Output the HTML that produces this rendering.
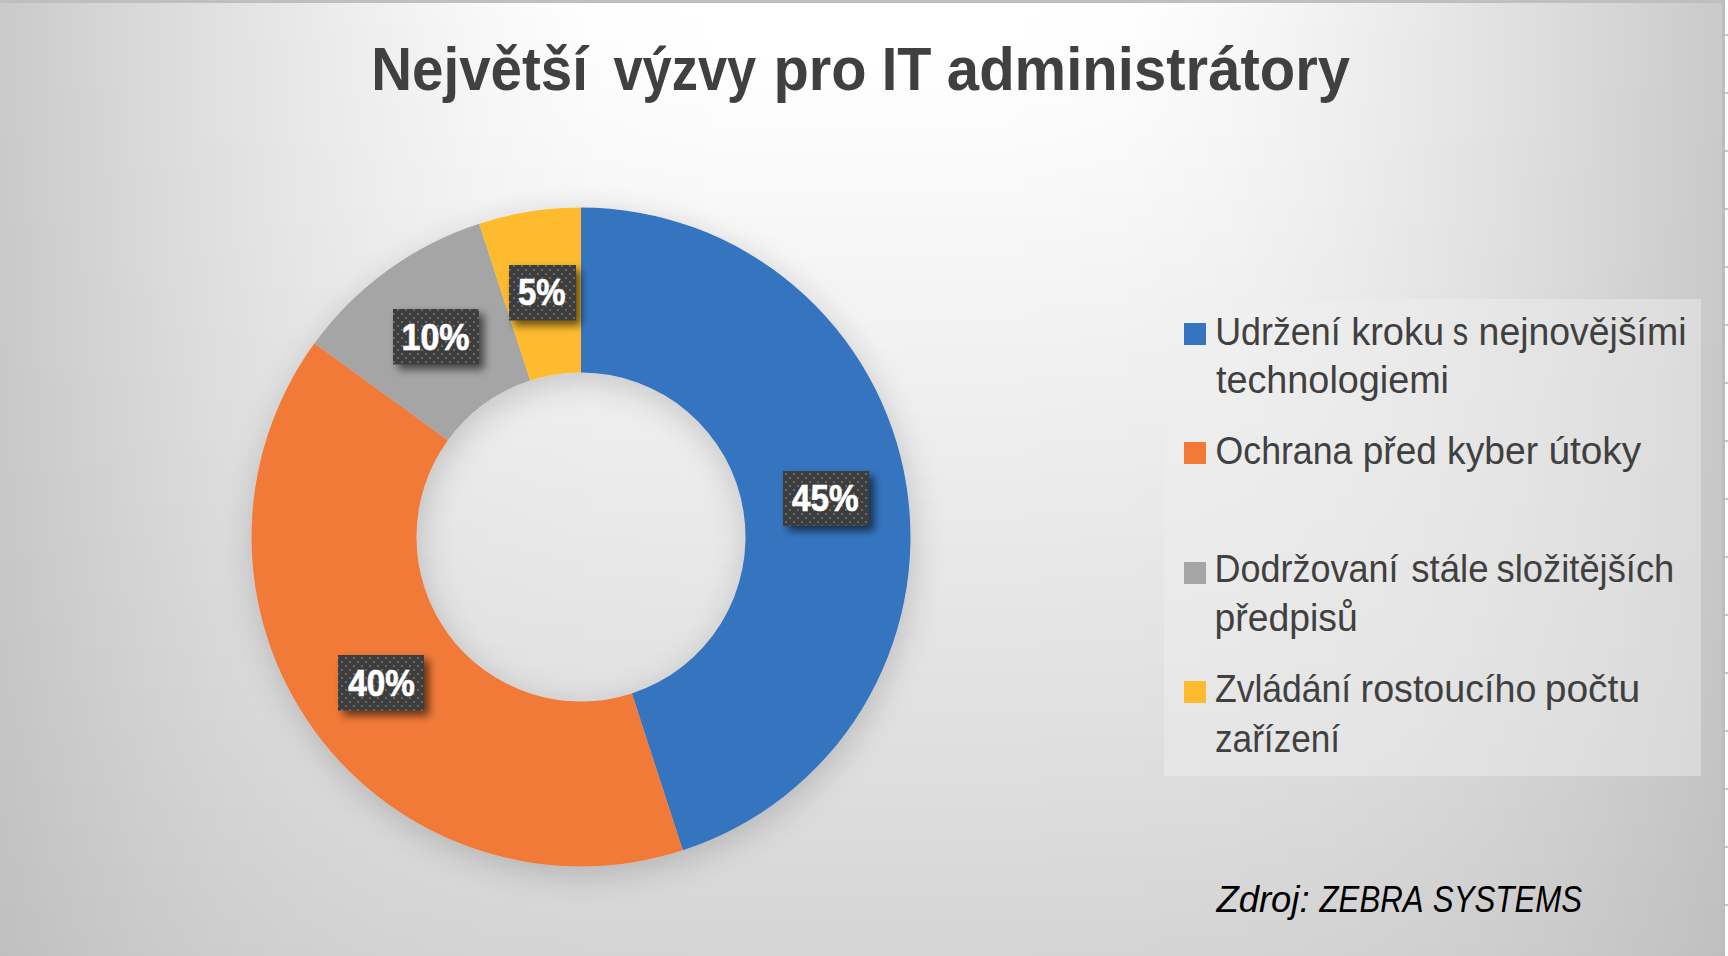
<!DOCTYPE html>
<html>
<head>
<meta charset="utf-8">
<style>
html,body{margin:0;padding:0;width:1728px;height:956px;overflow:hidden;background:#ffffff;}
#chart{position:absolute;left:0;top:0;width:1728px;height:956px;}
svg text{font-family:"Liberation Sans",sans-serif;}
</style>
</head>
<body>
<svg id="chart" width="1728" height="956" viewBox="0 0 1728 956">
<defs>
<linearGradient id="r0" gradientUnits="userSpaceOnUse" x1="0" y1="0" x2="861" y2="0" spreadMethod="reflect"><stop offset="0.0000" stop-color="#cacaca"/><stop offset="0.0465" stop-color="#cecece"/><stop offset="0.1045" stop-color="#d4d4d4"/><stop offset="0.1742" stop-color="#dadada"/><stop offset="0.2555" stop-color="#e1e1e1"/><stop offset="0.3484" stop-color="#e9e9e9"/><stop offset="0.4530" stop-color="#f1f1f1"/><stop offset="0.5691" stop-color="#f9f9f9"/><stop offset="0.6969" stop-color="#ffffff"/><stop offset="0.8362" stop-color="#ffffff"/><stop offset="1.0000" stop-color="#ffffff"/></linearGradient>
<linearGradient id="r1" gradientUnits="userSpaceOnUse" x1="0" y1="0" x2="861" y2="0" spreadMethod="reflect"><stop offset="0.0000" stop-color="#cacaca"/><stop offset="0.0465" stop-color="#cecece"/><stop offset="0.1045" stop-color="#d4d4d4"/><stop offset="0.1742" stop-color="#dadada"/><stop offset="0.2555" stop-color="#e1e1e1"/><stop offset="0.3484" stop-color="#e9e9e9"/><stop offset="0.4530" stop-color="#f1f1f1"/><stop offset="0.5691" stop-color="#f9f9f9"/><stop offset="0.6969" stop-color="#ffffff"/><stop offset="0.8362" stop-color="#ffffff"/><stop offset="1.0000" stop-color="#ffffff"/></linearGradient>
<linearGradient id="r2" gradientUnits="userSpaceOnUse" x1="0" y1="0" x2="861" y2="0" spreadMethod="reflect"><stop offset="0.0000" stop-color="#cacaca"/><stop offset="0.0465" stop-color="#cecece"/><stop offset="0.1045" stop-color="#d4d4d4"/><stop offset="0.1742" stop-color="#dadada"/><stop offset="0.2555" stop-color="#e1e1e1"/><stop offset="0.3484" stop-color="#e9e9e9"/><stop offset="0.4530" stop-color="#f1f1f1"/><stop offset="0.5691" stop-color="#f9f9f9"/><stop offset="0.6969" stop-color="#ffffff"/><stop offset="0.8362" stop-color="#ffffff"/><stop offset="1.0000" stop-color="#ffffff"/></linearGradient>
<linearGradient id="r3" gradientUnits="userSpaceOnUse" x1="0" y1="0" x2="861" y2="0" spreadMethod="reflect"><stop offset="0.0000" stop-color="#cacaca"/><stop offset="0.0465" stop-color="#cecece"/><stop offset="0.1045" stop-color="#d4d4d4"/><stop offset="0.1742" stop-color="#dadada"/><stop offset="0.2555" stop-color="#e1e1e1"/><stop offset="0.3484" stop-color="#e9e9e9"/><stop offset="0.4530" stop-color="#f1f1f1"/><stop offset="0.5691" stop-color="#f8f8f8"/><stop offset="0.6969" stop-color="#fefefe"/><stop offset="0.8362" stop-color="#ffffff"/><stop offset="1.0000" stop-color="#ffffff"/></linearGradient>
<linearGradient id="r4" gradientUnits="userSpaceOnUse" x1="0" y1="0" x2="861" y2="0" spreadMethod="reflect"><stop offset="0.0000" stop-color="#cacaca"/><stop offset="0.0465" stop-color="#cecece"/><stop offset="0.1045" stop-color="#d4d4d4"/><stop offset="0.1742" stop-color="#dadada"/><stop offset="0.2555" stop-color="#e1e1e1"/><stop offset="0.3484" stop-color="#e9e9e9"/><stop offset="0.4530" stop-color="#f1f1f1"/><stop offset="0.5691" stop-color="#f8f8f8"/><stop offset="0.6969" stop-color="#fefefe"/><stop offset="0.8362" stop-color="#ffffff"/><stop offset="1.0000" stop-color="#ffffff"/></linearGradient>
<linearGradient id="r5" gradientUnits="userSpaceOnUse" x1="0" y1="0" x2="861" y2="0" spreadMethod="reflect"><stop offset="0.0000" stop-color="#cacaca"/><stop offset="0.0465" stop-color="#cecece"/><stop offset="0.1045" stop-color="#d4d4d4"/><stop offset="0.1742" stop-color="#dadada"/><stop offset="0.2555" stop-color="#e1e1e1"/><stop offset="0.3484" stop-color="#e9e9e9"/><stop offset="0.4530" stop-color="#f1f1f1"/><stop offset="0.5691" stop-color="#f8f8f8"/><stop offset="0.6969" stop-color="#fefefe"/><stop offset="0.8362" stop-color="#ffffff"/><stop offset="1.0000" stop-color="#ffffff"/></linearGradient>
<linearGradient id="r6" gradientUnits="userSpaceOnUse" x1="0" y1="0" x2="861" y2="0" spreadMethod="reflect"><stop offset="0.0000" stop-color="#cacaca"/><stop offset="0.0465" stop-color="#cecece"/><stop offset="0.1045" stop-color="#d4d4d4"/><stop offset="0.1742" stop-color="#dadada"/><stop offset="0.2555" stop-color="#e1e1e1"/><stop offset="0.3484" stop-color="#e9e9e9"/><stop offset="0.4530" stop-color="#f0f0f0"/><stop offset="0.5691" stop-color="#f8f8f8"/><stop offset="0.6969" stop-color="#fefefe"/><stop offset="0.8362" stop-color="#ffffff"/><stop offset="1.0000" stop-color="#ffffff"/></linearGradient>
<linearGradient id="r7" gradientUnits="userSpaceOnUse" x1="0" y1="0" x2="861" y2="0" spreadMethod="reflect"><stop offset="0.0000" stop-color="#cacaca"/><stop offset="0.0465" stop-color="#cecece"/><stop offset="0.1045" stop-color="#d4d4d4"/><stop offset="0.1742" stop-color="#dadada"/><stop offset="0.2555" stop-color="#e1e1e1"/><stop offset="0.3484" stop-color="#e9e9e9"/><stop offset="0.4530" stop-color="#f0f0f0"/><stop offset="0.5691" stop-color="#f8f8f8"/><stop offset="0.6969" stop-color="#fefefe"/><stop offset="0.8362" stop-color="#ffffff"/><stop offset="1.0000" stop-color="#ffffff"/></linearGradient>
<linearGradient id="r8" gradientUnits="userSpaceOnUse" x1="0" y1="0" x2="861" y2="0" spreadMethod="reflect"><stop offset="0.0000" stop-color="#cacaca"/><stop offset="0.0465" stop-color="#cecece"/><stop offset="0.1045" stop-color="#d4d4d4"/><stop offset="0.1742" stop-color="#dadada"/><stop offset="0.2555" stop-color="#e1e1e1"/><stop offset="0.3484" stop-color="#e9e9e9"/><stop offset="0.4530" stop-color="#f0f0f0"/><stop offset="0.5691" stop-color="#f8f8f8"/><stop offset="0.6969" stop-color="#fefefe"/><stop offset="0.8362" stop-color="#ffffff"/><stop offset="1.0000" stop-color="#ffffff"/></linearGradient>
<linearGradient id="r9" gradientUnits="userSpaceOnUse" x1="0" y1="0" x2="861" y2="0" spreadMethod="reflect"><stop offset="0.0000" stop-color="#cacaca"/><stop offset="0.0465" stop-color="#cecece"/><stop offset="0.1045" stop-color="#d4d4d4"/><stop offset="0.1742" stop-color="#dadada"/><stop offset="0.2555" stop-color="#e1e1e1"/><stop offset="0.3484" stop-color="#e8e8e8"/><stop offset="0.4530" stop-color="#f0f0f0"/><stop offset="0.5691" stop-color="#f8f8f8"/><stop offset="0.6969" stop-color="#fefefe"/><stop offset="0.8362" stop-color="#ffffff"/><stop offset="1.0000" stop-color="#ffffff"/></linearGradient>
<linearGradient id="r10" gradientUnits="userSpaceOnUse" x1="0" y1="0" x2="861" y2="0" spreadMethod="reflect"><stop offset="0.0000" stop-color="#cacaca"/><stop offset="0.0465" stop-color="#cecece"/><stop offset="0.1045" stop-color="#d4d4d4"/><stop offset="0.1742" stop-color="#dadada"/><stop offset="0.2555" stop-color="#e1e1e1"/><stop offset="0.3484" stop-color="#e8e8e8"/><stop offset="0.4530" stop-color="#f0f0f0"/><stop offset="0.5691" stop-color="#f8f8f8"/><stop offset="0.6969" stop-color="#fdfdfd"/><stop offset="0.8362" stop-color="#ffffff"/><stop offset="1.0000" stop-color="#ffffff"/></linearGradient>
<linearGradient id="r11" gradientUnits="userSpaceOnUse" x1="0" y1="0" x2="861" y2="0" spreadMethod="reflect"><stop offset="0.0000" stop-color="#cacaca"/><stop offset="0.0465" stop-color="#cecece"/><stop offset="0.1045" stop-color="#d4d4d4"/><stop offset="0.1742" stop-color="#dadada"/><stop offset="0.2555" stop-color="#e1e1e1"/><stop offset="0.3484" stop-color="#e8e8e8"/><stop offset="0.4530" stop-color="#f0f0f0"/><stop offset="0.5691" stop-color="#f8f8f8"/><stop offset="0.6969" stop-color="#fdfdfd"/><stop offset="0.8362" stop-color="#ffffff"/><stop offset="1.0000" stop-color="#ffffff"/></linearGradient>
<linearGradient id="r12" gradientUnits="userSpaceOnUse" x1="0" y1="0" x2="861" y2="0" spreadMethod="reflect"><stop offset="0.0000" stop-color="#cacaca"/><stop offset="0.0465" stop-color="#cecece"/><stop offset="0.1045" stop-color="#d4d4d4"/><stop offset="0.1742" stop-color="#dadada"/><stop offset="0.2555" stop-color="#e1e1e1"/><stop offset="0.3484" stop-color="#e8e8e8"/><stop offset="0.4530" stop-color="#f0f0f0"/><stop offset="0.5691" stop-color="#f8f8f8"/><stop offset="0.6969" stop-color="#fdfdfd"/><stop offset="0.8362" stop-color="#ffffff"/><stop offset="1.0000" stop-color="#ffffff"/></linearGradient>
<linearGradient id="r13" gradientUnits="userSpaceOnUse" x1="0" y1="0" x2="861" y2="0" spreadMethod="reflect"><stop offset="0.0000" stop-color="#cacaca"/><stop offset="0.0465" stop-color="#cecece"/><stop offset="0.1045" stop-color="#d4d4d4"/><stop offset="0.1742" stop-color="#dadada"/><stop offset="0.2555" stop-color="#e1e1e1"/><stop offset="0.3484" stop-color="#e8e8e8"/><stop offset="0.4530" stop-color="#f0f0f0"/><stop offset="0.5691" stop-color="#f8f8f8"/><stop offset="0.6969" stop-color="#fdfdfd"/><stop offset="0.8362" stop-color="#ffffff"/><stop offset="1.0000" stop-color="#ffffff"/></linearGradient>
<linearGradient id="r14" gradientUnits="userSpaceOnUse" x1="0" y1="0" x2="861" y2="0" spreadMethod="reflect"><stop offset="0.0000" stop-color="#cacaca"/><stop offset="0.0465" stop-color="#cecece"/><stop offset="0.1045" stop-color="#d4d4d4"/><stop offset="0.1742" stop-color="#dadada"/><stop offset="0.2555" stop-color="#e1e1e1"/><stop offset="0.3484" stop-color="#e8e8e8"/><stop offset="0.4530" stop-color="#f0f0f0"/><stop offset="0.5691" stop-color="#f7f7f7"/><stop offset="0.6969" stop-color="#fdfdfd"/><stop offset="0.8362" stop-color="#ffffff"/><stop offset="1.0000" stop-color="#ffffff"/></linearGradient>
<linearGradient id="r15" gradientUnits="userSpaceOnUse" x1="0" y1="0" x2="861" y2="0" spreadMethod="reflect"><stop offset="0.0000" stop-color="#cacaca"/><stop offset="0.0465" stop-color="#cecece"/><stop offset="0.1045" stop-color="#d4d4d4"/><stop offset="0.1742" stop-color="#dadada"/><stop offset="0.2555" stop-color="#e1e1e1"/><stop offset="0.3484" stop-color="#e8e8e8"/><stop offset="0.4530" stop-color="#f0f0f0"/><stop offset="0.5691" stop-color="#f7f7f7"/><stop offset="0.6969" stop-color="#fdfdfd"/><stop offset="0.8362" stop-color="#fefefe"/><stop offset="1.0000" stop-color="#ffffff"/></linearGradient>
<linearGradient id="r16" gradientUnits="userSpaceOnUse" x1="0" y1="0" x2="861" y2="0" spreadMethod="reflect"><stop offset="0.0000" stop-color="#cacaca"/><stop offset="0.0465" stop-color="#cecece"/><stop offset="0.1045" stop-color="#d4d4d4"/><stop offset="0.1742" stop-color="#dadada"/><stop offset="0.2555" stop-color="#e1e1e1"/><stop offset="0.3484" stop-color="#e8e8e8"/><stop offset="0.4530" stop-color="#f0f0f0"/><stop offset="0.5691" stop-color="#f7f7f7"/><stop offset="0.6969" stop-color="#fcfcfc"/><stop offset="0.8362" stop-color="#fefefe"/><stop offset="1.0000" stop-color="#fefefe"/></linearGradient>
<linearGradient id="r17" gradientUnits="userSpaceOnUse" x1="0" y1="0" x2="861" y2="0" spreadMethod="reflect"><stop offset="0.0000" stop-color="#cacaca"/><stop offset="0.0465" stop-color="#cecece"/><stop offset="0.1045" stop-color="#d4d4d4"/><stop offset="0.1742" stop-color="#dadada"/><stop offset="0.2555" stop-color="#e1e1e1"/><stop offset="0.3484" stop-color="#e8e8e8"/><stop offset="0.4530" stop-color="#f0f0f0"/><stop offset="0.5691" stop-color="#f7f7f7"/><stop offset="0.6969" stop-color="#fcfcfc"/><stop offset="0.8362" stop-color="#fefefe"/><stop offset="1.0000" stop-color="#fefefe"/></linearGradient>
<linearGradient id="r18" gradientUnits="userSpaceOnUse" x1="0" y1="0" x2="861" y2="0" spreadMethod="reflect"><stop offset="0.0000" stop-color="#cacaca"/><stop offset="0.0465" stop-color="#cecece"/><stop offset="0.1045" stop-color="#d4d4d4"/><stop offset="0.1742" stop-color="#dadada"/><stop offset="0.2555" stop-color="#e1e1e1"/><stop offset="0.3484" stop-color="#e8e8e8"/><stop offset="0.4530" stop-color="#f0f0f0"/><stop offset="0.5691" stop-color="#f7f7f7"/><stop offset="0.6969" stop-color="#fcfcfc"/><stop offset="0.8362" stop-color="#fefefe"/><stop offset="1.0000" stop-color="#fefefe"/></linearGradient>
<linearGradient id="r19" gradientUnits="userSpaceOnUse" x1="0" y1="0" x2="861" y2="0" spreadMethod="reflect"><stop offset="0.0000" stop-color="#cacaca"/><stop offset="0.0465" stop-color="#cecece"/><stop offset="0.1045" stop-color="#d4d4d4"/><stop offset="0.1742" stop-color="#dadada"/><stop offset="0.2555" stop-color="#e1e1e1"/><stop offset="0.3484" stop-color="#e8e8e8"/><stop offset="0.4530" stop-color="#f0f0f0"/><stop offset="0.5691" stop-color="#f7f7f7"/><stop offset="0.6969" stop-color="#fcfcfc"/><stop offset="0.8362" stop-color="#fefefe"/><stop offset="1.0000" stop-color="#fefefe"/></linearGradient>
<linearGradient id="r20" gradientUnits="userSpaceOnUse" x1="0" y1="0" x2="861" y2="0" spreadMethod="reflect"><stop offset="0.0000" stop-color="#cacaca"/><stop offset="0.0465" stop-color="#cecece"/><stop offset="0.1045" stop-color="#d4d4d4"/><stop offset="0.1742" stop-color="#dadada"/><stop offset="0.2555" stop-color="#e1e1e1"/><stop offset="0.3484" stop-color="#e8e8e8"/><stop offset="0.4530" stop-color="#f0f0f0"/><stop offset="0.5691" stop-color="#f7f7f7"/><stop offset="0.6969" stop-color="#fcfcfc"/><stop offset="0.8362" stop-color="#fefefe"/><stop offset="1.0000" stop-color="#fefefe"/></linearGradient>
<linearGradient id="r21" gradientUnits="userSpaceOnUse" x1="0" y1="0" x2="861" y2="0" spreadMethod="reflect"><stop offset="0.0000" stop-color="#cacaca"/><stop offset="0.0465" stop-color="#cecece"/><stop offset="0.1045" stop-color="#d4d4d4"/><stop offset="0.1742" stop-color="#dadada"/><stop offset="0.2555" stop-color="#e1e1e1"/><stop offset="0.3484" stop-color="#e8e8e8"/><stop offset="0.4530" stop-color="#f0f0f0"/><stop offset="0.5691" stop-color="#f7f7f7"/><stop offset="0.6969" stop-color="#fcfcfc"/><stop offset="0.8362" stop-color="#fdfdfd"/><stop offset="1.0000" stop-color="#fdfdfd"/></linearGradient>
<linearGradient id="r22" gradientUnits="userSpaceOnUse" x1="0" y1="0" x2="861" y2="0" spreadMethod="reflect"><stop offset="0.0000" stop-color="#cacaca"/><stop offset="0.0465" stop-color="#cecece"/><stop offset="0.1045" stop-color="#d3d3d3"/><stop offset="0.1742" stop-color="#dadada"/><stop offset="0.2555" stop-color="#e1e1e1"/><stop offset="0.3484" stop-color="#e8e8e8"/><stop offset="0.4530" stop-color="#f0f0f0"/><stop offset="0.5691" stop-color="#f7f7f7"/><stop offset="0.6969" stop-color="#fcfcfc"/><stop offset="0.8362" stop-color="#fdfdfd"/><stop offset="1.0000" stop-color="#fdfdfd"/></linearGradient>
<linearGradient id="r23" gradientUnits="userSpaceOnUse" x1="0" y1="0" x2="861" y2="0" spreadMethod="reflect"><stop offset="0.0000" stop-color="#cacaca"/><stop offset="0.0465" stop-color="#cecece"/><stop offset="0.1045" stop-color="#d3d3d3"/><stop offset="0.1742" stop-color="#dadada"/><stop offset="0.2555" stop-color="#e1e1e1"/><stop offset="0.3484" stop-color="#e8e8e8"/><stop offset="0.4530" stop-color="#f0f0f0"/><stop offset="0.5691" stop-color="#f7f7f7"/><stop offset="0.6969" stop-color="#fbfbfb"/><stop offset="0.8362" stop-color="#fdfdfd"/><stop offset="1.0000" stop-color="#fdfdfd"/></linearGradient>
<linearGradient id="r24" gradientUnits="userSpaceOnUse" x1="0" y1="0" x2="861" y2="0" spreadMethod="reflect"><stop offset="0.0000" stop-color="#cacaca"/><stop offset="0.0465" stop-color="#cecece"/><stop offset="0.1045" stop-color="#d3d3d3"/><stop offset="0.1742" stop-color="#dadada"/><stop offset="0.2555" stop-color="#e1e1e1"/><stop offset="0.3484" stop-color="#e8e8e8"/><stop offset="0.4530" stop-color="#f0f0f0"/><stop offset="0.5691" stop-color="#f6f6f6"/><stop offset="0.6969" stop-color="#fbfbfb"/><stop offset="0.8362" stop-color="#fdfdfd"/><stop offset="1.0000" stop-color="#fdfdfd"/></linearGradient>
<linearGradient id="r25" gradientUnits="userSpaceOnUse" x1="0" y1="0" x2="861" y2="0" spreadMethod="reflect"><stop offset="0.0000" stop-color="#cacaca"/><stop offset="0.0465" stop-color="#cecece"/><stop offset="0.1045" stop-color="#d3d3d3"/><stop offset="0.1742" stop-color="#dadada"/><stop offset="0.2555" stop-color="#e1e1e1"/><stop offset="0.3484" stop-color="#e8e8e8"/><stop offset="0.4530" stop-color="#efefef"/><stop offset="0.5691" stop-color="#f6f6f6"/><stop offset="0.6969" stop-color="#fbfbfb"/><stop offset="0.8362" stop-color="#fdfdfd"/><stop offset="1.0000" stop-color="#fdfdfd"/></linearGradient>
<linearGradient id="r26" gradientUnits="userSpaceOnUse" x1="0" y1="0" x2="861" y2="0" spreadMethod="reflect"><stop offset="0.0000" stop-color="#cacaca"/><stop offset="0.0465" stop-color="#cecece"/><stop offset="0.1045" stop-color="#d3d3d3"/><stop offset="0.1742" stop-color="#dadada"/><stop offset="0.2555" stop-color="#e1e1e1"/><stop offset="0.3484" stop-color="#e8e8e8"/><stop offset="0.4530" stop-color="#efefef"/><stop offset="0.5691" stop-color="#f6f6f6"/><stop offset="0.6969" stop-color="#fbfbfb"/><stop offset="0.8362" stop-color="#fcfcfc"/><stop offset="1.0000" stop-color="#fdfdfd"/></linearGradient>
<linearGradient id="r27" gradientUnits="userSpaceOnUse" x1="0" y1="0" x2="861" y2="0" spreadMethod="reflect"><stop offset="0.0000" stop-color="#cacaca"/><stop offset="0.0465" stop-color="#cecece"/><stop offset="0.1045" stop-color="#d3d3d3"/><stop offset="0.1742" stop-color="#dadada"/><stop offset="0.2555" stop-color="#e1e1e1"/><stop offset="0.3484" stop-color="#e8e8e8"/><stop offset="0.4530" stop-color="#efefef"/><stop offset="0.5691" stop-color="#f6f6f6"/><stop offset="0.6969" stop-color="#fbfbfb"/><stop offset="0.8362" stop-color="#fcfcfc"/><stop offset="1.0000" stop-color="#fcfcfc"/></linearGradient>
<linearGradient id="r28" gradientUnits="userSpaceOnUse" x1="0" y1="0" x2="861" y2="0" spreadMethod="reflect"><stop offset="0.0000" stop-color="#cacaca"/><stop offset="0.0465" stop-color="#cecece"/><stop offset="0.1045" stop-color="#d3d3d3"/><stop offset="0.1742" stop-color="#dadada"/><stop offset="0.2555" stop-color="#e1e1e1"/><stop offset="0.3484" stop-color="#e8e8e8"/><stop offset="0.4530" stop-color="#efefef"/><stop offset="0.5691" stop-color="#f6f6f6"/><stop offset="0.6969" stop-color="#fbfbfb"/><stop offset="0.8362" stop-color="#fcfcfc"/><stop offset="1.0000" stop-color="#fcfcfc"/></linearGradient>
<linearGradient id="r29" gradientUnits="userSpaceOnUse" x1="0" y1="0" x2="861" y2="0" spreadMethod="reflect"><stop offset="0.0000" stop-color="#cacaca"/><stop offset="0.0465" stop-color="#cecece"/><stop offset="0.1045" stop-color="#d3d3d3"/><stop offset="0.1742" stop-color="#dadada"/><stop offset="0.2555" stop-color="#e1e1e1"/><stop offset="0.3484" stop-color="#e8e8e8"/><stop offset="0.4530" stop-color="#efefef"/><stop offset="0.5691" stop-color="#f6f6f6"/><stop offset="0.6969" stop-color="#fafafa"/><stop offset="0.8362" stop-color="#fcfcfc"/><stop offset="1.0000" stop-color="#fcfcfc"/></linearGradient>
<linearGradient id="r30" gradientUnits="userSpaceOnUse" x1="0" y1="0" x2="861" y2="0" spreadMethod="reflect"><stop offset="0.0000" stop-color="#cacaca"/><stop offset="0.0465" stop-color="#cecece"/><stop offset="0.1045" stop-color="#d3d3d3"/><stop offset="0.1742" stop-color="#dadada"/><stop offset="0.2555" stop-color="#e1e1e1"/><stop offset="0.3484" stop-color="#e8e8e8"/><stop offset="0.4530" stop-color="#efefef"/><stop offset="0.5691" stop-color="#f6f6f6"/><stop offset="0.6969" stop-color="#fafafa"/><stop offset="0.8362" stop-color="#fcfcfc"/><stop offset="1.0000" stop-color="#fcfcfc"/></linearGradient>
<linearGradient id="r31" gradientUnits="userSpaceOnUse" x1="0" y1="0" x2="861" y2="0" spreadMethod="reflect"><stop offset="0.0000" stop-color="#cacaca"/><stop offset="0.0465" stop-color="#cecece"/><stop offset="0.1045" stop-color="#d3d3d3"/><stop offset="0.1742" stop-color="#dadada"/><stop offset="0.2555" stop-color="#e1e1e1"/><stop offset="0.3484" stop-color="#e8e8e8"/><stop offset="0.4530" stop-color="#efefef"/><stop offset="0.5691" stop-color="#f6f6f6"/><stop offset="0.6969" stop-color="#fafafa"/><stop offset="0.8362" stop-color="#fcfcfc"/><stop offset="1.0000" stop-color="#fcfcfc"/></linearGradient>
<linearGradient id="r32" gradientUnits="userSpaceOnUse" x1="0" y1="0" x2="861" y2="0" spreadMethod="reflect"><stop offset="0.0000" stop-color="#cacaca"/><stop offset="0.0465" stop-color="#cecece"/><stop offset="0.1045" stop-color="#d3d3d3"/><stop offset="0.1742" stop-color="#dadada"/><stop offset="0.2555" stop-color="#e1e1e1"/><stop offset="0.3484" stop-color="#e8e8e8"/><stop offset="0.4530" stop-color="#efefef"/><stop offset="0.5691" stop-color="#f6f6f6"/><stop offset="0.6969" stop-color="#fafafa"/><stop offset="0.8362" stop-color="#fbfbfb"/><stop offset="1.0000" stop-color="#fbfbfb"/></linearGradient>
<linearGradient id="r33" gradientUnits="userSpaceOnUse" x1="0" y1="0" x2="861" y2="0" spreadMethod="reflect"><stop offset="0.0000" stop-color="#cacaca"/><stop offset="0.0465" stop-color="#cecece"/><stop offset="0.1045" stop-color="#d3d3d3"/><stop offset="0.1742" stop-color="#dadada"/><stop offset="0.2555" stop-color="#e1e1e1"/><stop offset="0.3484" stop-color="#e8e8e8"/><stop offset="0.4530" stop-color="#efefef"/><stop offset="0.5691" stop-color="#f6f6f6"/><stop offset="0.6969" stop-color="#fafafa"/><stop offset="0.8362" stop-color="#fbfbfb"/><stop offset="1.0000" stop-color="#fbfbfb"/></linearGradient>
<linearGradient id="r34" gradientUnits="userSpaceOnUse" x1="0" y1="0" x2="861" y2="0" spreadMethod="reflect"><stop offset="0.0000" stop-color="#cacaca"/><stop offset="0.0465" stop-color="#cecece"/><stop offset="0.1045" stop-color="#d3d3d3"/><stop offset="0.1742" stop-color="#dadada"/><stop offset="0.2555" stop-color="#e1e1e1"/><stop offset="0.3484" stop-color="#e8e8e8"/><stop offset="0.4530" stop-color="#efefef"/><stop offset="0.5691" stop-color="#f5f5f5"/><stop offset="0.6969" stop-color="#fafafa"/><stop offset="0.8362" stop-color="#fbfbfb"/><stop offset="1.0000" stop-color="#fbfbfb"/></linearGradient>
<linearGradient id="r35" gradientUnits="userSpaceOnUse" x1="0" y1="0" x2="861" y2="0" spreadMethod="reflect"><stop offset="0.0000" stop-color="#c9c9c9"/><stop offset="0.0465" stop-color="#cecece"/><stop offset="0.1045" stop-color="#d3d3d3"/><stop offset="0.1742" stop-color="#dadada"/><stop offset="0.2555" stop-color="#e0e0e0"/><stop offset="0.3484" stop-color="#e8e8e8"/><stop offset="0.4530" stop-color="#efefef"/><stop offset="0.5691" stop-color="#f5f5f5"/><stop offset="0.6969" stop-color="#f9f9f9"/><stop offset="0.8362" stop-color="#fbfbfb"/><stop offset="1.0000" stop-color="#fbfbfb"/></linearGradient>
<linearGradient id="r36" gradientUnits="userSpaceOnUse" x1="0" y1="0" x2="861" y2="0" spreadMethod="reflect"><stop offset="0.0000" stop-color="#c9c9c9"/><stop offset="0.0465" stop-color="#cecece"/><stop offset="0.1045" stop-color="#d3d3d3"/><stop offset="0.1742" stop-color="#dadada"/><stop offset="0.2555" stop-color="#e0e0e0"/><stop offset="0.3484" stop-color="#e7e7e7"/><stop offset="0.4530" stop-color="#efefef"/><stop offset="0.5691" stop-color="#f5f5f5"/><stop offset="0.6969" stop-color="#f9f9f9"/><stop offset="0.8362" stop-color="#fbfbfb"/><stop offset="1.0000" stop-color="#fbfbfb"/></linearGradient>
<linearGradient id="r37" gradientUnits="userSpaceOnUse" x1="0" y1="0" x2="861" y2="0" spreadMethod="reflect"><stop offset="0.0000" stop-color="#c9c9c9"/><stop offset="0.0465" stop-color="#cecece"/><stop offset="0.1045" stop-color="#d3d3d3"/><stop offset="0.1742" stop-color="#dadada"/><stop offset="0.2555" stop-color="#e0e0e0"/><stop offset="0.3484" stop-color="#e7e7e7"/><stop offset="0.4530" stop-color="#efefef"/><stop offset="0.5691" stop-color="#f5f5f5"/><stop offset="0.6969" stop-color="#f9f9f9"/><stop offset="0.8362" stop-color="#fafafa"/><stop offset="1.0000" stop-color="#fbfbfb"/></linearGradient>
<linearGradient id="r38" gradientUnits="userSpaceOnUse" x1="0" y1="0" x2="861" y2="0" spreadMethod="reflect"><stop offset="0.0000" stop-color="#c9c9c9"/><stop offset="0.0465" stop-color="#cecece"/><stop offset="0.1045" stop-color="#d3d3d3"/><stop offset="0.1742" stop-color="#dadada"/><stop offset="0.2555" stop-color="#e0e0e0"/><stop offset="0.3484" stop-color="#e7e7e7"/><stop offset="0.4530" stop-color="#efefef"/><stop offset="0.5691" stop-color="#f5f5f5"/><stop offset="0.6969" stop-color="#f9f9f9"/><stop offset="0.8362" stop-color="#fafafa"/><stop offset="1.0000" stop-color="#fafafa"/></linearGradient>
<linearGradient id="r39" gradientUnits="userSpaceOnUse" x1="0" y1="0" x2="861" y2="0" spreadMethod="reflect"><stop offset="0.0000" stop-color="#c9c9c9"/><stop offset="0.0465" stop-color="#cecece"/><stop offset="0.1045" stop-color="#d3d3d3"/><stop offset="0.1742" stop-color="#dadada"/><stop offset="0.2555" stop-color="#e0e0e0"/><stop offset="0.3484" stop-color="#e7e7e7"/><stop offset="0.4530" stop-color="#efefef"/><stop offset="0.5691" stop-color="#f5f5f5"/><stop offset="0.6969" stop-color="#f9f9f9"/><stop offset="0.8362" stop-color="#fafafa"/><stop offset="1.0000" stop-color="#fafafa"/></linearGradient>
<linearGradient id="r40" gradientUnits="userSpaceOnUse" x1="0" y1="0" x2="861" y2="0" spreadMethod="reflect"><stop offset="0.0000" stop-color="#c9c9c9"/><stop offset="0.0465" stop-color="#cecece"/><stop offset="0.1045" stop-color="#d3d3d3"/><stop offset="0.1742" stop-color="#dadada"/><stop offset="0.2555" stop-color="#e0e0e0"/><stop offset="0.3484" stop-color="#e7e7e7"/><stop offset="0.4530" stop-color="#eeeeee"/><stop offset="0.5691" stop-color="#f5f5f5"/><stop offset="0.6969" stop-color="#f9f9f9"/><stop offset="0.8362" stop-color="#fafafa"/><stop offset="1.0000" stop-color="#fafafa"/></linearGradient>
<linearGradient id="r41" gradientUnits="userSpaceOnUse" x1="0" y1="0" x2="861" y2="0" spreadMethod="reflect"><stop offset="0.0000" stop-color="#c9c9c9"/><stop offset="0.0465" stop-color="#cecece"/><stop offset="0.1045" stop-color="#d3d3d3"/><stop offset="0.1742" stop-color="#dadada"/><stop offset="0.2555" stop-color="#e0e0e0"/><stop offset="0.3484" stop-color="#e7e7e7"/><stop offset="0.4530" stop-color="#eeeeee"/><stop offset="0.5691" stop-color="#f5f5f5"/><stop offset="0.6969" stop-color="#f8f8f8"/><stop offset="0.8362" stop-color="#fafafa"/><stop offset="1.0000" stop-color="#fafafa"/></linearGradient>
<linearGradient id="r42" gradientUnits="userSpaceOnUse" x1="0" y1="0" x2="861" y2="0" spreadMethod="reflect"><stop offset="0.0000" stop-color="#c9c9c9"/><stop offset="0.0465" stop-color="#cecece"/><stop offset="0.1045" stop-color="#d3d3d3"/><stop offset="0.1742" stop-color="#dadada"/><stop offset="0.2555" stop-color="#e0e0e0"/><stop offset="0.3484" stop-color="#e7e7e7"/><stop offset="0.4530" stop-color="#eeeeee"/><stop offset="0.5691" stop-color="#f4f4f4"/><stop offset="0.6969" stop-color="#f8f8f8"/><stop offset="0.8362" stop-color="#fafafa"/><stop offset="1.0000" stop-color="#fafafa"/></linearGradient>
<linearGradient id="r43" gradientUnits="userSpaceOnUse" x1="0" y1="0" x2="861" y2="0" spreadMethod="reflect"><stop offset="0.0000" stop-color="#c9c9c9"/><stop offset="0.0465" stop-color="#cecece"/><stop offset="0.1045" stop-color="#d3d3d3"/><stop offset="0.1742" stop-color="#d9d9d9"/><stop offset="0.2555" stop-color="#e0e0e0"/><stop offset="0.3484" stop-color="#e7e7e7"/><stop offset="0.4530" stop-color="#eeeeee"/><stop offset="0.5691" stop-color="#f4f4f4"/><stop offset="0.6969" stop-color="#f8f8f8"/><stop offset="0.8362" stop-color="#f9f9f9"/><stop offset="1.0000" stop-color="#f9f9f9"/></linearGradient>
<linearGradient id="r44" gradientUnits="userSpaceOnUse" x1="0" y1="0" x2="861" y2="0" spreadMethod="reflect"><stop offset="0.0000" stop-color="#c9c9c9"/><stop offset="0.0465" stop-color="#cecece"/><stop offset="0.1045" stop-color="#d3d3d3"/><stop offset="0.1742" stop-color="#d9d9d9"/><stop offset="0.2555" stop-color="#e0e0e0"/><stop offset="0.3484" stop-color="#e7e7e7"/><stop offset="0.4530" stop-color="#eeeeee"/><stop offset="0.5691" stop-color="#f4f4f4"/><stop offset="0.6969" stop-color="#f8f8f8"/><stop offset="0.8362" stop-color="#f9f9f9"/><stop offset="1.0000" stop-color="#f9f9f9"/></linearGradient>
<linearGradient id="r45" gradientUnits="userSpaceOnUse" x1="0" y1="0" x2="861" y2="0" spreadMethod="reflect"><stop offset="0.0000" stop-color="#c9c9c9"/><stop offset="0.0465" stop-color="#cecece"/><stop offset="0.1045" stop-color="#d3d3d3"/><stop offset="0.1742" stop-color="#d9d9d9"/><stop offset="0.2555" stop-color="#e0e0e0"/><stop offset="0.3484" stop-color="#e7e7e7"/><stop offset="0.4530" stop-color="#eeeeee"/><stop offset="0.5691" stop-color="#f4f4f4"/><stop offset="0.6969" stop-color="#f8f8f8"/><stop offset="0.8362" stop-color="#f9f9f9"/><stop offset="1.0000" stop-color="#f9f9f9"/></linearGradient>
<linearGradient id="r46" gradientUnits="userSpaceOnUse" x1="0" y1="0" x2="861" y2="0" spreadMethod="reflect"><stop offset="0.0000" stop-color="#c9c9c9"/><stop offset="0.0465" stop-color="#cecece"/><stop offset="0.1045" stop-color="#d3d3d3"/><stop offset="0.1742" stop-color="#d9d9d9"/><stop offset="0.2555" stop-color="#e0e0e0"/><stop offset="0.3484" stop-color="#e7e7e7"/><stop offset="0.4530" stop-color="#eeeeee"/><stop offset="0.5691" stop-color="#f4f4f4"/><stop offset="0.6969" stop-color="#f8f8f8"/><stop offset="0.8362" stop-color="#f9f9f9"/><stop offset="1.0000" stop-color="#f9f9f9"/></linearGradient>
<linearGradient id="r47" gradientUnits="userSpaceOnUse" x1="0" y1="0" x2="861" y2="0" spreadMethod="reflect"><stop offset="0.0000" stop-color="#c9c9c9"/><stop offset="0.0465" stop-color="#cecece"/><stop offset="0.1045" stop-color="#d3d3d3"/><stop offset="0.1742" stop-color="#d9d9d9"/><stop offset="0.2555" stop-color="#e0e0e0"/><stop offset="0.3484" stop-color="#e7e7e7"/><stop offset="0.4530" stop-color="#eeeeee"/><stop offset="0.5691" stop-color="#f4f4f4"/><stop offset="0.6969" stop-color="#f8f8f8"/><stop offset="0.8362" stop-color="#f9f9f9"/><stop offset="1.0000" stop-color="#f9f9f9"/></linearGradient>
<linearGradient id="r48" gradientUnits="userSpaceOnUse" x1="0" y1="0" x2="861" y2="0" spreadMethod="reflect"><stop offset="0.0000" stop-color="#c9c9c9"/><stop offset="0.0465" stop-color="#cecece"/><stop offset="0.1045" stop-color="#d3d3d3"/><stop offset="0.1742" stop-color="#d9d9d9"/><stop offset="0.2555" stop-color="#e0e0e0"/><stop offset="0.3484" stop-color="#e7e7e7"/><stop offset="0.4530" stop-color="#eeeeee"/><stop offset="0.5691" stop-color="#f4f4f4"/><stop offset="0.6969" stop-color="#f7f7f7"/><stop offset="0.8362" stop-color="#f8f8f8"/><stop offset="1.0000" stop-color="#f9f9f9"/></linearGradient>
<linearGradient id="r49" gradientUnits="userSpaceOnUse" x1="0" y1="0" x2="861" y2="0" spreadMethod="reflect"><stop offset="0.0000" stop-color="#c9c9c9"/><stop offset="0.0465" stop-color="#cecece"/><stop offset="0.1045" stop-color="#d3d3d3"/><stop offset="0.1742" stop-color="#d9d9d9"/><stop offset="0.2555" stop-color="#e0e0e0"/><stop offset="0.3484" stop-color="#e7e7e7"/><stop offset="0.4530" stop-color="#eeeeee"/><stop offset="0.5691" stop-color="#f4f4f4"/><stop offset="0.6969" stop-color="#f7f7f7"/><stop offset="0.8362" stop-color="#f8f8f8"/><stop offset="1.0000" stop-color="#f8f8f8"/></linearGradient>
<linearGradient id="r50" gradientUnits="userSpaceOnUse" x1="0" y1="0" x2="861" y2="0" spreadMethod="reflect"><stop offset="0.0000" stop-color="#c9c9c9"/><stop offset="0.0465" stop-color="#cecece"/><stop offset="0.1045" stop-color="#d3d3d3"/><stop offset="0.1742" stop-color="#d9d9d9"/><stop offset="0.2555" stop-color="#e0e0e0"/><stop offset="0.3484" stop-color="#e7e7e7"/><stop offset="0.4530" stop-color="#eeeeee"/><stop offset="0.5691" stop-color="#f3f3f3"/><stop offset="0.6969" stop-color="#f7f7f7"/><stop offset="0.8362" stop-color="#f8f8f8"/><stop offset="1.0000" stop-color="#f8f8f8"/></linearGradient>
<linearGradient id="r51" gradientUnits="userSpaceOnUse" x1="0" y1="0" x2="861" y2="0" spreadMethod="reflect"><stop offset="0.0000" stop-color="#c9c9c9"/><stop offset="0.0465" stop-color="#cecece"/><stop offset="0.1045" stop-color="#d3d3d3"/><stop offset="0.1742" stop-color="#d9d9d9"/><stop offset="0.2555" stop-color="#e0e0e0"/><stop offset="0.3484" stop-color="#e7e7e7"/><stop offset="0.4530" stop-color="#eeeeee"/><stop offset="0.5691" stop-color="#f3f3f3"/><stop offset="0.6969" stop-color="#f7f7f7"/><stop offset="0.8362" stop-color="#f8f8f8"/><stop offset="1.0000" stop-color="#f8f8f8"/></linearGradient>
<linearGradient id="r52" gradientUnits="userSpaceOnUse" x1="0" y1="0" x2="861" y2="0" spreadMethod="reflect"><stop offset="0.0000" stop-color="#c9c9c9"/><stop offset="0.0465" stop-color="#cecece"/><stop offset="0.1045" stop-color="#d3d3d3"/><stop offset="0.1742" stop-color="#d9d9d9"/><stop offset="0.2555" stop-color="#e0e0e0"/><stop offset="0.3484" stop-color="#e7e7e7"/><stop offset="0.4530" stop-color="#ededed"/><stop offset="0.5691" stop-color="#f3f3f3"/><stop offset="0.6969" stop-color="#f7f7f7"/><stop offset="0.8362" stop-color="#f8f8f8"/><stop offset="1.0000" stop-color="#f8f8f8"/></linearGradient>
<linearGradient id="r53" gradientUnits="userSpaceOnUse" x1="0" y1="0" x2="861" y2="0" spreadMethod="reflect"><stop offset="0.0000" stop-color="#c9c9c9"/><stop offset="0.0465" stop-color="#cecece"/><stop offset="0.1045" stop-color="#d3d3d3"/><stop offset="0.1742" stop-color="#d9d9d9"/><stop offset="0.2555" stop-color="#e0e0e0"/><stop offset="0.3484" stop-color="#e7e7e7"/><stop offset="0.4530" stop-color="#ededed"/><stop offset="0.5691" stop-color="#f3f3f3"/><stop offset="0.6969" stop-color="#f7f7f7"/><stop offset="0.8362" stop-color="#f8f8f8"/><stop offset="1.0000" stop-color="#f8f8f8"/></linearGradient>
<linearGradient id="r54" gradientUnits="userSpaceOnUse" x1="0" y1="0" x2="861" y2="0" spreadMethod="reflect"><stop offset="0.0000" stop-color="#c9c9c9"/><stop offset="0.0465" stop-color="#cecece"/><stop offset="0.1045" stop-color="#d3d3d3"/><stop offset="0.1742" stop-color="#d9d9d9"/><stop offset="0.2555" stop-color="#e0e0e0"/><stop offset="0.3484" stop-color="#e7e7e7"/><stop offset="0.4530" stop-color="#ededed"/><stop offset="0.5691" stop-color="#f3f3f3"/><stop offset="0.6969" stop-color="#f6f6f6"/><stop offset="0.8362" stop-color="#f7f7f7"/><stop offset="1.0000" stop-color="#f7f7f7"/></linearGradient>
<linearGradient id="r55" gradientUnits="userSpaceOnUse" x1="0" y1="0" x2="861" y2="0" spreadMethod="reflect"><stop offset="0.0000" stop-color="#c9c9c9"/><stop offset="0.0465" stop-color="#cdcdcd"/><stop offset="0.1045" stop-color="#d3d3d3"/><stop offset="0.1742" stop-color="#d9d9d9"/><stop offset="0.2555" stop-color="#e0e0e0"/><stop offset="0.3484" stop-color="#e7e7e7"/><stop offset="0.4530" stop-color="#ededed"/><stop offset="0.5691" stop-color="#f3f3f3"/><stop offset="0.6969" stop-color="#f6f6f6"/><stop offset="0.8362" stop-color="#f7f7f7"/><stop offset="1.0000" stop-color="#f7f7f7"/></linearGradient>
<linearGradient id="r56" gradientUnits="userSpaceOnUse" x1="0" y1="0" x2="861" y2="0" spreadMethod="reflect"><stop offset="0.0000" stop-color="#c9c9c9"/><stop offset="0.0465" stop-color="#cdcdcd"/><stop offset="0.1045" stop-color="#d3d3d3"/><stop offset="0.1742" stop-color="#d9d9d9"/><stop offset="0.2555" stop-color="#e0e0e0"/><stop offset="0.3484" stop-color="#e6e6e6"/><stop offset="0.4530" stop-color="#ededed"/><stop offset="0.5691" stop-color="#f3f3f3"/><stop offset="0.6969" stop-color="#f6f6f6"/><stop offset="0.8362" stop-color="#f7f7f7"/><stop offset="1.0000" stop-color="#f7f7f7"/></linearGradient>
<linearGradient id="r57" gradientUnits="userSpaceOnUse" x1="0" y1="0" x2="861" y2="0" spreadMethod="reflect"><stop offset="0.0000" stop-color="#c9c9c9"/><stop offset="0.0465" stop-color="#cdcdcd"/><stop offset="0.1045" stop-color="#d3d3d3"/><stop offset="0.1742" stop-color="#d9d9d9"/><stop offset="0.2555" stop-color="#e0e0e0"/><stop offset="0.3484" stop-color="#e6e6e6"/><stop offset="0.4530" stop-color="#ededed"/><stop offset="0.5691" stop-color="#f3f3f3"/><stop offset="0.6969" stop-color="#f6f6f6"/><stop offset="0.8362" stop-color="#f7f7f7"/><stop offset="1.0000" stop-color="#f7f7f7"/></linearGradient>
<linearGradient id="r58" gradientUnits="userSpaceOnUse" x1="0" y1="0" x2="861" y2="0" spreadMethod="reflect"><stop offset="0.0000" stop-color="#c9c9c9"/><stop offset="0.0465" stop-color="#cdcdcd"/><stop offset="0.1045" stop-color="#d3d3d3"/><stop offset="0.1742" stop-color="#d9d9d9"/><stop offset="0.2555" stop-color="#e0e0e0"/><stop offset="0.3484" stop-color="#e6e6e6"/><stop offset="0.4530" stop-color="#ededed"/><stop offset="0.5691" stop-color="#f2f2f2"/><stop offset="0.6969" stop-color="#f6f6f6"/><stop offset="0.8362" stop-color="#f7f7f7"/><stop offset="1.0000" stop-color="#f7f7f7"/></linearGradient>
<linearGradient id="r59" gradientUnits="userSpaceOnUse" x1="0" y1="0" x2="861" y2="0" spreadMethod="reflect"><stop offset="0.0000" stop-color="#c9c9c9"/><stop offset="0.0465" stop-color="#cdcdcd"/><stop offset="0.1045" stop-color="#d3d3d3"/><stop offset="0.1742" stop-color="#d9d9d9"/><stop offset="0.2555" stop-color="#e0e0e0"/><stop offset="0.3484" stop-color="#e6e6e6"/><stop offset="0.4530" stop-color="#ededed"/><stop offset="0.5691" stop-color="#f2f2f2"/><stop offset="0.6969" stop-color="#f5f5f5"/><stop offset="0.8362" stop-color="#f6f6f6"/><stop offset="1.0000" stop-color="#f7f7f7"/></linearGradient>
<linearGradient id="r60" gradientUnits="userSpaceOnUse" x1="0" y1="0" x2="861" y2="0" spreadMethod="reflect"><stop offset="0.0000" stop-color="#c9c9c9"/><stop offset="0.0465" stop-color="#cdcdcd"/><stop offset="0.1045" stop-color="#d3d3d3"/><stop offset="0.1742" stop-color="#d9d9d9"/><stop offset="0.2555" stop-color="#e0e0e0"/><stop offset="0.3484" stop-color="#e6e6e6"/><stop offset="0.4530" stop-color="#ededed"/><stop offset="0.5691" stop-color="#f2f2f2"/><stop offset="0.6969" stop-color="#f5f5f5"/><stop offset="0.8362" stop-color="#f6f6f6"/><stop offset="1.0000" stop-color="#f6f6f6"/></linearGradient>
<linearGradient id="r61" gradientUnits="userSpaceOnUse" x1="0" y1="0" x2="861" y2="0" spreadMethod="reflect"><stop offset="0.0000" stop-color="#c9c9c9"/><stop offset="0.0465" stop-color="#cdcdcd"/><stop offset="0.1045" stop-color="#d3d3d3"/><stop offset="0.1742" stop-color="#d9d9d9"/><stop offset="0.2555" stop-color="#e0e0e0"/><stop offset="0.3484" stop-color="#e6e6e6"/><stop offset="0.4530" stop-color="#ededed"/><stop offset="0.5691" stop-color="#f2f2f2"/><stop offset="0.6969" stop-color="#f5f5f5"/><stop offset="0.8362" stop-color="#f6f6f6"/><stop offset="1.0000" stop-color="#f6f6f6"/></linearGradient>
<linearGradient id="r62" gradientUnits="userSpaceOnUse" x1="0" y1="0" x2="861" y2="0" spreadMethod="reflect"><stop offset="0.0000" stop-color="#c9c9c9"/><stop offset="0.0465" stop-color="#cdcdcd"/><stop offset="0.1045" stop-color="#d3d3d3"/><stop offset="0.1742" stop-color="#d9d9d9"/><stop offset="0.2555" stop-color="#e0e0e0"/><stop offset="0.3484" stop-color="#e6e6e6"/><stop offset="0.4530" stop-color="#ededed"/><stop offset="0.5691" stop-color="#f2f2f2"/><stop offset="0.6969" stop-color="#f5f5f5"/><stop offset="0.8362" stop-color="#f6f6f6"/><stop offset="1.0000" stop-color="#f6f6f6"/></linearGradient>
<linearGradient id="r63" gradientUnits="userSpaceOnUse" x1="0" y1="0" x2="861" y2="0" spreadMethod="reflect"><stop offset="0.0000" stop-color="#c9c9c9"/><stop offset="0.0465" stop-color="#cdcdcd"/><stop offset="0.1045" stop-color="#d3d3d3"/><stop offset="0.1742" stop-color="#d9d9d9"/><stop offset="0.2555" stop-color="#dfdfdf"/><stop offset="0.3484" stop-color="#e6e6e6"/><stop offset="0.4530" stop-color="#ececec"/><stop offset="0.5691" stop-color="#f2f2f2"/><stop offset="0.6969" stop-color="#f5f5f5"/><stop offset="0.8362" stop-color="#f6f6f6"/><stop offset="1.0000" stop-color="#f6f6f6"/></linearGradient>
<linearGradient id="r64" gradientUnits="userSpaceOnUse" x1="0" y1="0" x2="861" y2="0" spreadMethod="reflect"><stop offset="0.0000" stop-color="#c9c9c9"/><stop offset="0.0465" stop-color="#cdcdcd"/><stop offset="0.1045" stop-color="#d3d3d3"/><stop offset="0.1742" stop-color="#d9d9d9"/><stop offset="0.2555" stop-color="#dfdfdf"/><stop offset="0.3484" stop-color="#e6e6e6"/><stop offset="0.4530" stop-color="#ececec"/><stop offset="0.5691" stop-color="#f2f2f2"/><stop offset="0.6969" stop-color="#f5f5f5"/><stop offset="0.8362" stop-color="#f6f6f6"/><stop offset="1.0000" stop-color="#f6f6f6"/></linearGradient>
<linearGradient id="r65" gradientUnits="userSpaceOnUse" x1="0" y1="0" x2="861" y2="0" spreadMethod="reflect"><stop offset="0.0000" stop-color="#c9c9c9"/><stop offset="0.0465" stop-color="#cdcdcd"/><stop offset="0.1045" stop-color="#d3d3d3"/><stop offset="0.1742" stop-color="#d9d9d9"/><stop offset="0.2555" stop-color="#dfdfdf"/><stop offset="0.3484" stop-color="#e6e6e6"/><stop offset="0.4530" stop-color="#ececec"/><stop offset="0.5691" stop-color="#f2f2f2"/><stop offset="0.6969" stop-color="#f4f4f4"/><stop offset="0.8362" stop-color="#f5f5f5"/><stop offset="1.0000" stop-color="#f5f5f5"/></linearGradient>
<linearGradient id="r66" gradientUnits="userSpaceOnUse" x1="0" y1="0" x2="861" y2="0" spreadMethod="reflect"><stop offset="0.0000" stop-color="#c9c9c9"/><stop offset="0.0465" stop-color="#cdcdcd"/><stop offset="0.1045" stop-color="#d3d3d3"/><stop offset="0.1742" stop-color="#d9d9d9"/><stop offset="0.2555" stop-color="#dfdfdf"/><stop offset="0.3484" stop-color="#e6e6e6"/><stop offset="0.4530" stop-color="#ececec"/><stop offset="0.5691" stop-color="#f1f1f1"/><stop offset="0.6969" stop-color="#f4f4f4"/><stop offset="0.8362" stop-color="#f5f5f5"/><stop offset="1.0000" stop-color="#f5f5f5"/></linearGradient>
<linearGradient id="r67" gradientUnits="userSpaceOnUse" x1="0" y1="0" x2="861" y2="0" spreadMethod="reflect"><stop offset="0.0000" stop-color="#c9c9c9"/><stop offset="0.0465" stop-color="#cdcdcd"/><stop offset="0.1045" stop-color="#d2d2d2"/><stop offset="0.1742" stop-color="#d9d9d9"/><stop offset="0.2555" stop-color="#dfdfdf"/><stop offset="0.3484" stop-color="#e6e6e6"/><stop offset="0.4530" stop-color="#ececec"/><stop offset="0.5691" stop-color="#f1f1f1"/><stop offset="0.6969" stop-color="#f4f4f4"/><stop offset="0.8362" stop-color="#f5f5f5"/><stop offset="1.0000" stop-color="#f5f5f5"/></linearGradient>
<linearGradient id="r68" gradientUnits="userSpaceOnUse" x1="0" y1="0" x2="861" y2="0" spreadMethod="reflect"><stop offset="0.0000" stop-color="#c9c9c9"/><stop offset="0.0465" stop-color="#cdcdcd"/><stop offset="0.1045" stop-color="#d2d2d2"/><stop offset="0.1742" stop-color="#d9d9d9"/><stop offset="0.2555" stop-color="#dfdfdf"/><stop offset="0.3484" stop-color="#e6e6e6"/><stop offset="0.4530" stop-color="#ececec"/><stop offset="0.5691" stop-color="#f1f1f1"/><stop offset="0.6969" stop-color="#f4f4f4"/><stop offset="0.8362" stop-color="#f5f5f5"/><stop offset="1.0000" stop-color="#f5f5f5"/></linearGradient>
<linearGradient id="r69" gradientUnits="userSpaceOnUse" x1="0" y1="0" x2="861" y2="0" spreadMethod="reflect"><stop offset="0.0000" stop-color="#c9c9c9"/><stop offset="0.0465" stop-color="#cdcdcd"/><stop offset="0.1045" stop-color="#d2d2d2"/><stop offset="0.1742" stop-color="#d9d9d9"/><stop offset="0.2555" stop-color="#dfdfdf"/><stop offset="0.3484" stop-color="#e6e6e6"/><stop offset="0.4530" stop-color="#ececec"/><stop offset="0.5691" stop-color="#f1f1f1"/><stop offset="0.6969" stop-color="#f4f4f4"/><stop offset="0.8362" stop-color="#f5f5f5"/><stop offset="1.0000" stop-color="#f5f5f5"/></linearGradient>
<linearGradient id="r70" gradientUnits="userSpaceOnUse" x1="0" y1="0" x2="861" y2="0" spreadMethod="reflect"><stop offset="0.0000" stop-color="#c9c9c9"/><stop offset="0.0465" stop-color="#cdcdcd"/><stop offset="0.1045" stop-color="#d2d2d2"/><stop offset="0.1742" stop-color="#d9d9d9"/><stop offset="0.2555" stop-color="#dfdfdf"/><stop offset="0.3484" stop-color="#e6e6e6"/><stop offset="0.4530" stop-color="#ececec"/><stop offset="0.5691" stop-color="#f1f1f1"/><stop offset="0.6969" stop-color="#f4f4f4"/><stop offset="0.8362" stop-color="#f4f4f4"/><stop offset="1.0000" stop-color="#f4f4f4"/></linearGradient>
<linearGradient id="r71" gradientUnits="userSpaceOnUse" x1="0" y1="0" x2="861" y2="0" spreadMethod="reflect"><stop offset="0.0000" stop-color="#c9c9c9"/><stop offset="0.0465" stop-color="#cdcdcd"/><stop offset="0.1045" stop-color="#d2d2d2"/><stop offset="0.1742" stop-color="#d9d9d9"/><stop offset="0.2555" stop-color="#dfdfdf"/><stop offset="0.3484" stop-color="#e6e6e6"/><stop offset="0.4530" stop-color="#ececec"/><stop offset="0.5691" stop-color="#f1f1f1"/><stop offset="0.6969" stop-color="#f3f3f3"/><stop offset="0.8362" stop-color="#f4f4f4"/><stop offset="1.0000" stop-color="#f4f4f4"/></linearGradient>
<linearGradient id="r72" gradientUnits="userSpaceOnUse" x1="0" y1="0" x2="861" y2="0" spreadMethod="reflect"><stop offset="0.0000" stop-color="#c9c9c9"/><stop offset="0.0465" stop-color="#cdcdcd"/><stop offset="0.1045" stop-color="#d2d2d2"/><stop offset="0.1742" stop-color="#d9d9d9"/><stop offset="0.2555" stop-color="#dfdfdf"/><stop offset="0.3484" stop-color="#e5e5e5"/><stop offset="0.4530" stop-color="#ececec"/><stop offset="0.5691" stop-color="#f1f1f1"/><stop offset="0.6969" stop-color="#f3f3f3"/><stop offset="0.8362" stop-color="#f4f4f4"/><stop offset="1.0000" stop-color="#f4f4f4"/></linearGradient>
<linearGradient id="r73" gradientUnits="userSpaceOnUse" x1="0" y1="0" x2="861" y2="0" spreadMethod="reflect"><stop offset="0.0000" stop-color="#c9c9c9"/><stop offset="0.0465" stop-color="#cdcdcd"/><stop offset="0.1045" stop-color="#d2d2d2"/><stop offset="0.1742" stop-color="#d8d8d8"/><stop offset="0.2555" stop-color="#dfdfdf"/><stop offset="0.3484" stop-color="#e5e5e5"/><stop offset="0.4530" stop-color="#ececec"/><stop offset="0.5691" stop-color="#f0f0f0"/><stop offset="0.6969" stop-color="#f3f3f3"/><stop offset="0.8362" stop-color="#f4f4f4"/><stop offset="1.0000" stop-color="#f4f4f4"/></linearGradient>
<linearGradient id="r74" gradientUnits="userSpaceOnUse" x1="0" y1="0" x2="861" y2="0" spreadMethod="reflect"><stop offset="0.0000" stop-color="#c9c9c9"/><stop offset="0.0465" stop-color="#cdcdcd"/><stop offset="0.1045" stop-color="#d2d2d2"/><stop offset="0.1742" stop-color="#d8d8d8"/><stop offset="0.2555" stop-color="#dfdfdf"/><stop offset="0.3484" stop-color="#e5e5e5"/><stop offset="0.4530" stop-color="#ebebeb"/><stop offset="0.5691" stop-color="#f0f0f0"/><stop offset="0.6969" stop-color="#f3f3f3"/><stop offset="0.8362" stop-color="#f4f4f4"/><stop offset="1.0000" stop-color="#f4f4f4"/></linearGradient>
<linearGradient id="r75" gradientUnits="userSpaceOnUse" x1="0" y1="0" x2="861" y2="0" spreadMethod="reflect"><stop offset="0.0000" stop-color="#c9c9c9"/><stop offset="0.0465" stop-color="#cdcdcd"/><stop offset="0.1045" stop-color="#d2d2d2"/><stop offset="0.1742" stop-color="#d8d8d8"/><stop offset="0.2555" stop-color="#dfdfdf"/><stop offset="0.3484" stop-color="#e5e5e5"/><stop offset="0.4530" stop-color="#ebebeb"/><stop offset="0.5691" stop-color="#f0f0f0"/><stop offset="0.6969" stop-color="#f3f3f3"/><stop offset="0.8362" stop-color="#f4f4f4"/><stop offset="1.0000" stop-color="#f4f4f4"/></linearGradient>
<linearGradient id="r76" gradientUnits="userSpaceOnUse" x1="0" y1="0" x2="861" y2="0" spreadMethod="reflect"><stop offset="0.0000" stop-color="#c9c9c9"/><stop offset="0.0465" stop-color="#cdcdcd"/><stop offset="0.1045" stop-color="#d2d2d2"/><stop offset="0.1742" stop-color="#d8d8d8"/><stop offset="0.2555" stop-color="#dfdfdf"/><stop offset="0.3484" stop-color="#e5e5e5"/><stop offset="0.4530" stop-color="#ebebeb"/><stop offset="0.5691" stop-color="#f0f0f0"/><stop offset="0.6969" stop-color="#f3f3f3"/><stop offset="0.8362" stop-color="#f3f3f3"/><stop offset="1.0000" stop-color="#f3f3f3"/></linearGradient>
<linearGradient id="r77" gradientUnits="userSpaceOnUse" x1="0" y1="0" x2="861" y2="0" spreadMethod="reflect"><stop offset="0.0000" stop-color="#c9c9c9"/><stop offset="0.0465" stop-color="#cdcdcd"/><stop offset="0.1045" stop-color="#d2d2d2"/><stop offset="0.1742" stop-color="#d8d8d8"/><stop offset="0.2555" stop-color="#dfdfdf"/><stop offset="0.3484" stop-color="#e5e5e5"/><stop offset="0.4530" stop-color="#ebebeb"/><stop offset="0.5691" stop-color="#f0f0f0"/><stop offset="0.6969" stop-color="#f2f2f2"/><stop offset="0.8362" stop-color="#f3f3f3"/><stop offset="1.0000" stop-color="#f3f3f3"/></linearGradient>
<linearGradient id="r78" gradientUnits="userSpaceOnUse" x1="0" y1="0" x2="861" y2="0" spreadMethod="reflect"><stop offset="0.0000" stop-color="#c9c9c9"/><stop offset="0.0465" stop-color="#cdcdcd"/><stop offset="0.1045" stop-color="#d2d2d2"/><stop offset="0.1742" stop-color="#d8d8d8"/><stop offset="0.2555" stop-color="#dfdfdf"/><stop offset="0.3484" stop-color="#e5e5e5"/><stop offset="0.4530" stop-color="#ebebeb"/><stop offset="0.5691" stop-color="#f0f0f0"/><stop offset="0.6969" stop-color="#f2f2f2"/><stop offset="0.8362" stop-color="#f3f3f3"/><stop offset="1.0000" stop-color="#f3f3f3"/></linearGradient>
<linearGradient id="r79" gradientUnits="userSpaceOnUse" x1="0" y1="0" x2="861" y2="0" spreadMethod="reflect"><stop offset="0.0000" stop-color="#c9c9c9"/><stop offset="0.0465" stop-color="#cdcdcd"/><stop offset="0.1045" stop-color="#d2d2d2"/><stop offset="0.1742" stop-color="#d8d8d8"/><stop offset="0.2555" stop-color="#dfdfdf"/><stop offset="0.3484" stop-color="#e5e5e5"/><stop offset="0.4530" stop-color="#ebebeb"/><stop offset="0.5691" stop-color="#f0f0f0"/><stop offset="0.6969" stop-color="#f2f2f2"/><stop offset="0.8362" stop-color="#f3f3f3"/><stop offset="1.0000" stop-color="#f3f3f3"/></linearGradient>
<linearGradient id="r80" gradientUnits="userSpaceOnUse" x1="0" y1="0" x2="861" y2="0" spreadMethod="reflect"><stop offset="0.0000" stop-color="#c9c9c9"/><stop offset="0.0465" stop-color="#cdcdcd"/><stop offset="0.1045" stop-color="#d2d2d2"/><stop offset="0.1742" stop-color="#d8d8d8"/><stop offset="0.2555" stop-color="#dfdfdf"/><stop offset="0.3484" stop-color="#e5e5e5"/><stop offset="0.4530" stop-color="#ebebeb"/><stop offset="0.5691" stop-color="#efefef"/><stop offset="0.6969" stop-color="#f2f2f2"/><stop offset="0.8362" stop-color="#f3f3f3"/><stop offset="1.0000" stop-color="#f3f3f3"/></linearGradient>
<linearGradient id="r81" gradientUnits="userSpaceOnUse" x1="0" y1="0" x2="861" y2="0" spreadMethod="reflect"><stop offset="0.0000" stop-color="#c9c9c9"/><stop offset="0.0465" stop-color="#cdcdcd"/><stop offset="0.1045" stop-color="#d2d2d2"/><stop offset="0.1742" stop-color="#d8d8d8"/><stop offset="0.2555" stop-color="#dfdfdf"/><stop offset="0.3484" stop-color="#e5e5e5"/><stop offset="0.4530" stop-color="#ebebeb"/><stop offset="0.5691" stop-color="#efefef"/><stop offset="0.6969" stop-color="#f2f2f2"/><stop offset="0.8362" stop-color="#f2f2f2"/><stop offset="1.0000" stop-color="#f2f2f2"/></linearGradient>
<linearGradient id="r82" gradientUnits="userSpaceOnUse" x1="0" y1="0" x2="861" y2="0" spreadMethod="reflect"><stop offset="0.0000" stop-color="#c9c9c9"/><stop offset="0.0465" stop-color="#cdcdcd"/><stop offset="0.1045" stop-color="#d2d2d2"/><stop offset="0.1742" stop-color="#d8d8d8"/><stop offset="0.2555" stop-color="#dfdfdf"/><stop offset="0.3484" stop-color="#e5e5e5"/><stop offset="0.4530" stop-color="#ebebeb"/><stop offset="0.5691" stop-color="#efefef"/><stop offset="0.6969" stop-color="#f2f2f2"/><stop offset="0.8362" stop-color="#f2f2f2"/><stop offset="1.0000" stop-color="#f2f2f2"/></linearGradient>
<linearGradient id="r83" gradientUnits="userSpaceOnUse" x1="0" y1="0" x2="861" y2="0" spreadMethod="reflect"><stop offset="0.0000" stop-color="#c9c9c9"/><stop offset="0.0465" stop-color="#cdcdcd"/><stop offset="0.1045" stop-color="#d2d2d2"/><stop offset="0.1742" stop-color="#d8d8d8"/><stop offset="0.2555" stop-color="#dedede"/><stop offset="0.3484" stop-color="#e5e5e5"/><stop offset="0.4530" stop-color="#eaeaea"/><stop offset="0.5691" stop-color="#efefef"/><stop offset="0.6969" stop-color="#f1f1f1"/><stop offset="0.8362" stop-color="#f2f2f2"/><stop offset="1.0000" stop-color="#f2f2f2"/></linearGradient>
<linearGradient id="r84" gradientUnits="userSpaceOnUse" x1="0" y1="0" x2="861" y2="0" spreadMethod="reflect"><stop offset="0.0000" stop-color="#c9c9c9"/><stop offset="0.0465" stop-color="#cdcdcd"/><stop offset="0.1045" stop-color="#d2d2d2"/><stop offset="0.1742" stop-color="#d8d8d8"/><stop offset="0.2555" stop-color="#dedede"/><stop offset="0.3484" stop-color="#e5e5e5"/><stop offset="0.4530" stop-color="#eaeaea"/><stop offset="0.5691" stop-color="#efefef"/><stop offset="0.6969" stop-color="#f1f1f1"/><stop offset="0.8362" stop-color="#f2f2f2"/><stop offset="1.0000" stop-color="#f2f2f2"/></linearGradient>
<linearGradient id="r85" gradientUnits="userSpaceOnUse" x1="0" y1="0" x2="861" y2="0" spreadMethod="reflect"><stop offset="0.0000" stop-color="#c9c9c9"/><stop offset="0.0465" stop-color="#cdcdcd"/><stop offset="0.1045" stop-color="#d2d2d2"/><stop offset="0.1742" stop-color="#d8d8d8"/><stop offset="0.2555" stop-color="#dedede"/><stop offset="0.3484" stop-color="#e4e4e4"/><stop offset="0.4530" stop-color="#eaeaea"/><stop offset="0.5691" stop-color="#efefef"/><stop offset="0.6969" stop-color="#f1f1f1"/><stop offset="0.8362" stop-color="#f2f2f2"/><stop offset="1.0000" stop-color="#f2f2f2"/></linearGradient>
<linearGradient id="r86" gradientUnits="userSpaceOnUse" x1="0" y1="0" x2="861" y2="0" spreadMethod="reflect"><stop offset="0.0000" stop-color="#c8c8c8"/><stop offset="0.0465" stop-color="#cdcdcd"/><stop offset="0.1045" stop-color="#d2d2d2"/><stop offset="0.1742" stop-color="#d8d8d8"/><stop offset="0.2555" stop-color="#dedede"/><stop offset="0.3484" stop-color="#e4e4e4"/><stop offset="0.4530" stop-color="#eaeaea"/><stop offset="0.5691" stop-color="#efefef"/><stop offset="0.6969" stop-color="#f1f1f1"/><stop offset="0.8362" stop-color="#f1f1f1"/><stop offset="1.0000" stop-color="#f2f2f2"/></linearGradient>
<linearGradient id="r87" gradientUnits="userSpaceOnUse" x1="0" y1="0" x2="861" y2="0" spreadMethod="reflect"><stop offset="0.0000" stop-color="#c8c8c8"/><stop offset="0.0465" stop-color="#cdcdcd"/><stop offset="0.1045" stop-color="#d2d2d2"/><stop offset="0.1742" stop-color="#d8d8d8"/><stop offset="0.2555" stop-color="#dedede"/><stop offset="0.3484" stop-color="#e4e4e4"/><stop offset="0.4530" stop-color="#eaeaea"/><stop offset="0.5691" stop-color="#eeeeee"/><stop offset="0.6969" stop-color="#f1f1f1"/><stop offset="0.8362" stop-color="#f1f1f1"/><stop offset="1.0000" stop-color="#f1f1f1"/></linearGradient>
<linearGradient id="r88" gradientUnits="userSpaceOnUse" x1="0" y1="0" x2="861" y2="0" spreadMethod="reflect"><stop offset="0.0000" stop-color="#c8c8c8"/><stop offset="0.0465" stop-color="#cdcdcd"/><stop offset="0.1045" stop-color="#d2d2d2"/><stop offset="0.1742" stop-color="#d8d8d8"/><stop offset="0.2555" stop-color="#dedede"/><stop offset="0.3484" stop-color="#e4e4e4"/><stop offset="0.4530" stop-color="#eaeaea"/><stop offset="0.5691" stop-color="#eeeeee"/><stop offset="0.6969" stop-color="#f0f0f0"/><stop offset="0.8362" stop-color="#f1f1f1"/><stop offset="1.0000" stop-color="#f1f1f1"/></linearGradient>
<linearGradient id="r89" gradientUnits="userSpaceOnUse" x1="0" y1="0" x2="861" y2="0" spreadMethod="reflect"><stop offset="0.0000" stop-color="#c8c8c8"/><stop offset="0.0465" stop-color="#cdcdcd"/><stop offset="0.1045" stop-color="#d2d2d2"/><stop offset="0.1742" stop-color="#d8d8d8"/><stop offset="0.2555" stop-color="#dedede"/><stop offset="0.3484" stop-color="#e4e4e4"/><stop offset="0.4530" stop-color="#eaeaea"/><stop offset="0.5691" stop-color="#eeeeee"/><stop offset="0.6969" stop-color="#f0f0f0"/><stop offset="0.8362" stop-color="#f1f1f1"/><stop offset="1.0000" stop-color="#f1f1f1"/></linearGradient>
<linearGradient id="r90" gradientUnits="userSpaceOnUse" x1="0" y1="0" x2="861" y2="0" spreadMethod="reflect"><stop offset="0.0000" stop-color="#c8c8c8"/><stop offset="0.0465" stop-color="#cdcdcd"/><stop offset="0.1045" stop-color="#d2d2d2"/><stop offset="0.1742" stop-color="#d8d8d8"/><stop offset="0.2555" stop-color="#dedede"/><stop offset="0.3484" stop-color="#e4e4e4"/><stop offset="0.4530" stop-color="#eaeaea"/><stop offset="0.5691" stop-color="#eeeeee"/><stop offset="0.6969" stop-color="#f0f0f0"/><stop offset="0.8362" stop-color="#f1f1f1"/><stop offset="1.0000" stop-color="#f1f1f1"/></linearGradient>
<linearGradient id="r91" gradientUnits="userSpaceOnUse" x1="0" y1="0" x2="861" y2="0" spreadMethod="reflect"><stop offset="0.0000" stop-color="#c8c8c8"/><stop offset="0.0465" stop-color="#cdcdcd"/><stop offset="0.1045" stop-color="#d2d2d2"/><stop offset="0.1742" stop-color="#d8d8d8"/><stop offset="0.2555" stop-color="#dedede"/><stop offset="0.3484" stop-color="#e4e4e4"/><stop offset="0.4530" stop-color="#eaeaea"/><stop offset="0.5691" stop-color="#eeeeee"/><stop offset="0.6969" stop-color="#f0f0f0"/><stop offset="0.8362" stop-color="#f1f1f1"/><stop offset="1.0000" stop-color="#f1f1f1"/></linearGradient>
<linearGradient id="r92" gradientUnits="userSpaceOnUse" x1="0" y1="0" x2="861" y2="0" spreadMethod="reflect"><stop offset="0.0000" stop-color="#c8c8c8"/><stop offset="0.0465" stop-color="#cccccc"/><stop offset="0.1045" stop-color="#d2d2d2"/><stop offset="0.1742" stop-color="#d8d8d8"/><stop offset="0.2555" stop-color="#dedede"/><stop offset="0.3484" stop-color="#e4e4e4"/><stop offset="0.4530" stop-color="#e9e9e9"/><stop offset="0.5691" stop-color="#eeeeee"/><stop offset="0.6969" stop-color="#f0f0f0"/><stop offset="0.8362" stop-color="#f0f0f0"/><stop offset="1.0000" stop-color="#f0f0f0"/></linearGradient>
<linearGradient id="r93" gradientUnits="userSpaceOnUse" x1="0" y1="0" x2="861" y2="0" spreadMethod="reflect"><stop offset="0.0000" stop-color="#c8c8c8"/><stop offset="0.0465" stop-color="#cccccc"/><stop offset="0.1045" stop-color="#d2d2d2"/><stop offset="0.1742" stop-color="#d8d8d8"/><stop offset="0.2555" stop-color="#dedede"/><stop offset="0.3484" stop-color="#e4e4e4"/><stop offset="0.4530" stop-color="#e9e9e9"/><stop offset="0.5691" stop-color="#ededed"/><stop offset="0.6969" stop-color="#f0f0f0"/><stop offset="0.8362" stop-color="#f0f0f0"/><stop offset="1.0000" stop-color="#f0f0f0"/></linearGradient>
<linearGradient id="r94" gradientUnits="userSpaceOnUse" x1="0" y1="0" x2="861" y2="0" spreadMethod="reflect"><stop offset="0.0000" stop-color="#c8c8c8"/><stop offset="0.0465" stop-color="#cccccc"/><stop offset="0.1045" stop-color="#d2d2d2"/><stop offset="0.1742" stop-color="#d7d7d7"/><stop offset="0.2555" stop-color="#dedede"/><stop offset="0.3484" stop-color="#e4e4e4"/><stop offset="0.4530" stop-color="#e9e9e9"/><stop offset="0.5691" stop-color="#ededed"/><stop offset="0.6969" stop-color="#efefef"/><stop offset="0.8362" stop-color="#f0f0f0"/><stop offset="1.0000" stop-color="#f0f0f0"/></linearGradient>
<linearGradient id="r95" gradientUnits="userSpaceOnUse" x1="0" y1="0" x2="861" y2="0" spreadMethod="reflect"><stop offset="0.0000" stop-color="#c8c8c8"/><stop offset="0.0465" stop-color="#cccccc"/><stop offset="0.1045" stop-color="#d1d1d1"/><stop offset="0.1742" stop-color="#d7d7d7"/><stop offset="0.2555" stop-color="#dedede"/><stop offset="0.3484" stop-color="#e4e4e4"/><stop offset="0.4530" stop-color="#e9e9e9"/><stop offset="0.5691" stop-color="#ededed"/><stop offset="0.6969" stop-color="#efefef"/><stop offset="0.8362" stop-color="#f0f0f0"/><stop offset="1.0000" stop-color="#f0f0f0"/></linearGradient>
<linearGradient id="r96" gradientUnits="userSpaceOnUse" x1="0" y1="0" x2="861" y2="0" spreadMethod="reflect"><stop offset="0.0000" stop-color="#c8c8c8"/><stop offset="0.0465" stop-color="#cccccc"/><stop offset="0.1045" stop-color="#d1d1d1"/><stop offset="0.1742" stop-color="#d7d7d7"/><stop offset="0.2555" stop-color="#dedede"/><stop offset="0.3484" stop-color="#e4e4e4"/><stop offset="0.4530" stop-color="#e9e9e9"/><stop offset="0.5691" stop-color="#ededed"/><stop offset="0.6969" stop-color="#efefef"/><stop offset="0.8362" stop-color="#f0f0f0"/><stop offset="1.0000" stop-color="#f0f0f0"/></linearGradient>
<linearGradient id="r97" gradientUnits="userSpaceOnUse" x1="0" y1="0" x2="861" y2="0" spreadMethod="reflect"><stop offset="0.0000" stop-color="#c8c8c8"/><stop offset="0.0465" stop-color="#cccccc"/><stop offset="0.1045" stop-color="#d1d1d1"/><stop offset="0.1742" stop-color="#d7d7d7"/><stop offset="0.2555" stop-color="#dedede"/><stop offset="0.3484" stop-color="#e4e4e4"/><stop offset="0.4530" stop-color="#e9e9e9"/><stop offset="0.5691" stop-color="#ededed"/><stop offset="0.6969" stop-color="#efefef"/><stop offset="0.8362" stop-color="#efefef"/><stop offset="1.0000" stop-color="#f0f0f0"/></linearGradient>
<linearGradient id="r98" gradientUnits="userSpaceOnUse" x1="0" y1="0" x2="861" y2="0" spreadMethod="reflect"><stop offset="0.0000" stop-color="#c8c8c8"/><stop offset="0.0465" stop-color="#cccccc"/><stop offset="0.1045" stop-color="#d1d1d1"/><stop offset="0.1742" stop-color="#d7d7d7"/><stop offset="0.2555" stop-color="#dedede"/><stop offset="0.3484" stop-color="#e3e3e3"/><stop offset="0.4530" stop-color="#e9e9e9"/><stop offset="0.5691" stop-color="#ededed"/><stop offset="0.6969" stop-color="#efefef"/><stop offset="0.8362" stop-color="#efefef"/><stop offset="1.0000" stop-color="#efefef"/></linearGradient>
<linearGradient id="r99" gradientUnits="userSpaceOnUse" x1="0" y1="0" x2="861" y2="0" spreadMethod="reflect"><stop offset="0.0000" stop-color="#c8c8c8"/><stop offset="0.0465" stop-color="#cccccc"/><stop offset="0.1045" stop-color="#d1d1d1"/><stop offset="0.1742" stop-color="#d7d7d7"/><stop offset="0.2555" stop-color="#dedede"/><stop offset="0.3484" stop-color="#e3e3e3"/><stop offset="0.4530" stop-color="#e9e9e9"/><stop offset="0.5691" stop-color="#ededed"/><stop offset="0.6969" stop-color="#efefef"/><stop offset="0.8362" stop-color="#efefef"/><stop offset="1.0000" stop-color="#efefef"/></linearGradient>
<linearGradient id="r100" gradientUnits="userSpaceOnUse" x1="0" y1="0" x2="861" y2="0" spreadMethod="reflect"><stop offset="0.0000" stop-color="#c8c8c8"/><stop offset="0.0465" stop-color="#cccccc"/><stop offset="0.1045" stop-color="#d1d1d1"/><stop offset="0.1742" stop-color="#d7d7d7"/><stop offset="0.2555" stop-color="#dddddd"/><stop offset="0.3484" stop-color="#e3e3e3"/><stop offset="0.4530" stop-color="#e9e9e9"/><stop offset="0.5691" stop-color="#ececec"/><stop offset="0.6969" stop-color="#eeeeee"/><stop offset="0.8362" stop-color="#efefef"/><stop offset="1.0000" stop-color="#efefef"/></linearGradient>
<linearGradient id="r101" gradientUnits="userSpaceOnUse" x1="0" y1="0" x2="861" y2="0" spreadMethod="reflect"><stop offset="0.0000" stop-color="#c8c8c8"/><stop offset="0.0465" stop-color="#cccccc"/><stop offset="0.1045" stop-color="#d1d1d1"/><stop offset="0.1742" stop-color="#d7d7d7"/><stop offset="0.2555" stop-color="#dddddd"/><stop offset="0.3484" stop-color="#e3e3e3"/><stop offset="0.4530" stop-color="#e8e8e8"/><stop offset="0.5691" stop-color="#ececec"/><stop offset="0.6969" stop-color="#eeeeee"/><stop offset="0.8362" stop-color="#efefef"/><stop offset="1.0000" stop-color="#efefef"/></linearGradient>
<linearGradient id="r102" gradientUnits="userSpaceOnUse" x1="0" y1="0" x2="861" y2="0" spreadMethod="reflect"><stop offset="0.0000" stop-color="#c8c8c8"/><stop offset="0.0465" stop-color="#cccccc"/><stop offset="0.1045" stop-color="#d1d1d1"/><stop offset="0.1742" stop-color="#d7d7d7"/><stop offset="0.2555" stop-color="#dddddd"/><stop offset="0.3484" stop-color="#e3e3e3"/><stop offset="0.4530" stop-color="#e8e8e8"/><stop offset="0.5691" stop-color="#ececec"/><stop offset="0.6969" stop-color="#eeeeee"/><stop offset="0.8362" stop-color="#efefef"/><stop offset="1.0000" stop-color="#efefef"/></linearGradient>
<linearGradient id="r103" gradientUnits="userSpaceOnUse" x1="0" y1="0" x2="861" y2="0" spreadMethod="reflect"><stop offset="0.0000" stop-color="#c8c8c8"/><stop offset="0.0465" stop-color="#cccccc"/><stop offset="0.1045" stop-color="#d1d1d1"/><stop offset="0.1742" stop-color="#d7d7d7"/><stop offset="0.2555" stop-color="#dddddd"/><stop offset="0.3484" stop-color="#e3e3e3"/><stop offset="0.4530" stop-color="#e8e8e8"/><stop offset="0.5691" stop-color="#ececec"/><stop offset="0.6969" stop-color="#eeeeee"/><stop offset="0.8362" stop-color="#eeeeee"/><stop offset="1.0000" stop-color="#eeeeee"/></linearGradient>
<linearGradient id="r104" gradientUnits="userSpaceOnUse" x1="0" y1="0" x2="861" y2="0" spreadMethod="reflect"><stop offset="0.0000" stop-color="#c8c8c8"/><stop offset="0.0465" stop-color="#cccccc"/><stop offset="0.1045" stop-color="#d1d1d1"/><stop offset="0.1742" stop-color="#d7d7d7"/><stop offset="0.2555" stop-color="#dddddd"/><stop offset="0.3484" stop-color="#e3e3e3"/><stop offset="0.4530" stop-color="#e8e8e8"/><stop offset="0.5691" stop-color="#ececec"/><stop offset="0.6969" stop-color="#eeeeee"/><stop offset="0.8362" stop-color="#eeeeee"/><stop offset="1.0000" stop-color="#eeeeee"/></linearGradient>
<linearGradient id="r105" gradientUnits="userSpaceOnUse" x1="0" y1="0" x2="861" y2="0" spreadMethod="reflect"><stop offset="0.0000" stop-color="#c8c8c8"/><stop offset="0.0465" stop-color="#cccccc"/><stop offset="0.1045" stop-color="#d1d1d1"/><stop offset="0.1742" stop-color="#d7d7d7"/><stop offset="0.2555" stop-color="#dddddd"/><stop offset="0.3484" stop-color="#e3e3e3"/><stop offset="0.4530" stop-color="#e8e8e8"/><stop offset="0.5691" stop-color="#ececec"/><stop offset="0.6969" stop-color="#eeeeee"/><stop offset="0.8362" stop-color="#eeeeee"/><stop offset="1.0000" stop-color="#eeeeee"/></linearGradient>
<linearGradient id="r106" gradientUnits="userSpaceOnUse" x1="0" y1="0" x2="861" y2="0" spreadMethod="reflect"><stop offset="0.0000" stop-color="#c8c8c8"/><stop offset="0.0465" stop-color="#cccccc"/><stop offset="0.1045" stop-color="#d1d1d1"/><stop offset="0.1742" stop-color="#d7d7d7"/><stop offset="0.2555" stop-color="#dddddd"/><stop offset="0.3484" stop-color="#e3e3e3"/><stop offset="0.4530" stop-color="#e8e8e8"/><stop offset="0.5691" stop-color="#ebebeb"/><stop offset="0.6969" stop-color="#ededed"/><stop offset="0.8362" stop-color="#eeeeee"/><stop offset="1.0000" stop-color="#eeeeee"/></linearGradient>
<linearGradient id="r107" gradientUnits="userSpaceOnUse" x1="0" y1="0" x2="861" y2="0" spreadMethod="reflect"><stop offset="0.0000" stop-color="#c8c8c8"/><stop offset="0.0465" stop-color="#cccccc"/><stop offset="0.1045" stop-color="#d1d1d1"/><stop offset="0.1742" stop-color="#d7d7d7"/><stop offset="0.2555" stop-color="#dddddd"/><stop offset="0.3484" stop-color="#e3e3e3"/><stop offset="0.4530" stop-color="#e8e8e8"/><stop offset="0.5691" stop-color="#ebebeb"/><stop offset="0.6969" stop-color="#ededed"/><stop offset="0.8362" stop-color="#eeeeee"/><stop offset="1.0000" stop-color="#eeeeee"/></linearGradient>
<linearGradient id="r108" gradientUnits="userSpaceOnUse" x1="0" y1="0" x2="861" y2="0" spreadMethod="reflect"><stop offset="0.0000" stop-color="#c8c8c8"/><stop offset="0.0465" stop-color="#cccccc"/><stop offset="0.1045" stop-color="#d1d1d1"/><stop offset="0.1742" stop-color="#d7d7d7"/><stop offset="0.2555" stop-color="#dddddd"/><stop offset="0.3484" stop-color="#e3e3e3"/><stop offset="0.4530" stop-color="#e8e8e8"/><stop offset="0.5691" stop-color="#ebebeb"/><stop offset="0.6969" stop-color="#ededed"/><stop offset="0.8362" stop-color="#ededed"/><stop offset="1.0000" stop-color="#eeeeee"/></linearGradient>
<linearGradient id="r109" gradientUnits="userSpaceOnUse" x1="0" y1="0" x2="861" y2="0" spreadMethod="reflect"><stop offset="0.0000" stop-color="#c8c8c8"/><stop offset="0.0465" stop-color="#cccccc"/><stop offset="0.1045" stop-color="#d1d1d1"/><stop offset="0.1742" stop-color="#d7d7d7"/><stop offset="0.2555" stop-color="#dddddd"/><stop offset="0.3484" stop-color="#e2e2e2"/><stop offset="0.4530" stop-color="#e7e7e7"/><stop offset="0.5691" stop-color="#ebebeb"/><stop offset="0.6969" stop-color="#ededed"/><stop offset="0.8362" stop-color="#ededed"/><stop offset="1.0000" stop-color="#ededed"/></linearGradient>
<linearGradient id="r110" gradientUnits="userSpaceOnUse" x1="0" y1="0" x2="861" y2="0" spreadMethod="reflect"><stop offset="0.0000" stop-color="#c8c8c8"/><stop offset="0.0465" stop-color="#cccccc"/><stop offset="0.1045" stop-color="#d1d1d1"/><stop offset="0.1742" stop-color="#d7d7d7"/><stop offset="0.2555" stop-color="#dddddd"/><stop offset="0.3484" stop-color="#e2e2e2"/><stop offset="0.4530" stop-color="#e7e7e7"/><stop offset="0.5691" stop-color="#ebebeb"/><stop offset="0.6969" stop-color="#ededed"/><stop offset="0.8362" stop-color="#ededed"/><stop offset="1.0000" stop-color="#ededed"/></linearGradient>
<linearGradient id="r111" gradientUnits="userSpaceOnUse" x1="0" y1="0" x2="861" y2="0" spreadMethod="reflect"><stop offset="0.0000" stop-color="#c8c8c8"/><stop offset="0.0465" stop-color="#cccccc"/><stop offset="0.1045" stop-color="#d1d1d1"/><stop offset="0.1742" stop-color="#d6d6d6"/><stop offset="0.2555" stop-color="#dddddd"/><stop offset="0.3484" stop-color="#e2e2e2"/><stop offset="0.4530" stop-color="#e7e7e7"/><stop offset="0.5691" stop-color="#ebebeb"/><stop offset="0.6969" stop-color="#ececec"/><stop offset="0.8362" stop-color="#ededed"/><stop offset="1.0000" stop-color="#ededed"/></linearGradient>
<linearGradient id="r112" gradientUnits="userSpaceOnUse" x1="0" y1="0" x2="861" y2="0" spreadMethod="reflect"><stop offset="0.0000" stop-color="#c8c8c8"/><stop offset="0.0465" stop-color="#cccccc"/><stop offset="0.1045" stop-color="#d1d1d1"/><stop offset="0.1742" stop-color="#d6d6d6"/><stop offset="0.2555" stop-color="#dddddd"/><stop offset="0.3484" stop-color="#e2e2e2"/><stop offset="0.4530" stop-color="#e7e7e7"/><stop offset="0.5691" stop-color="#ebebeb"/><stop offset="0.6969" stop-color="#ececec"/><stop offset="0.8362" stop-color="#ededed"/><stop offset="1.0000" stop-color="#ededed"/></linearGradient>
<linearGradient id="r113" gradientUnits="userSpaceOnUse" x1="0" y1="0" x2="861" y2="0" spreadMethod="reflect"><stop offset="0.0000" stop-color="#c8c8c8"/><stop offset="0.0465" stop-color="#cccccc"/><stop offset="0.1045" stop-color="#d1d1d1"/><stop offset="0.1742" stop-color="#d6d6d6"/><stop offset="0.2555" stop-color="#dddddd"/><stop offset="0.3484" stop-color="#e2e2e2"/><stop offset="0.4530" stop-color="#e7e7e7"/><stop offset="0.5691" stop-color="#eaeaea"/><stop offset="0.6969" stop-color="#ececec"/><stop offset="0.8362" stop-color="#ededed"/><stop offset="1.0000" stop-color="#ededed"/></linearGradient>
<linearGradient id="r114" gradientUnits="userSpaceOnUse" x1="0" y1="0" x2="861" y2="0" spreadMethod="reflect"><stop offset="0.0000" stop-color="#c8c8c8"/><stop offset="0.0465" stop-color="#cccccc"/><stop offset="0.1045" stop-color="#d1d1d1"/><stop offset="0.1742" stop-color="#d6d6d6"/><stop offset="0.2555" stop-color="#dcdcdc"/><stop offset="0.3484" stop-color="#e2e2e2"/><stop offset="0.4530" stop-color="#e7e7e7"/><stop offset="0.5691" stop-color="#eaeaea"/><stop offset="0.6969" stop-color="#ececec"/><stop offset="0.8362" stop-color="#ececec"/><stop offset="1.0000" stop-color="#ececec"/></linearGradient>
<linearGradient id="r115" gradientUnits="userSpaceOnUse" x1="0" y1="0" x2="861" y2="0" spreadMethod="reflect"><stop offset="0.0000" stop-color="#c8c8c8"/><stop offset="0.0465" stop-color="#cccccc"/><stop offset="0.1045" stop-color="#d1d1d1"/><stop offset="0.1742" stop-color="#d6d6d6"/><stop offset="0.2555" stop-color="#dcdcdc"/><stop offset="0.3484" stop-color="#e2e2e2"/><stop offset="0.4530" stop-color="#e7e7e7"/><stop offset="0.5691" stop-color="#eaeaea"/><stop offset="0.6969" stop-color="#ececec"/><stop offset="0.8362" stop-color="#ececec"/><stop offset="1.0000" stop-color="#ececec"/></linearGradient>
<linearGradient id="r116" gradientUnits="userSpaceOnUse" x1="0" y1="0" x2="861" y2="0" spreadMethod="reflect"><stop offset="0.0000" stop-color="#c8c8c8"/><stop offset="0.0465" stop-color="#cccccc"/><stop offset="0.1045" stop-color="#d0d0d0"/><stop offset="0.1742" stop-color="#d6d6d6"/><stop offset="0.2555" stop-color="#dcdcdc"/><stop offset="0.3484" stop-color="#e2e2e2"/><stop offset="0.4530" stop-color="#e7e7e7"/><stop offset="0.5691" stop-color="#eaeaea"/><stop offset="0.6969" stop-color="#ececec"/><stop offset="0.8362" stop-color="#ececec"/><stop offset="1.0000" stop-color="#ececec"/></linearGradient>
<linearGradient id="r117" gradientUnits="userSpaceOnUse" x1="0" y1="0" x2="861" y2="0" spreadMethod="reflect"><stop offset="0.0000" stop-color="#c7c7c7"/><stop offset="0.0465" stop-color="#cccccc"/><stop offset="0.1045" stop-color="#d0d0d0"/><stop offset="0.1742" stop-color="#d6d6d6"/><stop offset="0.2555" stop-color="#dcdcdc"/><stop offset="0.3484" stop-color="#e2e2e2"/><stop offset="0.4530" stop-color="#e6e6e6"/><stop offset="0.5691" stop-color="#eaeaea"/><stop offset="0.6969" stop-color="#ebebeb"/><stop offset="0.8362" stop-color="#ececec"/><stop offset="1.0000" stop-color="#ececec"/></linearGradient>
<linearGradient id="r118" gradientUnits="userSpaceOnUse" x1="0" y1="0" x2="861" y2="0" spreadMethod="reflect"><stop offset="0.0000" stop-color="#c7c7c7"/><stop offset="0.0465" stop-color="#cbcbcb"/><stop offset="0.1045" stop-color="#d0d0d0"/><stop offset="0.1742" stop-color="#d6d6d6"/><stop offset="0.2555" stop-color="#dcdcdc"/><stop offset="0.3484" stop-color="#e2e2e2"/><stop offset="0.4530" stop-color="#e6e6e6"/><stop offset="0.5691" stop-color="#eaeaea"/><stop offset="0.6969" stop-color="#ebebeb"/><stop offset="0.8362" stop-color="#ececec"/><stop offset="1.0000" stop-color="#ececec"/></linearGradient>
<linearGradient id="r119" gradientUnits="userSpaceOnUse" x1="0" y1="0" x2="861" y2="0" spreadMethod="reflect"><stop offset="0.0000" stop-color="#c7c7c7"/><stop offset="0.0465" stop-color="#cbcbcb"/><stop offset="0.1045" stop-color="#d0d0d0"/><stop offset="0.1742" stop-color="#d6d6d6"/><stop offset="0.2555" stop-color="#dcdcdc"/><stop offset="0.3484" stop-color="#e1e1e1"/><stop offset="0.4530" stop-color="#e6e6e6"/><stop offset="0.5691" stop-color="#e9e9e9"/><stop offset="0.6969" stop-color="#ebebeb"/><stop offset="0.8362" stop-color="#ebebeb"/><stop offset="1.0000" stop-color="#ebebeb"/></linearGradient>
<linearGradient id="r120" gradientUnits="userSpaceOnUse" x1="0" y1="0" x2="861" y2="0" spreadMethod="reflect"><stop offset="0.0000" stop-color="#c7c7c7"/><stop offset="0.0465" stop-color="#cbcbcb"/><stop offset="0.1045" stop-color="#d0d0d0"/><stop offset="0.1742" stop-color="#d6d6d6"/><stop offset="0.2555" stop-color="#dcdcdc"/><stop offset="0.3484" stop-color="#e1e1e1"/><stop offset="0.4530" stop-color="#e6e6e6"/><stop offset="0.5691" stop-color="#e9e9e9"/><stop offset="0.6969" stop-color="#ebebeb"/><stop offset="0.8362" stop-color="#ebebeb"/><stop offset="1.0000" stop-color="#ebebeb"/></linearGradient>
<linearGradient id="r121" gradientUnits="userSpaceOnUse" x1="0" y1="0" x2="861" y2="0" spreadMethod="reflect"><stop offset="0.0000" stop-color="#c7c7c7"/><stop offset="0.0465" stop-color="#cbcbcb"/><stop offset="0.1045" stop-color="#d0d0d0"/><stop offset="0.1742" stop-color="#d6d6d6"/><stop offset="0.2555" stop-color="#dcdcdc"/><stop offset="0.3484" stop-color="#e1e1e1"/><stop offset="0.4530" stop-color="#e6e6e6"/><stop offset="0.5691" stop-color="#e9e9e9"/><stop offset="0.6969" stop-color="#ebebeb"/><stop offset="0.8362" stop-color="#ebebeb"/><stop offset="1.0000" stop-color="#ebebeb"/></linearGradient>
<linearGradient id="r122" gradientUnits="userSpaceOnUse" x1="0" y1="0" x2="861" y2="0" spreadMethod="reflect"><stop offset="0.0000" stop-color="#c7c7c7"/><stop offset="0.0465" stop-color="#cbcbcb"/><stop offset="0.1045" stop-color="#d0d0d0"/><stop offset="0.1742" stop-color="#d6d6d6"/><stop offset="0.2555" stop-color="#dcdcdc"/><stop offset="0.3484" stop-color="#e1e1e1"/><stop offset="0.4530" stop-color="#e6e6e6"/><stop offset="0.5691" stop-color="#e9e9e9"/><stop offset="0.6969" stop-color="#eaeaea"/><stop offset="0.8362" stop-color="#ebebeb"/><stop offset="1.0000" stop-color="#ebebeb"/></linearGradient>
<linearGradient id="r123" gradientUnits="userSpaceOnUse" x1="0" y1="0" x2="861" y2="0" spreadMethod="reflect"><stop offset="0.0000" stop-color="#c7c7c7"/><stop offset="0.0465" stop-color="#cbcbcb"/><stop offset="0.1045" stop-color="#d0d0d0"/><stop offset="0.1742" stop-color="#d6d6d6"/><stop offset="0.2555" stop-color="#dcdcdc"/><stop offset="0.3484" stop-color="#e1e1e1"/><stop offset="0.4530" stop-color="#e6e6e6"/><stop offset="0.5691" stop-color="#e9e9e9"/><stop offset="0.6969" stop-color="#eaeaea"/><stop offset="0.8362" stop-color="#ebebeb"/><stop offset="1.0000" stop-color="#ebebeb"/></linearGradient>
<linearGradient id="r124" gradientUnits="userSpaceOnUse" x1="0" y1="0" x2="861" y2="0" spreadMethod="reflect"><stop offset="0.0000" stop-color="#c7c7c7"/><stop offset="0.0465" stop-color="#cbcbcb"/><stop offset="0.1045" stop-color="#d0d0d0"/><stop offset="0.1742" stop-color="#d6d6d6"/><stop offset="0.2555" stop-color="#dcdcdc"/><stop offset="0.3484" stop-color="#e1e1e1"/><stop offset="0.4530" stop-color="#e5e5e5"/><stop offset="0.5691" stop-color="#e9e9e9"/><stop offset="0.6969" stop-color="#eaeaea"/><stop offset="0.8362" stop-color="#ebebeb"/><stop offset="1.0000" stop-color="#ebebeb"/></linearGradient>
<linearGradient id="r125" gradientUnits="userSpaceOnUse" x1="0" y1="0" x2="861" y2="0" spreadMethod="reflect"><stop offset="0.0000" stop-color="#c7c7c7"/><stop offset="0.0465" stop-color="#cbcbcb"/><stop offset="0.1045" stop-color="#d0d0d0"/><stop offset="0.1742" stop-color="#d6d6d6"/><stop offset="0.2555" stop-color="#dcdcdc"/><stop offset="0.3484" stop-color="#e1e1e1"/><stop offset="0.4530" stop-color="#e5e5e5"/><stop offset="0.5691" stop-color="#e8e8e8"/><stop offset="0.6969" stop-color="#eaeaea"/><stop offset="0.8362" stop-color="#eaeaea"/><stop offset="1.0000" stop-color="#eaeaea"/></linearGradient>
<linearGradient id="r126" gradientUnits="userSpaceOnUse" x1="0" y1="0" x2="861" y2="0" spreadMethod="reflect"><stop offset="0.0000" stop-color="#c7c7c7"/><stop offset="0.0465" stop-color="#cbcbcb"/><stop offset="0.1045" stop-color="#d0d0d0"/><stop offset="0.1742" stop-color="#d5d5d5"/><stop offset="0.2555" stop-color="#dbdbdb"/><stop offset="0.3484" stop-color="#e1e1e1"/><stop offset="0.4530" stop-color="#e5e5e5"/><stop offset="0.5691" stop-color="#e8e8e8"/><stop offset="0.6969" stop-color="#eaeaea"/><stop offset="0.8362" stop-color="#eaeaea"/><stop offset="1.0000" stop-color="#eaeaea"/></linearGradient>
<linearGradient id="r127" gradientUnits="userSpaceOnUse" x1="0" y1="0" x2="861" y2="0" spreadMethod="reflect"><stop offset="0.0000" stop-color="#c7c7c7"/><stop offset="0.0465" stop-color="#cbcbcb"/><stop offset="0.1045" stop-color="#d0d0d0"/><stop offset="0.1742" stop-color="#d5d5d5"/><stop offset="0.2555" stop-color="#dbdbdb"/><stop offset="0.3484" stop-color="#e1e1e1"/><stop offset="0.4530" stop-color="#e5e5e5"/><stop offset="0.5691" stop-color="#e8e8e8"/><stop offset="0.6969" stop-color="#eaeaea"/><stop offset="0.8362" stop-color="#eaeaea"/><stop offset="1.0000" stop-color="#eaeaea"/></linearGradient>
<linearGradient id="r128" gradientUnits="userSpaceOnUse" x1="0" y1="0" x2="861" y2="0" spreadMethod="reflect"><stop offset="0.0000" stop-color="#c7c7c7"/><stop offset="0.0465" stop-color="#cbcbcb"/><stop offset="0.1045" stop-color="#d0d0d0"/><stop offset="0.1742" stop-color="#d5d5d5"/><stop offset="0.2555" stop-color="#dbdbdb"/><stop offset="0.3484" stop-color="#e1e1e1"/><stop offset="0.4530" stop-color="#e5e5e5"/><stop offset="0.5691" stop-color="#e8e8e8"/><stop offset="0.6969" stop-color="#e9e9e9"/><stop offset="0.8362" stop-color="#eaeaea"/><stop offset="1.0000" stop-color="#eaeaea"/></linearGradient>
<linearGradient id="r129" gradientUnits="userSpaceOnUse" x1="0" y1="0" x2="861" y2="0" spreadMethod="reflect"><stop offset="0.0000" stop-color="#c7c7c7"/><stop offset="0.0465" stop-color="#cbcbcb"/><stop offset="0.1045" stop-color="#d0d0d0"/><stop offset="0.1742" stop-color="#d5d5d5"/><stop offset="0.2555" stop-color="#dbdbdb"/><stop offset="0.3484" stop-color="#e0e0e0"/><stop offset="0.4530" stop-color="#e5e5e5"/><stop offset="0.5691" stop-color="#e8e8e8"/><stop offset="0.6969" stop-color="#e9e9e9"/><stop offset="0.8362" stop-color="#eaeaea"/><stop offset="1.0000" stop-color="#eaeaea"/></linearGradient>
<linearGradient id="r130" gradientUnits="userSpaceOnUse" x1="0" y1="0" x2="861" y2="0" spreadMethod="reflect"><stop offset="0.0000" stop-color="#c7c7c7"/><stop offset="0.0465" stop-color="#cbcbcb"/><stop offset="0.1045" stop-color="#d0d0d0"/><stop offset="0.1742" stop-color="#d5d5d5"/><stop offset="0.2555" stop-color="#dbdbdb"/><stop offset="0.3484" stop-color="#e0e0e0"/><stop offset="0.4530" stop-color="#e5e5e5"/><stop offset="0.5691" stop-color="#e8e8e8"/><stop offset="0.6969" stop-color="#e9e9e9"/><stop offset="0.8362" stop-color="#e9e9e9"/><stop offset="1.0000" stop-color="#e9e9e9"/></linearGradient>
<linearGradient id="r131" gradientUnits="userSpaceOnUse" x1="0" y1="0" x2="861" y2="0" spreadMethod="reflect"><stop offset="0.0000" stop-color="#c7c7c7"/><stop offset="0.0465" stop-color="#cbcbcb"/><stop offset="0.1045" stop-color="#d0d0d0"/><stop offset="0.1742" stop-color="#d5d5d5"/><stop offset="0.2555" stop-color="#dbdbdb"/><stop offset="0.3484" stop-color="#e0e0e0"/><stop offset="0.4530" stop-color="#e4e4e4"/><stop offset="0.5691" stop-color="#e7e7e7"/><stop offset="0.6969" stop-color="#e9e9e9"/><stop offset="0.8362" stop-color="#e9e9e9"/><stop offset="1.0000" stop-color="#e9e9e9"/></linearGradient>
<linearGradient id="r132" gradientUnits="userSpaceOnUse" x1="0" y1="0" x2="861" y2="0" spreadMethod="reflect"><stop offset="0.0000" stop-color="#c7c7c7"/><stop offset="0.0465" stop-color="#cbcbcb"/><stop offset="0.1045" stop-color="#d0d0d0"/><stop offset="0.1742" stop-color="#d5d5d5"/><stop offset="0.2555" stop-color="#dbdbdb"/><stop offset="0.3484" stop-color="#e0e0e0"/><stop offset="0.4530" stop-color="#e4e4e4"/><stop offset="0.5691" stop-color="#e7e7e7"/><stop offset="0.6969" stop-color="#e9e9e9"/><stop offset="0.8362" stop-color="#e9e9e9"/><stop offset="1.0000" stop-color="#e9e9e9"/></linearGradient>
<linearGradient id="r133" gradientUnits="userSpaceOnUse" x1="0" y1="0" x2="861" y2="0" spreadMethod="reflect"><stop offset="0.0000" stop-color="#c7c7c7"/><stop offset="0.0465" stop-color="#cbcbcb"/><stop offset="0.1045" stop-color="#d0d0d0"/><stop offset="0.1742" stop-color="#d5d5d5"/><stop offset="0.2555" stop-color="#dbdbdb"/><stop offset="0.3484" stop-color="#e0e0e0"/><stop offset="0.4530" stop-color="#e4e4e4"/><stop offset="0.5691" stop-color="#e7e7e7"/><stop offset="0.6969" stop-color="#e9e9e9"/><stop offset="0.8362" stop-color="#e9e9e9"/><stop offset="1.0000" stop-color="#e9e9e9"/></linearGradient>
<linearGradient id="r134" gradientUnits="userSpaceOnUse" x1="0" y1="0" x2="861" y2="0" spreadMethod="reflect"><stop offset="0.0000" stop-color="#c7c7c7"/><stop offset="0.0465" stop-color="#cbcbcb"/><stop offset="0.1045" stop-color="#cfcfcf"/><stop offset="0.1742" stop-color="#d5d5d5"/><stop offset="0.2555" stop-color="#dbdbdb"/><stop offset="0.3484" stop-color="#e0e0e0"/><stop offset="0.4530" stop-color="#e4e4e4"/><stop offset="0.5691" stop-color="#e7e7e7"/><stop offset="0.6969" stop-color="#e8e8e8"/><stop offset="0.8362" stop-color="#e9e9e9"/><stop offset="1.0000" stop-color="#e9e9e9"/></linearGradient>
<linearGradient id="r135" gradientUnits="userSpaceOnUse" x1="0" y1="0" x2="861" y2="0" spreadMethod="reflect"><stop offset="0.0000" stop-color="#c7c7c7"/><stop offset="0.0465" stop-color="#cbcbcb"/><stop offset="0.1045" stop-color="#cfcfcf"/><stop offset="0.1742" stop-color="#d5d5d5"/><stop offset="0.2555" stop-color="#dbdbdb"/><stop offset="0.3484" stop-color="#e0e0e0"/><stop offset="0.4530" stop-color="#e4e4e4"/><stop offset="0.5691" stop-color="#e7e7e7"/><stop offset="0.6969" stop-color="#e8e8e8"/><stop offset="0.8362" stop-color="#e9e9e9"/><stop offset="1.0000" stop-color="#e9e9e9"/></linearGradient>
<linearGradient id="r136" gradientUnits="userSpaceOnUse" x1="0" y1="0" x2="861" y2="0" spreadMethod="reflect"><stop offset="0.0000" stop-color="#c7c7c7"/><stop offset="0.0465" stop-color="#cbcbcb"/><stop offset="0.1045" stop-color="#cfcfcf"/><stop offset="0.1742" stop-color="#d5d5d5"/><stop offset="0.2555" stop-color="#dadada"/><stop offset="0.3484" stop-color="#e0e0e0"/><stop offset="0.4530" stop-color="#e4e4e4"/><stop offset="0.5691" stop-color="#e7e7e7"/><stop offset="0.6969" stop-color="#e8e8e8"/><stop offset="0.8362" stop-color="#e8e8e8"/><stop offset="1.0000" stop-color="#e8e8e8"/></linearGradient>
<linearGradient id="r137" gradientUnits="userSpaceOnUse" x1="0" y1="0" x2="861" y2="0" spreadMethod="reflect"><stop offset="0.0000" stop-color="#c7c7c7"/><stop offset="0.0465" stop-color="#cbcbcb"/><stop offset="0.1045" stop-color="#cfcfcf"/><stop offset="0.1742" stop-color="#d5d5d5"/><stop offset="0.2555" stop-color="#dadada"/><stop offset="0.3484" stop-color="#e0e0e0"/><stop offset="0.4530" stop-color="#e4e4e4"/><stop offset="0.5691" stop-color="#e6e6e6"/><stop offset="0.6969" stop-color="#e8e8e8"/><stop offset="0.8362" stop-color="#e8e8e8"/><stop offset="1.0000" stop-color="#e8e8e8"/></linearGradient>
<linearGradient id="r138" gradientUnits="userSpaceOnUse" x1="0" y1="0" x2="861" y2="0" spreadMethod="reflect"><stop offset="0.0000" stop-color="#c7c7c7"/><stop offset="0.0465" stop-color="#cacaca"/><stop offset="0.1045" stop-color="#cfcfcf"/><stop offset="0.1742" stop-color="#d5d5d5"/><stop offset="0.2555" stop-color="#dadada"/><stop offset="0.3484" stop-color="#dfdfdf"/><stop offset="0.4530" stop-color="#e4e4e4"/><stop offset="0.5691" stop-color="#e6e6e6"/><stop offset="0.6969" stop-color="#e8e8e8"/><stop offset="0.8362" stop-color="#e8e8e8"/><stop offset="1.0000" stop-color="#e8e8e8"/></linearGradient>
<linearGradient id="r139" gradientUnits="userSpaceOnUse" x1="0" y1="0" x2="861" y2="0" spreadMethod="reflect"><stop offset="0.0000" stop-color="#c7c7c7"/><stop offset="0.0465" stop-color="#cacaca"/><stop offset="0.1045" stop-color="#cfcfcf"/><stop offset="0.1742" stop-color="#d4d4d4"/><stop offset="0.2555" stop-color="#dadada"/><stop offset="0.3484" stop-color="#dfdfdf"/><stop offset="0.4530" stop-color="#e3e3e3"/><stop offset="0.5691" stop-color="#e6e6e6"/><stop offset="0.6969" stop-color="#e7e7e7"/><stop offset="0.8362" stop-color="#e8e8e8"/><stop offset="1.0000" stop-color="#e8e8e8"/></linearGradient>
<linearGradient id="r140" gradientUnits="userSpaceOnUse" x1="0" y1="0" x2="861" y2="0" spreadMethod="reflect"><stop offset="0.0000" stop-color="#c6c6c6"/><stop offset="0.0465" stop-color="#cacaca"/><stop offset="0.1045" stop-color="#cfcfcf"/><stop offset="0.1742" stop-color="#d4d4d4"/><stop offset="0.2555" stop-color="#dadada"/><stop offset="0.3484" stop-color="#dfdfdf"/><stop offset="0.4530" stop-color="#e3e3e3"/><stop offset="0.5691" stop-color="#e6e6e6"/><stop offset="0.6969" stop-color="#e7e7e7"/><stop offset="0.8362" stop-color="#e8e8e8"/><stop offset="1.0000" stop-color="#e8e8e8"/></linearGradient>
<linearGradient id="r141" gradientUnits="userSpaceOnUse" x1="0" y1="0" x2="861" y2="0" spreadMethod="reflect"><stop offset="0.0000" stop-color="#c6c6c6"/><stop offset="0.0465" stop-color="#cacaca"/><stop offset="0.1045" stop-color="#cfcfcf"/><stop offset="0.1742" stop-color="#d4d4d4"/><stop offset="0.2555" stop-color="#dadada"/><stop offset="0.3484" stop-color="#dfdfdf"/><stop offset="0.4530" stop-color="#e3e3e3"/><stop offset="0.5691" stop-color="#e6e6e6"/><stop offset="0.6969" stop-color="#e7e7e7"/><stop offset="0.8362" stop-color="#e7e7e7"/><stop offset="1.0000" stop-color="#e7e7e7"/></linearGradient>
<linearGradient id="r142" gradientUnits="userSpaceOnUse" x1="0" y1="0" x2="861" y2="0" spreadMethod="reflect"><stop offset="0.0000" stop-color="#c6c6c6"/><stop offset="0.0465" stop-color="#cacaca"/><stop offset="0.1045" stop-color="#cfcfcf"/><stop offset="0.1742" stop-color="#d4d4d4"/><stop offset="0.2555" stop-color="#dadada"/><stop offset="0.3484" stop-color="#dfdfdf"/><stop offset="0.4530" stop-color="#e3e3e3"/><stop offset="0.5691" stop-color="#e6e6e6"/><stop offset="0.6969" stop-color="#e7e7e7"/><stop offset="0.8362" stop-color="#e7e7e7"/><stop offset="1.0000" stop-color="#e7e7e7"/></linearGradient>
<linearGradient id="r143" gradientUnits="userSpaceOnUse" x1="0" y1="0" x2="861" y2="0" spreadMethod="reflect"><stop offset="0.0000" stop-color="#c6c6c6"/><stop offset="0.0465" stop-color="#cacaca"/><stop offset="0.1045" stop-color="#cfcfcf"/><stop offset="0.1742" stop-color="#d4d4d4"/><stop offset="0.2555" stop-color="#dadada"/><stop offset="0.3484" stop-color="#dfdfdf"/><stop offset="0.4530" stop-color="#e3e3e3"/><stop offset="0.5691" stop-color="#e5e5e5"/><stop offset="0.6969" stop-color="#e7e7e7"/><stop offset="0.8362" stop-color="#e7e7e7"/><stop offset="1.0000" stop-color="#e7e7e7"/></linearGradient>
<linearGradient id="r144" gradientUnits="userSpaceOnUse" x1="0" y1="0" x2="861" y2="0" spreadMethod="reflect"><stop offset="0.0000" stop-color="#c6c6c6"/><stop offset="0.0465" stop-color="#cacaca"/><stop offset="0.1045" stop-color="#cfcfcf"/><stop offset="0.1742" stop-color="#d4d4d4"/><stop offset="0.2555" stop-color="#dadada"/><stop offset="0.3484" stop-color="#dfdfdf"/><stop offset="0.4530" stop-color="#e3e3e3"/><stop offset="0.5691" stop-color="#e5e5e5"/><stop offset="0.6969" stop-color="#e7e7e7"/><stop offset="0.8362" stop-color="#e7e7e7"/><stop offset="1.0000" stop-color="#e7e7e7"/></linearGradient>
<linearGradient id="r145" gradientUnits="userSpaceOnUse" x1="0" y1="0" x2="861" y2="0" spreadMethod="reflect"><stop offset="0.0000" stop-color="#c6c6c6"/><stop offset="0.0465" stop-color="#cacaca"/><stop offset="0.1045" stop-color="#cfcfcf"/><stop offset="0.1742" stop-color="#d4d4d4"/><stop offset="0.2555" stop-color="#dadada"/><stop offset="0.3484" stop-color="#dfdfdf"/><stop offset="0.4530" stop-color="#e3e3e3"/><stop offset="0.5691" stop-color="#e5e5e5"/><stop offset="0.6969" stop-color="#e6e6e6"/><stop offset="0.8362" stop-color="#e7e7e7"/><stop offset="1.0000" stop-color="#e7e7e7"/></linearGradient>
<linearGradient id="r146" gradientUnits="userSpaceOnUse" x1="0" y1="0" x2="861" y2="0" spreadMethod="reflect"><stop offset="0.0000" stop-color="#c6c6c6"/><stop offset="0.0465" stop-color="#cacaca"/><stop offset="0.1045" stop-color="#cfcfcf"/><stop offset="0.1742" stop-color="#d4d4d4"/><stop offset="0.2555" stop-color="#d9d9d9"/><stop offset="0.3484" stop-color="#dedede"/><stop offset="0.4530" stop-color="#e2e2e2"/><stop offset="0.5691" stop-color="#e5e5e5"/><stop offset="0.6969" stop-color="#e6e6e6"/><stop offset="0.8362" stop-color="#e7e7e7"/><stop offset="1.0000" stop-color="#e7e7e7"/></linearGradient>
<linearGradient id="r147" gradientUnits="userSpaceOnUse" x1="0" y1="0" x2="861" y2="0" spreadMethod="reflect"><stop offset="0.0000" stop-color="#c6c6c6"/><stop offset="0.0465" stop-color="#cacaca"/><stop offset="0.1045" stop-color="#cfcfcf"/><stop offset="0.1742" stop-color="#d4d4d4"/><stop offset="0.2555" stop-color="#d9d9d9"/><stop offset="0.3484" stop-color="#dedede"/><stop offset="0.4530" stop-color="#e2e2e2"/><stop offset="0.5691" stop-color="#e5e5e5"/><stop offset="0.6969" stop-color="#e6e6e6"/><stop offset="0.8362" stop-color="#e6e6e6"/><stop offset="1.0000" stop-color="#e6e6e6"/></linearGradient>
<linearGradient id="r148" gradientUnits="userSpaceOnUse" x1="0" y1="0" x2="861" y2="0" spreadMethod="reflect"><stop offset="0.0000" stop-color="#c6c6c6"/><stop offset="0.0465" stop-color="#cacaca"/><stop offset="0.1045" stop-color="#cfcfcf"/><stop offset="0.1742" stop-color="#d4d4d4"/><stop offset="0.2555" stop-color="#d9d9d9"/><stop offset="0.3484" stop-color="#dedede"/><stop offset="0.4530" stop-color="#e2e2e2"/><stop offset="0.5691" stop-color="#e5e5e5"/><stop offset="0.6969" stop-color="#e6e6e6"/><stop offset="0.8362" stop-color="#e6e6e6"/><stop offset="1.0000" stop-color="#e6e6e6"/></linearGradient>
<linearGradient id="r149" gradientUnits="userSpaceOnUse" x1="0" y1="0" x2="861" y2="0" spreadMethod="reflect"><stop offset="0.0000" stop-color="#c6c6c6"/><stop offset="0.0465" stop-color="#cacaca"/><stop offset="0.1045" stop-color="#cecece"/><stop offset="0.1742" stop-color="#d4d4d4"/><stop offset="0.2555" stop-color="#d9d9d9"/><stop offset="0.3484" stop-color="#dedede"/><stop offset="0.4530" stop-color="#e2e2e2"/><stop offset="0.5691" stop-color="#e4e4e4"/><stop offset="0.6969" stop-color="#e6e6e6"/><stop offset="0.8362" stop-color="#e6e6e6"/><stop offset="1.0000" stop-color="#e6e6e6"/></linearGradient>
<linearGradient id="r150" gradientUnits="userSpaceOnUse" x1="0" y1="0" x2="861" y2="0" spreadMethod="reflect"><stop offset="0.0000" stop-color="#c6c6c6"/><stop offset="0.0465" stop-color="#cacaca"/><stop offset="0.1045" stop-color="#cecece"/><stop offset="0.1742" stop-color="#d4d4d4"/><stop offset="0.2555" stop-color="#d9d9d9"/><stop offset="0.3484" stop-color="#dedede"/><stop offset="0.4530" stop-color="#e2e2e2"/><stop offset="0.5691" stop-color="#e4e4e4"/><stop offset="0.6969" stop-color="#e5e5e5"/><stop offset="0.8362" stop-color="#e6e6e6"/><stop offset="1.0000" stop-color="#e6e6e6"/></linearGradient>
<linearGradient id="r151" gradientUnits="userSpaceOnUse" x1="0" y1="0" x2="861" y2="0" spreadMethod="reflect"><stop offset="0.0000" stop-color="#c6c6c6"/><stop offset="0.0465" stop-color="#cacaca"/><stop offset="0.1045" stop-color="#cecece"/><stop offset="0.1742" stop-color="#d3d3d3"/><stop offset="0.2555" stop-color="#d9d9d9"/><stop offset="0.3484" stop-color="#dedede"/><stop offset="0.4530" stop-color="#e2e2e2"/><stop offset="0.5691" stop-color="#e4e4e4"/><stop offset="0.6969" stop-color="#e5e5e5"/><stop offset="0.8362" stop-color="#e6e6e6"/><stop offset="1.0000" stop-color="#e6e6e6"/></linearGradient>
<linearGradient id="r152" gradientUnits="userSpaceOnUse" x1="0" y1="0" x2="861" y2="0" spreadMethod="reflect"><stop offset="0.0000" stop-color="#c6c6c6"/><stop offset="0.0465" stop-color="#cacaca"/><stop offset="0.1045" stop-color="#cecece"/><stop offset="0.1742" stop-color="#d3d3d3"/><stop offset="0.2555" stop-color="#d9d9d9"/><stop offset="0.3484" stop-color="#dedede"/><stop offset="0.4530" stop-color="#e1e1e1"/><stop offset="0.5691" stop-color="#e4e4e4"/><stop offset="0.6969" stop-color="#e5e5e5"/><stop offset="0.8362" stop-color="#e5e5e5"/><stop offset="1.0000" stop-color="#e5e5e5"/></linearGradient>
<linearGradient id="r153" gradientUnits="userSpaceOnUse" x1="0" y1="0" x2="861" y2="0" spreadMethod="reflect"><stop offset="0.0000" stop-color="#c6c6c6"/><stop offset="0.0465" stop-color="#cacaca"/><stop offset="0.1045" stop-color="#cecece"/><stop offset="0.1742" stop-color="#d3d3d3"/><stop offset="0.2555" stop-color="#d9d9d9"/><stop offset="0.3484" stop-color="#dedede"/><stop offset="0.4530" stop-color="#e1e1e1"/><stop offset="0.5691" stop-color="#e4e4e4"/><stop offset="0.6969" stop-color="#e5e5e5"/><stop offset="0.8362" stop-color="#e5e5e5"/><stop offset="1.0000" stop-color="#e5e5e5"/></linearGradient>
<linearGradient id="r154" gradientUnits="userSpaceOnUse" x1="0" y1="0" x2="861" y2="0" spreadMethod="reflect"><stop offset="0.0000" stop-color="#c6c6c6"/><stop offset="0.0465" stop-color="#cacaca"/><stop offset="0.1045" stop-color="#cecece"/><stop offset="0.1742" stop-color="#d3d3d3"/><stop offset="0.2555" stop-color="#d9d9d9"/><stop offset="0.3484" stop-color="#dedede"/><stop offset="0.4530" stop-color="#e1e1e1"/><stop offset="0.5691" stop-color="#e4e4e4"/><stop offset="0.6969" stop-color="#e5e5e5"/><stop offset="0.8362" stop-color="#e5e5e5"/><stop offset="1.0000" stop-color="#e5e5e5"/></linearGradient>
<linearGradient id="r155" gradientUnits="userSpaceOnUse" x1="0" y1="0" x2="861" y2="0" spreadMethod="reflect"><stop offset="0.0000" stop-color="#c6c6c6"/><stop offset="0.0465" stop-color="#c9c9c9"/><stop offset="0.1045" stop-color="#cecece"/><stop offset="0.1742" stop-color="#d3d3d3"/><stop offset="0.2555" stop-color="#d8d8d8"/><stop offset="0.3484" stop-color="#dddddd"/><stop offset="0.4530" stop-color="#e1e1e1"/><stop offset="0.5691" stop-color="#e3e3e3"/><stop offset="0.6969" stop-color="#e5e5e5"/><stop offset="0.8362" stop-color="#e5e5e5"/><stop offset="1.0000" stop-color="#e5e5e5"/></linearGradient>
<linearGradient id="r156" gradientUnits="userSpaceOnUse" x1="0" y1="0" x2="861" y2="0" spreadMethod="reflect"><stop offset="0.0000" stop-color="#c6c6c6"/><stop offset="0.0465" stop-color="#c9c9c9"/><stop offset="0.1045" stop-color="#cecece"/><stop offset="0.1742" stop-color="#d3d3d3"/><stop offset="0.2555" stop-color="#d8d8d8"/><stop offset="0.3484" stop-color="#dddddd"/><stop offset="0.4530" stop-color="#e1e1e1"/><stop offset="0.5691" stop-color="#e3e3e3"/><stop offset="0.6969" stop-color="#e4e4e4"/><stop offset="0.8362" stop-color="#e5e5e5"/><stop offset="1.0000" stop-color="#e5e5e5"/></linearGradient>
<linearGradient id="r157" gradientUnits="userSpaceOnUse" x1="0" y1="0" x2="861" y2="0" spreadMethod="reflect"><stop offset="0.0000" stop-color="#c6c6c6"/><stop offset="0.0465" stop-color="#c9c9c9"/><stop offset="0.1045" stop-color="#cecece"/><stop offset="0.1742" stop-color="#d3d3d3"/><stop offset="0.2555" stop-color="#d8d8d8"/><stop offset="0.3484" stop-color="#dddddd"/><stop offset="0.4530" stop-color="#e1e1e1"/><stop offset="0.5691" stop-color="#e3e3e3"/><stop offset="0.6969" stop-color="#e4e4e4"/><stop offset="0.8362" stop-color="#e4e4e4"/><stop offset="1.0000" stop-color="#e5e5e5"/></linearGradient>
<linearGradient id="r158" gradientUnits="userSpaceOnUse" x1="0" y1="0" x2="861" y2="0" spreadMethod="reflect"><stop offset="0.0000" stop-color="#c6c6c6"/><stop offset="0.0465" stop-color="#c9c9c9"/><stop offset="0.1045" stop-color="#cecece"/><stop offset="0.1742" stop-color="#d3d3d3"/><stop offset="0.2555" stop-color="#d8d8d8"/><stop offset="0.3484" stop-color="#dddddd"/><stop offset="0.4530" stop-color="#e1e1e1"/><stop offset="0.5691" stop-color="#e3e3e3"/><stop offset="0.6969" stop-color="#e4e4e4"/><stop offset="0.8362" stop-color="#e4e4e4"/><stop offset="1.0000" stop-color="#e4e4e4"/></linearGradient>
<linearGradient id="r159" gradientUnits="userSpaceOnUse" x1="0" y1="0" x2="861" y2="0" spreadMethod="reflect"><stop offset="0.0000" stop-color="#c5c5c5"/><stop offset="0.0465" stop-color="#c9c9c9"/><stop offset="0.1045" stop-color="#cecece"/><stop offset="0.1742" stop-color="#d3d3d3"/><stop offset="0.2555" stop-color="#d8d8d8"/><stop offset="0.3484" stop-color="#dddddd"/><stop offset="0.4530" stop-color="#e0e0e0"/><stop offset="0.5691" stop-color="#e3e3e3"/><stop offset="0.6969" stop-color="#e4e4e4"/><stop offset="0.8362" stop-color="#e4e4e4"/><stop offset="1.0000" stop-color="#e4e4e4"/></linearGradient>
<linearGradient id="r160" gradientUnits="userSpaceOnUse" x1="0" y1="0" x2="861" y2="0" spreadMethod="reflect"><stop offset="0.0000" stop-color="#c5c5c5"/><stop offset="0.0465" stop-color="#c9c9c9"/><stop offset="0.1045" stop-color="#cecece"/><stop offset="0.1742" stop-color="#d3d3d3"/><stop offset="0.2555" stop-color="#d8d8d8"/><stop offset="0.3484" stop-color="#dddddd"/><stop offset="0.4530" stop-color="#e0e0e0"/><stop offset="0.5691" stop-color="#e3e3e3"/><stop offset="0.6969" stop-color="#e4e4e4"/><stop offset="0.8362" stop-color="#e4e4e4"/><stop offset="1.0000" stop-color="#e4e4e4"/></linearGradient>
<linearGradient id="r161" gradientUnits="userSpaceOnUse" x1="0" y1="0" x2="861" y2="0" spreadMethod="reflect"><stop offset="0.0000" stop-color="#c5c5c5"/><stop offset="0.0465" stop-color="#c9c9c9"/><stop offset="0.1045" stop-color="#cecece"/><stop offset="0.1742" stop-color="#d3d3d3"/><stop offset="0.2555" stop-color="#d8d8d8"/><stop offset="0.3484" stop-color="#dddddd"/><stop offset="0.4530" stop-color="#e0e0e0"/><stop offset="0.5691" stop-color="#e2e2e2"/><stop offset="0.6969" stop-color="#e3e3e3"/><stop offset="0.8362" stop-color="#e4e4e4"/><stop offset="1.0000" stop-color="#e4e4e4"/></linearGradient>
<linearGradient id="r162" gradientUnits="userSpaceOnUse" x1="0" y1="0" x2="861" y2="0" spreadMethod="reflect"><stop offset="0.0000" stop-color="#c5c5c5"/><stop offset="0.0465" stop-color="#c9c9c9"/><stop offset="0.1045" stop-color="#cdcdcd"/><stop offset="0.1742" stop-color="#d2d2d2"/><stop offset="0.2555" stop-color="#d8d8d8"/><stop offset="0.3484" stop-color="#dddddd"/><stop offset="0.4530" stop-color="#e0e0e0"/><stop offset="0.5691" stop-color="#e2e2e2"/><stop offset="0.6969" stop-color="#e3e3e3"/><stop offset="0.8362" stop-color="#e4e4e4"/><stop offset="1.0000" stop-color="#e4e4e4"/></linearGradient>
<linearGradient id="r163" gradientUnits="userSpaceOnUse" x1="0" y1="0" x2="861" y2="0" spreadMethod="reflect"><stop offset="0.0000" stop-color="#c5c5c5"/><stop offset="0.0465" stop-color="#c9c9c9"/><stop offset="0.1045" stop-color="#cdcdcd"/><stop offset="0.1742" stop-color="#d2d2d2"/><stop offset="0.2555" stop-color="#d8d8d8"/><stop offset="0.3484" stop-color="#dcdcdc"/><stop offset="0.4530" stop-color="#e0e0e0"/><stop offset="0.5691" stop-color="#e2e2e2"/><stop offset="0.6969" stop-color="#e3e3e3"/><stop offset="0.8362" stop-color="#e3e3e3"/><stop offset="1.0000" stop-color="#e3e3e3"/></linearGradient>
<linearGradient id="r164" gradientUnits="userSpaceOnUse" x1="0" y1="0" x2="861" y2="0" spreadMethod="reflect"><stop offset="0.0000" stop-color="#c5c5c5"/><stop offset="0.0465" stop-color="#c9c9c9"/><stop offset="0.1045" stop-color="#cdcdcd"/><stop offset="0.1742" stop-color="#d2d2d2"/><stop offset="0.2555" stop-color="#d7d7d7"/><stop offset="0.3484" stop-color="#dcdcdc"/><stop offset="0.4530" stop-color="#e0e0e0"/><stop offset="0.5691" stop-color="#e2e2e2"/><stop offset="0.6969" stop-color="#e3e3e3"/><stop offset="0.8362" stop-color="#e3e3e3"/><stop offset="1.0000" stop-color="#e3e3e3"/></linearGradient>
<linearGradient id="r165" gradientUnits="userSpaceOnUse" x1="0" y1="0" x2="861" y2="0" spreadMethod="reflect"><stop offset="0.0000" stop-color="#c5c5c5"/><stop offset="0.0465" stop-color="#c9c9c9"/><stop offset="0.1045" stop-color="#cdcdcd"/><stop offset="0.1742" stop-color="#d2d2d2"/><stop offset="0.2555" stop-color="#d7d7d7"/><stop offset="0.3484" stop-color="#dcdcdc"/><stop offset="0.4530" stop-color="#e0e0e0"/><stop offset="0.5691" stop-color="#e2e2e2"/><stop offset="0.6969" stop-color="#e3e3e3"/><stop offset="0.8362" stop-color="#e3e3e3"/><stop offset="1.0000" stop-color="#e3e3e3"/></linearGradient>
<linearGradient id="r166" gradientUnits="userSpaceOnUse" x1="0" y1="0" x2="861" y2="0" spreadMethod="reflect"><stop offset="0.0000" stop-color="#c5c5c5"/><stop offset="0.0465" stop-color="#c9c9c9"/><stop offset="0.1045" stop-color="#cdcdcd"/><stop offset="0.1742" stop-color="#d2d2d2"/><stop offset="0.2555" stop-color="#d7d7d7"/><stop offset="0.3484" stop-color="#dcdcdc"/><stop offset="0.4530" stop-color="#dfdfdf"/><stop offset="0.5691" stop-color="#e2e2e2"/><stop offset="0.6969" stop-color="#e3e3e3"/><stop offset="0.8362" stop-color="#e3e3e3"/><stop offset="1.0000" stop-color="#e3e3e3"/></linearGradient>
<linearGradient id="r167" gradientUnits="userSpaceOnUse" x1="0" y1="0" x2="861" y2="0" spreadMethod="reflect"><stop offset="0.0000" stop-color="#c5c5c5"/><stop offset="0.0465" stop-color="#c9c9c9"/><stop offset="0.1045" stop-color="#cdcdcd"/><stop offset="0.1742" stop-color="#d2d2d2"/><stop offset="0.2555" stop-color="#d7d7d7"/><stop offset="0.3484" stop-color="#dcdcdc"/><stop offset="0.4530" stop-color="#dfdfdf"/><stop offset="0.5691" stop-color="#e1e1e1"/><stop offset="0.6969" stop-color="#e2e2e2"/><stop offset="0.8362" stop-color="#e3e3e3"/><stop offset="1.0000" stop-color="#e3e3e3"/></linearGradient>
<linearGradient id="r168" gradientUnits="userSpaceOnUse" x1="0" y1="0" x2="861" y2="0" spreadMethod="reflect"><stop offset="0.0000" stop-color="#c5c5c5"/><stop offset="0.0465" stop-color="#c9c9c9"/><stop offset="0.1045" stop-color="#cdcdcd"/><stop offset="0.1742" stop-color="#d2d2d2"/><stop offset="0.2555" stop-color="#d7d7d7"/><stop offset="0.3484" stop-color="#dcdcdc"/><stop offset="0.4530" stop-color="#dfdfdf"/><stop offset="0.5691" stop-color="#e1e1e1"/><stop offset="0.6969" stop-color="#e2e2e2"/><stop offset="0.8362" stop-color="#e2e2e2"/><stop offset="1.0000" stop-color="#e2e2e2"/></linearGradient>
<linearGradient id="r169" gradientUnits="userSpaceOnUse" x1="0" y1="0" x2="861" y2="0" spreadMethod="reflect"><stop offset="0.0000" stop-color="#c5c5c5"/><stop offset="0.0465" stop-color="#c9c9c9"/><stop offset="0.1045" stop-color="#cdcdcd"/><stop offset="0.1742" stop-color="#d2d2d2"/><stop offset="0.2555" stop-color="#d7d7d7"/><stop offset="0.3484" stop-color="#dbdbdb"/><stop offset="0.4530" stop-color="#dfdfdf"/><stop offset="0.5691" stop-color="#e1e1e1"/><stop offset="0.6969" stop-color="#e2e2e2"/><stop offset="0.8362" stop-color="#e2e2e2"/><stop offset="1.0000" stop-color="#e2e2e2"/></linearGradient>
<linearGradient id="r170" gradientUnits="userSpaceOnUse" x1="0" y1="0" x2="861" y2="0" spreadMethod="reflect"><stop offset="0.0000" stop-color="#c5c5c5"/><stop offset="0.0465" stop-color="#c8c8c8"/><stop offset="0.1045" stop-color="#cdcdcd"/><stop offset="0.1742" stop-color="#d2d2d2"/><stop offset="0.2555" stop-color="#d7d7d7"/><stop offset="0.3484" stop-color="#dbdbdb"/><stop offset="0.4530" stop-color="#dfdfdf"/><stop offset="0.5691" stop-color="#e1e1e1"/><stop offset="0.6969" stop-color="#e2e2e2"/><stop offset="0.8362" stop-color="#e2e2e2"/><stop offset="1.0000" stop-color="#e2e2e2"/></linearGradient>
<linearGradient id="r171" gradientUnits="userSpaceOnUse" x1="0" y1="0" x2="861" y2="0" spreadMethod="reflect"><stop offset="0.0000" stop-color="#c5c5c5"/><stop offset="0.0465" stop-color="#c8c8c8"/><stop offset="0.1045" stop-color="#cdcdcd"/><stop offset="0.1742" stop-color="#d2d2d2"/><stop offset="0.2555" stop-color="#d7d7d7"/><stop offset="0.3484" stop-color="#dbdbdb"/><stop offset="0.4530" stop-color="#dfdfdf"/><stop offset="0.5691" stop-color="#e1e1e1"/><stop offset="0.6969" stop-color="#e2e2e2"/><stop offset="0.8362" stop-color="#e2e2e2"/><stop offset="1.0000" stop-color="#e2e2e2"/></linearGradient>
<linearGradient id="r172" gradientUnits="userSpaceOnUse" x1="0" y1="0" x2="861" y2="0" spreadMethod="reflect"><stop offset="0.0000" stop-color="#c5c5c5"/><stop offset="0.0465" stop-color="#c8c8c8"/><stop offset="0.1045" stop-color="#cdcdcd"/><stop offset="0.1742" stop-color="#d1d1d1"/><stop offset="0.2555" stop-color="#d6d6d6"/><stop offset="0.3484" stop-color="#dbdbdb"/><stop offset="0.4530" stop-color="#dedede"/><stop offset="0.5691" stop-color="#e1e1e1"/><stop offset="0.6969" stop-color="#e1e1e1"/><stop offset="0.8362" stop-color="#e2e2e2"/><stop offset="1.0000" stop-color="#e2e2e2"/></linearGradient>
<linearGradient id="r173" gradientUnits="userSpaceOnUse" x1="0" y1="0" x2="861" y2="0" spreadMethod="reflect"><stop offset="0.0000" stop-color="#c5c5c5"/><stop offset="0.0465" stop-color="#c8c8c8"/><stop offset="0.1045" stop-color="#cdcdcd"/><stop offset="0.1742" stop-color="#d1d1d1"/><stop offset="0.2555" stop-color="#d6d6d6"/><stop offset="0.3484" stop-color="#dbdbdb"/><stop offset="0.4530" stop-color="#dedede"/><stop offset="0.5691" stop-color="#e0e0e0"/><stop offset="0.6969" stop-color="#e1e1e1"/><stop offset="0.8362" stop-color="#e2e2e2"/><stop offset="1.0000" stop-color="#e2e2e2"/></linearGradient>
<linearGradient id="r174" gradientUnits="userSpaceOnUse" x1="0" y1="0" x2="861" y2="0" spreadMethod="reflect"><stop offset="0.0000" stop-color="#c5c5c5"/><stop offset="0.0465" stop-color="#c8c8c8"/><stop offset="0.1045" stop-color="#cccccc"/><stop offset="0.1742" stop-color="#d1d1d1"/><stop offset="0.2555" stop-color="#d6d6d6"/><stop offset="0.3484" stop-color="#dbdbdb"/><stop offset="0.4530" stop-color="#dedede"/><stop offset="0.5691" stop-color="#e0e0e0"/><stop offset="0.6969" stop-color="#e1e1e1"/><stop offset="0.8362" stop-color="#e1e1e1"/><stop offset="1.0000" stop-color="#e1e1e1"/></linearGradient>
<linearGradient id="r175" gradientUnits="userSpaceOnUse" x1="0" y1="0" x2="861" y2="0" spreadMethod="reflect"><stop offset="0.0000" stop-color="#c4c4c4"/><stop offset="0.0465" stop-color="#c8c8c8"/><stop offset="0.1045" stop-color="#cccccc"/><stop offset="0.1742" stop-color="#d1d1d1"/><stop offset="0.2555" stop-color="#d6d6d6"/><stop offset="0.3484" stop-color="#dbdbdb"/><stop offset="0.4530" stop-color="#dedede"/><stop offset="0.5691" stop-color="#e0e0e0"/><stop offset="0.6969" stop-color="#e1e1e1"/><stop offset="0.8362" stop-color="#e1e1e1"/><stop offset="1.0000" stop-color="#e1e1e1"/></linearGradient>
<linearGradient id="r176" gradientUnits="userSpaceOnUse" x1="0" y1="0" x2="861" y2="0" spreadMethod="reflect"><stop offset="0.0000" stop-color="#c4c4c4"/><stop offset="0.0465" stop-color="#c8c8c8"/><stop offset="0.1045" stop-color="#cccccc"/><stop offset="0.1742" stop-color="#d1d1d1"/><stop offset="0.2555" stop-color="#d6d6d6"/><stop offset="0.3484" stop-color="#dadada"/><stop offset="0.4530" stop-color="#dedede"/><stop offset="0.5691" stop-color="#e0e0e0"/><stop offset="0.6969" stop-color="#e1e1e1"/><stop offset="0.8362" stop-color="#e1e1e1"/><stop offset="1.0000" stop-color="#e1e1e1"/></linearGradient>
<linearGradient id="r177" gradientUnits="userSpaceOnUse" x1="0" y1="0" x2="861" y2="0" spreadMethod="reflect"><stop offset="0.0000" stop-color="#c4c4c4"/><stop offset="0.0465" stop-color="#c8c8c8"/><stop offset="0.1045" stop-color="#cccccc"/><stop offset="0.1742" stop-color="#d1d1d1"/><stop offset="0.2555" stop-color="#d6d6d6"/><stop offset="0.3484" stop-color="#dadada"/><stop offset="0.4530" stop-color="#dedede"/><stop offset="0.5691" stop-color="#e0e0e0"/><stop offset="0.6969" stop-color="#e1e1e1"/><stop offset="0.8362" stop-color="#e1e1e1"/><stop offset="1.0000" stop-color="#e1e1e1"/></linearGradient>
<linearGradient id="r178" gradientUnits="userSpaceOnUse" x1="0" y1="0" x2="861" y2="0" spreadMethod="reflect"><stop offset="0.0000" stop-color="#c4c4c4"/><stop offset="0.0465" stop-color="#c8c8c8"/><stop offset="0.1045" stop-color="#cccccc"/><stop offset="0.1742" stop-color="#d1d1d1"/><stop offset="0.2555" stop-color="#d6d6d6"/><stop offset="0.3484" stop-color="#dadada"/><stop offset="0.4530" stop-color="#dedede"/><stop offset="0.5691" stop-color="#e0e0e0"/><stop offset="0.6969" stop-color="#e0e0e0"/><stop offset="0.8362" stop-color="#e1e1e1"/><stop offset="1.0000" stop-color="#e1e1e1"/></linearGradient>
<linearGradient id="r179" gradientUnits="userSpaceOnUse" x1="0" y1="0" x2="861" y2="0" spreadMethod="reflect"><stop offset="0.0000" stop-color="#c4c4c4"/><stop offset="0.0465" stop-color="#c8c8c8"/><stop offset="0.1045" stop-color="#cccccc"/><stop offset="0.1742" stop-color="#d1d1d1"/><stop offset="0.2555" stop-color="#d6d6d6"/><stop offset="0.3484" stop-color="#dadada"/><stop offset="0.4530" stop-color="#dddddd"/><stop offset="0.5691" stop-color="#dfdfdf"/><stop offset="0.6969" stop-color="#e0e0e0"/><stop offset="0.8362" stop-color="#e0e0e0"/><stop offset="1.0000" stop-color="#e0e0e0"/></linearGradient>
<linearGradient id="r180" gradientUnits="userSpaceOnUse" x1="0" y1="0" x2="861" y2="0" spreadMethod="reflect"><stop offset="0.0000" stop-color="#c4c4c4"/><stop offset="0.0465" stop-color="#c8c8c8"/><stop offset="0.1045" stop-color="#cccccc"/><stop offset="0.1742" stop-color="#d1d1d1"/><stop offset="0.2555" stop-color="#d5d5d5"/><stop offset="0.3484" stop-color="#dadada"/><stop offset="0.4530" stop-color="#dddddd"/><stop offset="0.5691" stop-color="#dfdfdf"/><stop offset="0.6969" stop-color="#e0e0e0"/><stop offset="0.8362" stop-color="#e0e0e0"/><stop offset="1.0000" stop-color="#e0e0e0"/></linearGradient>
<linearGradient id="r181" gradientUnits="userSpaceOnUse" x1="0" y1="0" x2="861" y2="0" spreadMethod="reflect"><stop offset="0.0000" stop-color="#c4c4c4"/><stop offset="0.0465" stop-color="#c8c8c8"/><stop offset="0.1045" stop-color="#cccccc"/><stop offset="0.1742" stop-color="#d1d1d1"/><stop offset="0.2555" stop-color="#d5d5d5"/><stop offset="0.3484" stop-color="#dadada"/><stop offset="0.4530" stop-color="#dddddd"/><stop offset="0.5691" stop-color="#dfdfdf"/><stop offset="0.6969" stop-color="#e0e0e0"/><stop offset="0.8362" stop-color="#e0e0e0"/><stop offset="1.0000" stop-color="#e0e0e0"/></linearGradient>
<linearGradient id="r182" gradientUnits="userSpaceOnUse" x1="0" y1="0" x2="861" y2="0" spreadMethod="reflect"><stop offset="0.0000" stop-color="#c4c4c4"/><stop offset="0.0465" stop-color="#c8c8c8"/><stop offset="0.1045" stop-color="#cccccc"/><stop offset="0.1742" stop-color="#d0d0d0"/><stop offset="0.2555" stop-color="#d5d5d5"/><stop offset="0.3484" stop-color="#dadada"/><stop offset="0.4530" stop-color="#dddddd"/><stop offset="0.5691" stop-color="#dfdfdf"/><stop offset="0.6969" stop-color="#e0e0e0"/><stop offset="0.8362" stop-color="#e0e0e0"/><stop offset="1.0000" stop-color="#e0e0e0"/></linearGradient>
<linearGradient id="r183" gradientUnits="userSpaceOnUse" x1="0" y1="0" x2="861" y2="0" spreadMethod="reflect"><stop offset="0.0000" stop-color="#c4c4c4"/><stop offset="0.0465" stop-color="#c7c7c7"/><stop offset="0.1045" stop-color="#cccccc"/><stop offset="0.1742" stop-color="#d0d0d0"/><stop offset="0.2555" stop-color="#d5d5d5"/><stop offset="0.3484" stop-color="#d9d9d9"/><stop offset="0.4530" stop-color="#dddddd"/><stop offset="0.5691" stop-color="#dfdfdf"/><stop offset="0.6969" stop-color="#dfdfdf"/><stop offset="0.8362" stop-color="#e0e0e0"/><stop offset="1.0000" stop-color="#e0e0e0"/></linearGradient>
<linearGradient id="r184" gradientUnits="userSpaceOnUse" x1="0" y1="0" x2="861" y2="0" spreadMethod="reflect"><stop offset="0.0000" stop-color="#c4c4c4"/><stop offset="0.0465" stop-color="#c7c7c7"/><stop offset="0.1045" stop-color="#cccccc"/><stop offset="0.1742" stop-color="#d0d0d0"/><stop offset="0.2555" stop-color="#d5d5d5"/><stop offset="0.3484" stop-color="#d9d9d9"/><stop offset="0.4530" stop-color="#dddddd"/><stop offset="0.5691" stop-color="#dedede"/><stop offset="0.6969" stop-color="#dfdfdf"/><stop offset="0.8362" stop-color="#e0e0e0"/><stop offset="1.0000" stop-color="#e0e0e0"/></linearGradient>
<linearGradient id="r185" gradientUnits="userSpaceOnUse" x1="0" y1="0" x2="861" y2="0" spreadMethod="reflect"><stop offset="0.0000" stop-color="#c4c4c4"/><stop offset="0.0465" stop-color="#c7c7c7"/><stop offset="0.1045" stop-color="#cbcbcb"/><stop offset="0.1742" stop-color="#d0d0d0"/><stop offset="0.2555" stop-color="#d5d5d5"/><stop offset="0.3484" stop-color="#d9d9d9"/><stop offset="0.4530" stop-color="#dcdcdc"/><stop offset="0.5691" stop-color="#dedede"/><stop offset="0.6969" stop-color="#dfdfdf"/><stop offset="0.8362" stop-color="#dfdfdf"/><stop offset="1.0000" stop-color="#dfdfdf"/></linearGradient>
<linearGradient id="r186" gradientUnits="userSpaceOnUse" x1="0" y1="0" x2="861" y2="0" spreadMethod="reflect"><stop offset="0.0000" stop-color="#c4c4c4"/><stop offset="0.0465" stop-color="#c7c7c7"/><stop offset="0.1045" stop-color="#cbcbcb"/><stop offset="0.1742" stop-color="#d0d0d0"/><stop offset="0.2555" stop-color="#d5d5d5"/><stop offset="0.3484" stop-color="#d9d9d9"/><stop offset="0.4530" stop-color="#dcdcdc"/><stop offset="0.5691" stop-color="#dedede"/><stop offset="0.6969" stop-color="#dfdfdf"/><stop offset="0.8362" stop-color="#dfdfdf"/><stop offset="1.0000" stop-color="#dfdfdf"/></linearGradient>
<linearGradient id="r187" gradientUnits="userSpaceOnUse" x1="0" y1="0" x2="861" y2="0" spreadMethod="reflect"><stop offset="0.0000" stop-color="#c4c4c4"/><stop offset="0.0465" stop-color="#c7c7c7"/><stop offset="0.1045" stop-color="#cbcbcb"/><stop offset="0.1742" stop-color="#d0d0d0"/><stop offset="0.2555" stop-color="#d4d4d4"/><stop offset="0.3484" stop-color="#d9d9d9"/><stop offset="0.4530" stop-color="#dcdcdc"/><stop offset="0.5691" stop-color="#dedede"/><stop offset="0.6969" stop-color="#dfdfdf"/><stop offset="0.8362" stop-color="#dfdfdf"/><stop offset="1.0000" stop-color="#dfdfdf"/></linearGradient>
<linearGradient id="r188" gradientUnits="userSpaceOnUse" x1="0" y1="0" x2="861" y2="0" spreadMethod="reflect"><stop offset="0.0000" stop-color="#c4c4c4"/><stop offset="0.0465" stop-color="#c7c7c7"/><stop offset="0.1045" stop-color="#cbcbcb"/><stop offset="0.1742" stop-color="#d0d0d0"/><stop offset="0.2555" stop-color="#d4d4d4"/><stop offset="0.3484" stop-color="#d9d9d9"/><stop offset="0.4530" stop-color="#dcdcdc"/><stop offset="0.5691" stop-color="#dedede"/><stop offset="0.6969" stop-color="#dfdfdf"/><stop offset="0.8362" stop-color="#dfdfdf"/><stop offset="1.0000" stop-color="#dfdfdf"/></linearGradient>
<linearGradient id="r189" gradientUnits="userSpaceOnUse" x1="0" y1="0" x2="861" y2="0" spreadMethod="reflect"><stop offset="0.0000" stop-color="#c4c4c4"/><stop offset="0.0465" stop-color="#c7c7c7"/><stop offset="0.1045" stop-color="#cbcbcb"/><stop offset="0.1742" stop-color="#d0d0d0"/><stop offset="0.2555" stop-color="#d4d4d4"/><stop offset="0.3484" stop-color="#d8d8d8"/><stop offset="0.4530" stop-color="#dcdcdc"/><stop offset="0.5691" stop-color="#dedede"/><stop offset="0.6969" stop-color="#dedede"/><stop offset="0.8362" stop-color="#dfdfdf"/><stop offset="1.0000" stop-color="#dfdfdf"/></linearGradient>
<linearGradient id="r190" gradientUnits="userSpaceOnUse" x1="0" y1="0" x2="861" y2="0" spreadMethod="reflect"><stop offset="0.0000" stop-color="#c3c3c3"/><stop offset="0.0465" stop-color="#c7c7c7"/><stop offset="0.1045" stop-color="#cbcbcb"/><stop offset="0.1742" stop-color="#d0d0d0"/><stop offset="0.2555" stop-color="#d4d4d4"/><stop offset="0.3484" stop-color="#d8d8d8"/><stop offset="0.4530" stop-color="#dbdbdb"/><stop offset="0.5691" stop-color="#dddddd"/><stop offset="0.6969" stop-color="#dedede"/><stop offset="0.8362" stop-color="#dedede"/><stop offset="1.0000" stop-color="#dedede"/></linearGradient>
<linearGradient id="r191" gradientUnits="userSpaceOnUse" x1="0" y1="0" x2="861" y2="0" spreadMethod="reflect"><stop offset="0.0000" stop-color="#c3c3c3"/><stop offset="0.0465" stop-color="#c7c7c7"/><stop offset="0.1045" stop-color="#cbcbcb"/><stop offset="0.1742" stop-color="#cfcfcf"/><stop offset="0.2555" stop-color="#d4d4d4"/><stop offset="0.3484" stop-color="#d8d8d8"/><stop offset="0.4530" stop-color="#dbdbdb"/><stop offset="0.5691" stop-color="#dddddd"/><stop offset="0.6969" stop-color="#dedede"/><stop offset="0.8362" stop-color="#dedede"/><stop offset="1.0000" stop-color="#dedede"/></linearGradient>
<linearGradient id="r192" gradientUnits="userSpaceOnUse" x1="0" y1="0" x2="861" y2="0" spreadMethod="reflect"><stop offset="0.0000" stop-color="#c3c3c3"/><stop offset="0.0465" stop-color="#c7c7c7"/><stop offset="0.1045" stop-color="#cbcbcb"/><stop offset="0.1742" stop-color="#cfcfcf"/><stop offset="0.2555" stop-color="#d4d4d4"/><stop offset="0.3484" stop-color="#d8d8d8"/><stop offset="0.4530" stop-color="#dbdbdb"/><stop offset="0.5691" stop-color="#dddddd"/><stop offset="0.6969" stop-color="#dedede"/><stop offset="0.8362" stop-color="#dedede"/><stop offset="1.0000" stop-color="#dedede"/></linearGradient>
<linearGradient id="r193" gradientUnits="userSpaceOnUse" x1="0" y1="0" x2="861" y2="0" spreadMethod="reflect"><stop offset="0.0000" stop-color="#c3c3c3"/><stop offset="0.0465" stop-color="#c7c7c7"/><stop offset="0.1045" stop-color="#cbcbcb"/><stop offset="0.1742" stop-color="#cfcfcf"/><stop offset="0.2555" stop-color="#d4d4d4"/><stop offset="0.3484" stop-color="#d8d8d8"/><stop offset="0.4530" stop-color="#dbdbdb"/><stop offset="0.5691" stop-color="#dddddd"/><stop offset="0.6969" stop-color="#dedede"/><stop offset="0.8362" stop-color="#dedede"/><stop offset="1.0000" stop-color="#dedede"/></linearGradient>
<linearGradient id="r194" gradientUnits="userSpaceOnUse" x1="0" y1="0" x2="861" y2="0" spreadMethod="reflect"><stop offset="0.0000" stop-color="#c3c3c3"/><stop offset="0.0465" stop-color="#c7c7c7"/><stop offset="0.1045" stop-color="#cbcbcb"/><stop offset="0.1742" stop-color="#cfcfcf"/><stop offset="0.2555" stop-color="#d4d4d4"/><stop offset="0.3484" stop-color="#d8d8d8"/><stop offset="0.4530" stop-color="#dbdbdb"/><stop offset="0.5691" stop-color="#dddddd"/><stop offset="0.6969" stop-color="#dedede"/><stop offset="0.8362" stop-color="#dedede"/><stop offset="1.0000" stop-color="#dedede"/></linearGradient>
<linearGradient id="r195" gradientUnits="userSpaceOnUse" x1="0" y1="0" x2="861" y2="0" spreadMethod="reflect"><stop offset="0.0000" stop-color="#c3c3c3"/><stop offset="0.0465" stop-color="#c6c6c6"/><stop offset="0.1045" stop-color="#cbcbcb"/><stop offset="0.1742" stop-color="#cfcfcf"/><stop offset="0.2555" stop-color="#d3d3d3"/><stop offset="0.3484" stop-color="#d7d7d7"/><stop offset="0.4530" stop-color="#dbdbdb"/><stop offset="0.5691" stop-color="#dddddd"/><stop offset="0.6969" stop-color="#dddddd"/><stop offset="0.8362" stop-color="#dedede"/><stop offset="1.0000" stop-color="#dedede"/></linearGradient>
<linearGradient id="r196" gradientUnits="userSpaceOnUse" x1="0" y1="0" x2="861" y2="0" spreadMethod="reflect"><stop offset="0.0000" stop-color="#c3c3c3"/><stop offset="0.0465" stop-color="#c6c6c6"/><stop offset="0.1045" stop-color="#cacaca"/><stop offset="0.1742" stop-color="#cfcfcf"/><stop offset="0.2555" stop-color="#d3d3d3"/><stop offset="0.3484" stop-color="#d7d7d7"/><stop offset="0.4530" stop-color="#dadada"/><stop offset="0.5691" stop-color="#dcdcdc"/><stop offset="0.6969" stop-color="#dddddd"/><stop offset="0.8362" stop-color="#dddddd"/><stop offset="1.0000" stop-color="#dddddd"/></linearGradient>
<linearGradient id="r197" gradientUnits="userSpaceOnUse" x1="0" y1="0" x2="861" y2="0" spreadMethod="reflect"><stop offset="0.0000" stop-color="#c3c3c3"/><stop offset="0.0465" stop-color="#c6c6c6"/><stop offset="0.1045" stop-color="#cacaca"/><stop offset="0.1742" stop-color="#cfcfcf"/><stop offset="0.2555" stop-color="#d3d3d3"/><stop offset="0.3484" stop-color="#d7d7d7"/><stop offset="0.4530" stop-color="#dadada"/><stop offset="0.5691" stop-color="#dcdcdc"/><stop offset="0.6969" stop-color="#dddddd"/><stop offset="0.8362" stop-color="#dddddd"/><stop offset="1.0000" stop-color="#dddddd"/></linearGradient>
<linearGradient id="r198" gradientUnits="userSpaceOnUse" x1="0" y1="0" x2="861" y2="0" spreadMethod="reflect"><stop offset="0.0000" stop-color="#c3c3c3"/><stop offset="0.0465" stop-color="#c6c6c6"/><stop offset="0.1045" stop-color="#cacaca"/><stop offset="0.1742" stop-color="#cfcfcf"/><stop offset="0.2555" stop-color="#d3d3d3"/><stop offset="0.3484" stop-color="#d7d7d7"/><stop offset="0.4530" stop-color="#dadada"/><stop offset="0.5691" stop-color="#dcdcdc"/><stop offset="0.6969" stop-color="#dddddd"/><stop offset="0.8362" stop-color="#dddddd"/><stop offset="1.0000" stop-color="#dddddd"/></linearGradient>
<linearGradient id="r199" gradientUnits="userSpaceOnUse" x1="0" y1="0" x2="861" y2="0" spreadMethod="reflect"><stop offset="0.0000" stop-color="#c3c3c3"/><stop offset="0.0465" stop-color="#c6c6c6"/><stop offset="0.1045" stop-color="#cacaca"/><stop offset="0.1742" stop-color="#cecece"/><stop offset="0.2555" stop-color="#d3d3d3"/><stop offset="0.3484" stop-color="#d7d7d7"/><stop offset="0.4530" stop-color="#dadada"/><stop offset="0.5691" stop-color="#dcdcdc"/><stop offset="0.6969" stop-color="#dddddd"/><stop offset="0.8362" stop-color="#dddddd"/><stop offset="1.0000" stop-color="#dddddd"/></linearGradient>
<linearGradient id="r200" gradientUnits="userSpaceOnUse" x1="0" y1="0" x2="861" y2="0" spreadMethod="reflect"><stop offset="0.0000" stop-color="#c3c3c3"/><stop offset="0.0465" stop-color="#c6c6c6"/><stop offset="0.1045" stop-color="#cacaca"/><stop offset="0.1742" stop-color="#cecece"/><stop offset="0.2555" stop-color="#d3d3d3"/><stop offset="0.3484" stop-color="#d7d7d7"/><stop offset="0.4530" stop-color="#dadada"/><stop offset="0.5691" stop-color="#dcdcdc"/><stop offset="0.6969" stop-color="#dcdcdc"/><stop offset="0.8362" stop-color="#dddddd"/><stop offset="1.0000" stop-color="#dddddd"/></linearGradient>
<linearGradient id="r201" gradientUnits="userSpaceOnUse" x1="0" y1="0" x2="861" y2="0" spreadMethod="reflect"><stop offset="0.0000" stop-color="#c3c3c3"/><stop offset="0.0465" stop-color="#c6c6c6"/><stop offset="0.1045" stop-color="#cacaca"/><stop offset="0.1742" stop-color="#cecece"/><stop offset="0.2555" stop-color="#d3d3d3"/><stop offset="0.3484" stop-color="#d6d6d6"/><stop offset="0.4530" stop-color="#d9d9d9"/><stop offset="0.5691" stop-color="#dbdbdb"/><stop offset="0.6969" stop-color="#dcdcdc"/><stop offset="0.8362" stop-color="#dcdcdc"/><stop offset="1.0000" stop-color="#dcdcdc"/></linearGradient>
<linearGradient id="r202" gradientUnits="userSpaceOnUse" x1="0" y1="0" x2="861" y2="0" spreadMethod="reflect"><stop offset="0.0000" stop-color="#c3c3c3"/><stop offset="0.0465" stop-color="#c6c6c6"/><stop offset="0.1045" stop-color="#cacaca"/><stop offset="0.1742" stop-color="#cecece"/><stop offset="0.2555" stop-color="#d2d2d2"/><stop offset="0.3484" stop-color="#d6d6d6"/><stop offset="0.4530" stop-color="#d9d9d9"/><stop offset="0.5691" stop-color="#dbdbdb"/><stop offset="0.6969" stop-color="#dcdcdc"/><stop offset="0.8362" stop-color="#dcdcdc"/><stop offset="1.0000" stop-color="#dcdcdc"/></linearGradient>
<linearGradient id="r203" gradientUnits="userSpaceOnUse" x1="0" y1="0" x2="861" y2="0" spreadMethod="reflect"><stop offset="0.0000" stop-color="#c2c2c2"/><stop offset="0.0465" stop-color="#c6c6c6"/><stop offset="0.1045" stop-color="#cacaca"/><stop offset="0.1742" stop-color="#cecece"/><stop offset="0.2555" stop-color="#d2d2d2"/><stop offset="0.3484" stop-color="#d6d6d6"/><stop offset="0.4530" stop-color="#d9d9d9"/><stop offset="0.5691" stop-color="#dbdbdb"/><stop offset="0.6969" stop-color="#dcdcdc"/><stop offset="0.8362" stop-color="#dcdcdc"/><stop offset="1.0000" stop-color="#dcdcdc"/></linearGradient>
<linearGradient id="r204" gradientUnits="userSpaceOnUse" x1="0" y1="0" x2="861" y2="0" spreadMethod="reflect"><stop offset="0.0000" stop-color="#c2c2c2"/><stop offset="0.0465" stop-color="#c6c6c6"/><stop offset="0.1045" stop-color="#cacaca"/><stop offset="0.1742" stop-color="#cecece"/><stop offset="0.2555" stop-color="#d2d2d2"/><stop offset="0.3484" stop-color="#d6d6d6"/><stop offset="0.4530" stop-color="#d9d9d9"/><stop offset="0.5691" stop-color="#dbdbdb"/><stop offset="0.6969" stop-color="#dcdcdc"/><stop offset="0.8362" stop-color="#dcdcdc"/><stop offset="1.0000" stop-color="#dcdcdc"/></linearGradient>
<linearGradient id="r205" gradientUnits="userSpaceOnUse" x1="0" y1="0" x2="861" y2="0" spreadMethod="reflect"><stop offset="0.0000" stop-color="#c2c2c2"/><stop offset="0.0465" stop-color="#c6c6c6"/><stop offset="0.1045" stop-color="#cacaca"/><stop offset="0.1742" stop-color="#cecece"/><stop offset="0.2555" stop-color="#d2d2d2"/><stop offset="0.3484" stop-color="#d6d6d6"/><stop offset="0.4530" stop-color="#d9d9d9"/><stop offset="0.5691" stop-color="#dbdbdb"/><stop offset="0.6969" stop-color="#dbdbdb"/><stop offset="0.8362" stop-color="#dcdcdc"/><stop offset="1.0000" stop-color="#dcdcdc"/></linearGradient>
<linearGradient id="r206" gradientUnits="userSpaceOnUse" x1="0" y1="0" x2="861" y2="0" spreadMethod="reflect"><stop offset="0.0000" stop-color="#c2c2c2"/><stop offset="0.0465" stop-color="#c6c6c6"/><stop offset="0.1045" stop-color="#c9c9c9"/><stop offset="0.1742" stop-color="#cecece"/><stop offset="0.2555" stop-color="#d2d2d2"/><stop offset="0.3484" stop-color="#d6d6d6"/><stop offset="0.4530" stop-color="#d9d9d9"/><stop offset="0.5691" stop-color="#dadada"/><stop offset="0.6969" stop-color="#dbdbdb"/><stop offset="0.8362" stop-color="#dbdbdb"/><stop offset="1.0000" stop-color="#dbdbdb"/></linearGradient>
<linearGradient id="r207" gradientUnits="userSpaceOnUse" x1="0" y1="0" x2="861" y2="0" spreadMethod="reflect"><stop offset="0.0000" stop-color="#c2c2c2"/><stop offset="0.0465" stop-color="#c5c5c5"/><stop offset="0.1045" stop-color="#c9c9c9"/><stop offset="0.1742" stop-color="#cecece"/><stop offset="0.2555" stop-color="#d2d2d2"/><stop offset="0.3484" stop-color="#d5d5d5"/><stop offset="0.4530" stop-color="#d8d8d8"/><stop offset="0.5691" stop-color="#dadada"/><stop offset="0.6969" stop-color="#dbdbdb"/><stop offset="0.8362" stop-color="#dbdbdb"/><stop offset="1.0000" stop-color="#dbdbdb"/></linearGradient>
<linearGradient id="r208" gradientUnits="userSpaceOnUse" x1="0" y1="0" x2="861" y2="0" spreadMethod="reflect"><stop offset="0.0000" stop-color="#c2c2c2"/><stop offset="0.0465" stop-color="#c5c5c5"/><stop offset="0.1045" stop-color="#c9c9c9"/><stop offset="0.1742" stop-color="#cdcdcd"/><stop offset="0.2555" stop-color="#d2d2d2"/><stop offset="0.3484" stop-color="#d5d5d5"/><stop offset="0.4530" stop-color="#d8d8d8"/><stop offset="0.5691" stop-color="#dadada"/><stop offset="0.6969" stop-color="#dbdbdb"/><stop offset="0.8362" stop-color="#dbdbdb"/><stop offset="1.0000" stop-color="#dbdbdb"/></linearGradient>
<linearGradient id="r209" gradientUnits="userSpaceOnUse" x1="0" y1="0" x2="861" y2="0" spreadMethod="reflect"><stop offset="0.0000" stop-color="#c2c2c2"/><stop offset="0.0465" stop-color="#c5c5c5"/><stop offset="0.1045" stop-color="#c9c9c9"/><stop offset="0.1742" stop-color="#cdcdcd"/><stop offset="0.2555" stop-color="#d1d1d1"/><stop offset="0.3484" stop-color="#d5d5d5"/><stop offset="0.4530" stop-color="#d8d8d8"/><stop offset="0.5691" stop-color="#dadada"/><stop offset="0.6969" stop-color="#dadada"/><stop offset="0.8362" stop-color="#dbdbdb"/><stop offset="1.0000" stop-color="#dbdbdb"/></linearGradient>
<linearGradient id="r210" gradientUnits="userSpaceOnUse" x1="0" y1="0" x2="861" y2="0" spreadMethod="reflect"><stop offset="0.0000" stop-color="#c2c2c2"/><stop offset="0.0465" stop-color="#c5c5c5"/><stop offset="0.1045" stop-color="#c9c9c9"/><stop offset="0.1742" stop-color="#cdcdcd"/><stop offset="0.2555" stop-color="#d1d1d1"/><stop offset="0.3484" stop-color="#d5d5d5"/><stop offset="0.4530" stop-color="#d8d8d8"/><stop offset="0.5691" stop-color="#dadada"/><stop offset="0.6969" stop-color="#dadada"/><stop offset="0.8362" stop-color="#dadada"/><stop offset="1.0000" stop-color="#dadada"/></linearGradient>
<linearGradient id="r211" gradientUnits="userSpaceOnUse" x1="0" y1="0" x2="861" y2="0" spreadMethod="reflect"><stop offset="0.0000" stop-color="#c2c2c2"/><stop offset="0.0465" stop-color="#c5c5c5"/><stop offset="0.1045" stop-color="#c9c9c9"/><stop offset="0.1742" stop-color="#cdcdcd"/><stop offset="0.2555" stop-color="#d1d1d1"/><stop offset="0.3484" stop-color="#d5d5d5"/><stop offset="0.4530" stop-color="#d8d8d8"/><stop offset="0.5691" stop-color="#d9d9d9"/><stop offset="0.6969" stop-color="#dadada"/><stop offset="0.8362" stop-color="#dadada"/><stop offset="1.0000" stop-color="#dadada"/></linearGradient>
<linearGradient id="r212" gradientUnits="userSpaceOnUse" x1="0" y1="0" x2="861" y2="0" spreadMethod="reflect"><stop offset="0.0000" stop-color="#c2c2c2"/><stop offset="0.0465" stop-color="#c5c5c5"/><stop offset="0.1045" stop-color="#c9c9c9"/><stop offset="0.1742" stop-color="#cdcdcd"/><stop offset="0.2555" stop-color="#d1d1d1"/><stop offset="0.3484" stop-color="#d5d5d5"/><stop offset="0.4530" stop-color="#d7d7d7"/><stop offset="0.5691" stop-color="#d9d9d9"/><stop offset="0.6969" stop-color="#dadada"/><stop offset="0.8362" stop-color="#dadada"/><stop offset="1.0000" stop-color="#dadada"/></linearGradient>
<linearGradient id="r213" gradientUnits="userSpaceOnUse" x1="0" y1="0" x2="861" y2="0" spreadMethod="reflect"><stop offset="0.0000" stop-color="#c2c2c2"/><stop offset="0.0465" stop-color="#c5c5c5"/><stop offset="0.1045" stop-color="#c9c9c9"/><stop offset="0.1742" stop-color="#cdcdcd"/><stop offset="0.2555" stop-color="#d1d1d1"/><stop offset="0.3484" stop-color="#d4d4d4"/><stop offset="0.4530" stop-color="#d7d7d7"/><stop offset="0.5691" stop-color="#d9d9d9"/><stop offset="0.6969" stop-color="#dadada"/><stop offset="0.8362" stop-color="#dadada"/><stop offset="1.0000" stop-color="#dadada"/></linearGradient>
<linearGradient id="r214" gradientUnits="userSpaceOnUse" x1="0" y1="0" x2="861" y2="0" spreadMethod="reflect"><stop offset="0.0000" stop-color="#c2c2c2"/><stop offset="0.0465" stop-color="#c5c5c5"/><stop offset="0.1045" stop-color="#c9c9c9"/><stop offset="0.1742" stop-color="#cdcdcd"/><stop offset="0.2555" stop-color="#d1d1d1"/><stop offset="0.3484" stop-color="#d4d4d4"/><stop offset="0.4530" stop-color="#d7d7d7"/><stop offset="0.5691" stop-color="#d9d9d9"/><stop offset="0.6969" stop-color="#d9d9d9"/><stop offset="0.8362" stop-color="#dadada"/><stop offset="1.0000" stop-color="#dadada"/></linearGradient>
<linearGradient id="r215" gradientUnits="userSpaceOnUse" x1="0" y1="0" x2="861" y2="0" spreadMethod="reflect"><stop offset="0.0000" stop-color="#c1c1c1"/><stop offset="0.0465" stop-color="#c5c5c5"/><stop offset="0.1045" stop-color="#c8c8c8"/><stop offset="0.1742" stop-color="#cdcdcd"/><stop offset="0.2555" stop-color="#d1d1d1"/><stop offset="0.3484" stop-color="#d4d4d4"/><stop offset="0.4530" stop-color="#d7d7d7"/><stop offset="0.5691" stop-color="#d9d9d9"/><stop offset="0.6969" stop-color="#d9d9d9"/><stop offset="0.8362" stop-color="#d9d9d9"/><stop offset="1.0000" stop-color="#d9d9d9"/></linearGradient>
<linearGradient id="r216" gradientUnits="userSpaceOnUse" x1="0" y1="0" x2="861" y2="0" spreadMethod="reflect"><stop offset="0.0000" stop-color="#c1c1c1"/><stop offset="0.0465" stop-color="#c5c5c5"/><stop offset="0.1045" stop-color="#c8c8c8"/><stop offset="0.1742" stop-color="#cccccc"/><stop offset="0.2555" stop-color="#d0d0d0"/><stop offset="0.3484" stop-color="#d4d4d4"/><stop offset="0.4530" stop-color="#d7d7d7"/><stop offset="0.5691" stop-color="#d8d8d8"/><stop offset="0.6969" stop-color="#d9d9d9"/><stop offset="0.8362" stop-color="#d9d9d9"/><stop offset="1.0000" stop-color="#d9d9d9"/></linearGradient>
<linearGradient id="r217" gradientUnits="userSpaceOnUse" x1="0" y1="0" x2="861" y2="0" spreadMethod="reflect"><stop offset="0.0000" stop-color="#c1c1c1"/><stop offset="0.0465" stop-color="#c4c4c4"/><stop offset="0.1045" stop-color="#c8c8c8"/><stop offset="0.1742" stop-color="#cccccc"/><stop offset="0.2555" stop-color="#d0d0d0"/><stop offset="0.3484" stop-color="#d4d4d4"/><stop offset="0.4530" stop-color="#d6d6d6"/><stop offset="0.5691" stop-color="#d8d8d8"/><stop offset="0.6969" stop-color="#d9d9d9"/><stop offset="0.8362" stop-color="#d9d9d9"/><stop offset="1.0000" stop-color="#d9d9d9"/></linearGradient>
<linearGradient id="r218" gradientUnits="userSpaceOnUse" x1="0" y1="0" x2="861" y2="0" spreadMethod="reflect"><stop offset="0.0000" stop-color="#c1c1c1"/><stop offset="0.0465" stop-color="#c4c4c4"/><stop offset="0.1045" stop-color="#c8c8c8"/><stop offset="0.1742" stop-color="#cccccc"/><stop offset="0.2555" stop-color="#d0d0d0"/><stop offset="0.3484" stop-color="#d4d4d4"/><stop offset="0.4530" stop-color="#d6d6d6"/><stop offset="0.5691" stop-color="#d8d8d8"/><stop offset="0.6969" stop-color="#d9d9d9"/><stop offset="0.8362" stop-color="#d9d9d9"/><stop offset="1.0000" stop-color="#d9d9d9"/></linearGradient>
<linearGradient id="r219" gradientUnits="userSpaceOnUse" x1="0" y1="0" x2="861" y2="0" spreadMethod="reflect"><stop offset="0.0000" stop-color="#c1c1c1"/><stop offset="0.0465" stop-color="#c4c4c4"/><stop offset="0.1045" stop-color="#c8c8c8"/><stop offset="0.1742" stop-color="#cccccc"/><stop offset="0.2555" stop-color="#d0d0d0"/><stop offset="0.3484" stop-color="#d3d3d3"/><stop offset="0.4530" stop-color="#d6d6d6"/><stop offset="0.5691" stop-color="#d8d8d8"/><stop offset="0.6969" stop-color="#d8d8d8"/><stop offset="0.8362" stop-color="#d9d9d9"/><stop offset="1.0000" stop-color="#d9d9d9"/></linearGradient>
<linearGradient id="r220" gradientUnits="userSpaceOnUse" x1="0" y1="0" x2="861" y2="0" spreadMethod="reflect"><stop offset="0.0000" stop-color="#c1c1c1"/><stop offset="0.0465" stop-color="#c4c4c4"/><stop offset="0.1045" stop-color="#c8c8c8"/><stop offset="0.1742" stop-color="#cccccc"/><stop offset="0.2555" stop-color="#d0d0d0"/><stop offset="0.3484" stop-color="#d3d3d3"/><stop offset="0.4530" stop-color="#d6d6d6"/><stop offset="0.5691" stop-color="#d7d7d7"/><stop offset="0.6969" stop-color="#d8d8d8"/><stop offset="0.8362" stop-color="#d8d8d8"/><stop offset="1.0000" stop-color="#d8d8d8"/></linearGradient>
<linearGradient id="r221" gradientUnits="userSpaceOnUse" x1="0" y1="0" x2="861" y2="0" spreadMethod="reflect"><stop offset="0.0000" stop-color="#c1c1c1"/><stop offset="0.0465" stop-color="#c4c4c4"/><stop offset="0.1045" stop-color="#c8c8c8"/><stop offset="0.1742" stop-color="#cccccc"/><stop offset="0.2555" stop-color="#d0d0d0"/><stop offset="0.3484" stop-color="#d3d3d3"/><stop offset="0.4530" stop-color="#d6d6d6"/><stop offset="0.5691" stop-color="#d7d7d7"/><stop offset="0.6969" stop-color="#d8d8d8"/><stop offset="0.8362" stop-color="#d8d8d8"/><stop offset="1.0000" stop-color="#d8d8d8"/></linearGradient>
<linearGradient id="r222" gradientUnits="userSpaceOnUse" x1="0" y1="0" x2="861" y2="0" spreadMethod="reflect"><stop offset="0.0000" stop-color="#c1c1c1"/><stop offset="0.0465" stop-color="#c4c4c4"/><stop offset="0.1045" stop-color="#c8c8c8"/><stop offset="0.1742" stop-color="#cccccc"/><stop offset="0.2555" stop-color="#d0d0d0"/><stop offset="0.3484" stop-color="#d3d3d3"/><stop offset="0.4530" stop-color="#d6d6d6"/><stop offset="0.5691" stop-color="#d7d7d7"/><stop offset="0.6969" stop-color="#d8d8d8"/><stop offset="0.8362" stop-color="#d8d8d8"/><stop offset="1.0000" stop-color="#d8d8d8"/></linearGradient>
<linearGradient id="r223" gradientUnits="userSpaceOnUse" x1="0" y1="0" x2="861" y2="0" spreadMethod="reflect"><stop offset="0.0000" stop-color="#c1c1c1"/><stop offset="0.0465" stop-color="#c4c4c4"/><stop offset="0.1045" stop-color="#c8c8c8"/><stop offset="0.1742" stop-color="#cbcbcb"/><stop offset="0.2555" stop-color="#cfcfcf"/><stop offset="0.3484" stop-color="#d3d3d3"/><stop offset="0.4530" stop-color="#d5d5d5"/><stop offset="0.5691" stop-color="#d7d7d7"/><stop offset="0.6969" stop-color="#d8d8d8"/><stop offset="0.8362" stop-color="#d8d8d8"/><stop offset="1.0000" stop-color="#d8d8d8"/></linearGradient>
<linearGradient id="r224" gradientUnits="userSpaceOnUse" x1="0" y1="0" x2="861" y2="0" spreadMethod="reflect"><stop offset="0.0000" stop-color="#c1c1c1"/><stop offset="0.0465" stop-color="#c4c4c4"/><stop offset="0.1045" stop-color="#c7c7c7"/><stop offset="0.1742" stop-color="#cbcbcb"/><stop offset="0.2555" stop-color="#cfcfcf"/><stop offset="0.3484" stop-color="#d3d3d3"/><stop offset="0.4530" stop-color="#d5d5d5"/><stop offset="0.5691" stop-color="#d7d7d7"/><stop offset="0.6969" stop-color="#d7d7d7"/><stop offset="0.8362" stop-color="#d8d8d8"/><stop offset="1.0000" stop-color="#d8d8d8"/></linearGradient>
<linearGradient id="r225" gradientUnits="userSpaceOnUse" x1="0" y1="0" x2="861" y2="0" spreadMethod="reflect"><stop offset="0.0000" stop-color="#c1c1c1"/><stop offset="0.0465" stop-color="#c4c4c4"/><stop offset="0.1045" stop-color="#c7c7c7"/><stop offset="0.1742" stop-color="#cbcbcb"/><stop offset="0.2555" stop-color="#cfcfcf"/><stop offset="0.3484" stop-color="#d2d2d2"/><stop offset="0.4530" stop-color="#d5d5d5"/><stop offset="0.5691" stop-color="#d6d6d6"/><stop offset="0.6969" stop-color="#d7d7d7"/><stop offset="0.8362" stop-color="#d7d7d7"/><stop offset="1.0000" stop-color="#d7d7d7"/></linearGradient>
<linearGradient id="r226" gradientUnits="userSpaceOnUse" x1="0" y1="0" x2="861" y2="0" spreadMethod="reflect"><stop offset="0.0000" stop-color="#c0c0c0"/><stop offset="0.0465" stop-color="#c4c4c4"/><stop offset="0.1045" stop-color="#c7c7c7"/><stop offset="0.1742" stop-color="#cbcbcb"/><stop offset="0.2555" stop-color="#cfcfcf"/><stop offset="0.3484" stop-color="#d2d2d2"/><stop offset="0.4530" stop-color="#d5d5d5"/><stop offset="0.5691" stop-color="#d6d6d6"/><stop offset="0.6969" stop-color="#d7d7d7"/><stop offset="0.8362" stop-color="#d7d7d7"/><stop offset="1.0000" stop-color="#d7d7d7"/></linearGradient>
<linearGradient id="r227" gradientUnits="userSpaceOnUse" x1="0" y1="0" x2="861" y2="0" spreadMethod="reflect"><stop offset="0.0000" stop-color="#c0c0c0"/><stop offset="0.0465" stop-color="#c3c3c3"/><stop offset="0.1045" stop-color="#c7c7c7"/><stop offset="0.1742" stop-color="#cbcbcb"/><stop offset="0.2555" stop-color="#cfcfcf"/><stop offset="0.3484" stop-color="#d2d2d2"/><stop offset="0.4530" stop-color="#d5d5d5"/><stop offset="0.5691" stop-color="#d6d6d6"/><stop offset="0.6969" stop-color="#d7d7d7"/><stop offset="0.8362" stop-color="#d7d7d7"/><stop offset="1.0000" stop-color="#d7d7d7"/></linearGradient>
<linearGradient id="r228" gradientUnits="userSpaceOnUse" x1="0" y1="0" x2="861" y2="0" spreadMethod="reflect"><stop offset="0.0000" stop-color="#c0c0c0"/><stop offset="0.0465" stop-color="#c3c3c3"/><stop offset="0.1045" stop-color="#c7c7c7"/><stop offset="0.1742" stop-color="#cbcbcb"/><stop offset="0.2555" stop-color="#cfcfcf"/><stop offset="0.3484" stop-color="#d2d2d2"/><stop offset="0.4530" stop-color="#d4d4d4"/><stop offset="0.5691" stop-color="#d6d6d6"/><stop offset="0.6969" stop-color="#d7d7d7"/><stop offset="0.8362" stop-color="#d7d7d7"/><stop offset="1.0000" stop-color="#d7d7d7"/></linearGradient>
<linearGradient id="r229" gradientUnits="userSpaceOnUse" x1="0" y1="0" x2="861" y2="0" spreadMethod="reflect"><stop offset="0.0000" stop-color="#c0c0c0"/><stop offset="0.0465" stop-color="#c3c3c3"/><stop offset="0.1045" stop-color="#c7c7c7"/><stop offset="0.1742" stop-color="#cbcbcb"/><stop offset="0.2555" stop-color="#cecece"/><stop offset="0.3484" stop-color="#d2d2d2"/><stop offset="0.4530" stop-color="#d4d4d4"/><stop offset="0.5691" stop-color="#d6d6d6"/><stop offset="0.6969" stop-color="#d6d6d6"/><stop offset="0.8362" stop-color="#d6d6d6"/><stop offset="1.0000" stop-color="#d6d6d6"/></linearGradient>
<linearGradient id="r230" gradientUnits="userSpaceOnUse" x1="0" y1="0" x2="861" y2="0" spreadMethod="reflect"><stop offset="0.0000" stop-color="#c0c0c0"/><stop offset="0.0465" stop-color="#c3c3c3"/><stop offset="0.1045" stop-color="#c7c7c7"/><stop offset="0.1742" stop-color="#cbcbcb"/><stop offset="0.2555" stop-color="#cecece"/><stop offset="0.3484" stop-color="#d2d2d2"/><stop offset="0.4530" stop-color="#d4d4d4"/><stop offset="0.5691" stop-color="#d5d5d5"/><stop offset="0.6969" stop-color="#d6d6d6"/><stop offset="0.8362" stop-color="#d6d6d6"/><stop offset="1.0000" stop-color="#d6d6d6"/></linearGradient>
<linearGradient id="r231" gradientUnits="userSpaceOnUse" x1="0" y1="0" x2="861" y2="0" spreadMethod="reflect"><stop offset="0.0000" stop-color="#c0c0c0"/><stop offset="0.0465" stop-color="#c3c3c3"/><stop offset="0.1045" stop-color="#c7c7c7"/><stop offset="0.1742" stop-color="#cacaca"/><stop offset="0.2555" stop-color="#cecece"/><stop offset="0.3484" stop-color="#d1d1d1"/><stop offset="0.4530" stop-color="#d4d4d4"/><stop offset="0.5691" stop-color="#d5d5d5"/><stop offset="0.6969" stop-color="#d6d6d6"/><stop offset="0.8362" stop-color="#d6d6d6"/><stop offset="1.0000" stop-color="#d6d6d6"/></linearGradient>
<linearGradient id="r232" gradientUnits="userSpaceOnUse" x1="0" y1="0" x2="861" y2="0" spreadMethod="reflect"><stop offset="0.0000" stop-color="#c0c0c0"/><stop offset="0.0465" stop-color="#c3c3c3"/><stop offset="0.1045" stop-color="#c7c7c7"/><stop offset="0.1742" stop-color="#cacaca"/><stop offset="0.2555" stop-color="#cecece"/><stop offset="0.3484" stop-color="#d1d1d1"/><stop offset="0.4530" stop-color="#d4d4d4"/><stop offset="0.5691" stop-color="#d5d5d5"/><stop offset="0.6969" stop-color="#d6d6d6"/><stop offset="0.8362" stop-color="#d6d6d6"/><stop offset="1.0000" stop-color="#d6d6d6"/></linearGradient>
<linearGradient id="r233" gradientUnits="userSpaceOnUse" x1="0" y1="0" x2="861" y2="0" spreadMethod="reflect"><stop offset="0.0000" stop-color="#c0c0c0"/><stop offset="0.0465" stop-color="#c3c3c3"/><stop offset="0.1045" stop-color="#c6c6c6"/><stop offset="0.1742" stop-color="#cacaca"/><stop offset="0.2555" stop-color="#cecece"/><stop offset="0.3484" stop-color="#d1d1d1"/><stop offset="0.4530" stop-color="#d3d3d3"/><stop offset="0.5691" stop-color="#d5d5d5"/><stop offset="0.6969" stop-color="#d5d5d5"/><stop offset="0.8362" stop-color="#d6d6d6"/><stop offset="1.0000" stop-color="#d6d6d6"/></linearGradient>
<linearGradient id="r234" gradientUnits="userSpaceOnUse" x1="0" y1="0" x2="861" y2="0" spreadMethod="reflect"><stop offset="0.0000" stop-color="#c0c0c0"/><stop offset="0.0465" stop-color="#c3c3c3"/><stop offset="0.1045" stop-color="#c6c6c6"/><stop offset="0.1742" stop-color="#cacaca"/><stop offset="0.2555" stop-color="#cecece"/><stop offset="0.3484" stop-color="#d1d1d1"/><stop offset="0.4530" stop-color="#d3d3d3"/><stop offset="0.5691" stop-color="#d5d5d5"/><stop offset="0.6969" stop-color="#d5d5d5"/><stop offset="0.8362" stop-color="#d5d5d5"/><stop offset="1.0000" stop-color="#d5d5d5"/></linearGradient>
<linearGradient id="r235" gradientUnits="userSpaceOnUse" x1="0" y1="0" x2="861" y2="0" spreadMethod="reflect"><stop offset="0.0000" stop-color="#c0c0c0"/><stop offset="0.0465" stop-color="#c3c3c3"/><stop offset="0.1045" stop-color="#c6c6c6"/><stop offset="0.1742" stop-color="#cacaca"/><stop offset="0.2555" stop-color="#cecece"/><stop offset="0.3484" stop-color="#d1d1d1"/><stop offset="0.4530" stop-color="#d3d3d3"/><stop offset="0.5691" stop-color="#d4d4d4"/><stop offset="0.6969" stop-color="#d5d5d5"/><stop offset="0.8362" stop-color="#d5d5d5"/><stop offset="1.0000" stop-color="#d5d5d5"/></linearGradient>
<linearGradient id="r236" gradientUnits="userSpaceOnUse" x1="0" y1="0" x2="861" y2="0" spreadMethod="reflect"><stop offset="0.0000" stop-color="#c0c0c0"/><stop offset="0.0465" stop-color="#c3c3c3"/><stop offset="0.1045" stop-color="#c6c6c6"/><stop offset="0.1742" stop-color="#cacaca"/><stop offset="0.2555" stop-color="#cdcdcd"/><stop offset="0.3484" stop-color="#d0d0d0"/><stop offset="0.4530" stop-color="#d3d3d3"/><stop offset="0.5691" stop-color="#d4d4d4"/><stop offset="0.6969" stop-color="#d5d5d5"/><stop offset="0.8362" stop-color="#d5d5d5"/><stop offset="1.0000" stop-color="#d5d5d5"/></linearGradient>
<linearGradient id="r237" gradientUnits="userSpaceOnUse" x1="0" y1="0" x2="861" y2="0" spreadMethod="reflect"><stop offset="0.0000" stop-color="#bfbfbf"/><stop offset="0.0465" stop-color="#c2c2c2"/><stop offset="0.1045" stop-color="#c6c6c6"/><stop offset="0.1742" stop-color="#cacaca"/><stop offset="0.2555" stop-color="#cdcdcd"/><stop offset="0.3484" stop-color="#d0d0d0"/><stop offset="0.4530" stop-color="#d3d3d3"/><stop offset="0.5691" stop-color="#d4d4d4"/><stop offset="0.6969" stop-color="#d5d5d5"/><stop offset="0.8362" stop-color="#d5d5d5"/><stop offset="1.0000" stop-color="#d5d5d5"/></linearGradient>
<linearGradient id="r238" gradientUnits="userSpaceOnUse" x1="0" y1="0" x2="861" y2="0" spreadMethod="reflect"><stop offset="0.0000" stop-color="#bfbfbf"/><stop offset="0.0465" stop-color="#c2c2c2"/><stop offset="0.1045" stop-color="#c6c6c6"/><stop offset="0.1742" stop-color="#c9c9c9"/><stop offset="0.2555" stop-color="#cdcdcd"/><stop offset="0.3484" stop-color="#d0d0d0"/><stop offset="0.4530" stop-color="#d2d2d2"/><stop offset="0.5691" stop-color="#d4d4d4"/><stop offset="0.6969" stop-color="#d4d4d4"/><stop offset="0.8362" stop-color="#d5d5d5"/><stop offset="1.0000" stop-color="#d5d5d5"/></linearGradient>
<pattern id="dots" patternUnits="userSpaceOnUse" width="8" height="8">
<rect width="8" height="8" fill="#3d3d3d"/>
<rect x="1" y="1" width="2" height="2" fill="#686868"/>
<rect x="5" y="5" width="2" height="2" fill="#686868"/>
</pattern>
<filter id="ringShadow" x="-20%" y="-20%" width="140%" height="140%">
<feGaussianBlur in="SourceAlpha" stdDeviation="17"/>
<feOffset dx="2" dy="8"/>
<feComponentTransfer><feFuncA type="linear" slope="0.18"/></feComponentTransfer>
<feMerge><feMergeNode/><feMergeNode in="SourceGraphic"/></feMerge>
</filter>
<filter id="lblShadow" x="-30%" y="-30%" width="160%" height="160%">
<feGaussianBlur in="SourceAlpha" stdDeviation="4"/>
<feOffset dx="5" dy="5"/>
<feComponentTransfer><feFuncA type="linear" slope="0.6"/></feComponentTransfer>
<feMerge><feMergeNode/><feMergeNode in="SourceGraphic"/></feMerge>
</filter>
</defs>
<g shape-rendering="crispEdges">
<rect x="0" y="0" width="1725" height="4" fill="url(#r0)"/>
<rect x="0" y="4" width="1725" height="4" fill="url(#r1)"/>
<rect x="0" y="8" width="1725" height="4" fill="url(#r2)"/>
<rect x="0" y="12" width="1725" height="4" fill="url(#r3)"/>
<rect x="0" y="16" width="1725" height="4" fill="url(#r4)"/>
<rect x="0" y="20" width="1725" height="4" fill="url(#r5)"/>
<rect x="0" y="24" width="1725" height="4" fill="url(#r6)"/>
<rect x="0" y="28" width="1725" height="4" fill="url(#r7)"/>
<rect x="0" y="32" width="1725" height="4" fill="url(#r8)"/>
<rect x="0" y="36" width="1725" height="4" fill="url(#r9)"/>
<rect x="0" y="40" width="1725" height="4" fill="url(#r10)"/>
<rect x="0" y="44" width="1725" height="4" fill="url(#r11)"/>
<rect x="0" y="48" width="1725" height="4" fill="url(#r12)"/>
<rect x="0" y="52" width="1725" height="4" fill="url(#r13)"/>
<rect x="0" y="56" width="1725" height="4" fill="url(#r14)"/>
<rect x="0" y="60" width="1725" height="4" fill="url(#r15)"/>
<rect x="0" y="64" width="1725" height="4" fill="url(#r16)"/>
<rect x="0" y="68" width="1725" height="4" fill="url(#r17)"/>
<rect x="0" y="72" width="1725" height="4" fill="url(#r18)"/>
<rect x="0" y="76" width="1725" height="4" fill="url(#r19)"/>
<rect x="0" y="80" width="1725" height="4" fill="url(#r20)"/>
<rect x="0" y="84" width="1725" height="4" fill="url(#r21)"/>
<rect x="0" y="88" width="1725" height="4" fill="url(#r22)"/>
<rect x="0" y="92" width="1725" height="4" fill="url(#r23)"/>
<rect x="0" y="96" width="1725" height="4" fill="url(#r24)"/>
<rect x="0" y="100" width="1725" height="4" fill="url(#r25)"/>
<rect x="0" y="104" width="1725" height="4" fill="url(#r26)"/>
<rect x="0" y="108" width="1725" height="4" fill="url(#r27)"/>
<rect x="0" y="112" width="1725" height="4" fill="url(#r28)"/>
<rect x="0" y="116" width="1725" height="4" fill="url(#r29)"/>
<rect x="0" y="120" width="1725" height="4" fill="url(#r30)"/>
<rect x="0" y="124" width="1725" height="4" fill="url(#r31)"/>
<rect x="0" y="128" width="1725" height="4" fill="url(#r32)"/>
<rect x="0" y="132" width="1725" height="4" fill="url(#r33)"/>
<rect x="0" y="136" width="1725" height="4" fill="url(#r34)"/>
<rect x="0" y="140" width="1725" height="4" fill="url(#r35)"/>
<rect x="0" y="144" width="1725" height="4" fill="url(#r36)"/>
<rect x="0" y="148" width="1725" height="4" fill="url(#r37)"/>
<rect x="0" y="152" width="1725" height="4" fill="url(#r38)"/>
<rect x="0" y="156" width="1725" height="4" fill="url(#r39)"/>
<rect x="0" y="160" width="1725" height="4" fill="url(#r40)"/>
<rect x="0" y="164" width="1725" height="4" fill="url(#r41)"/>
<rect x="0" y="168" width="1725" height="4" fill="url(#r42)"/>
<rect x="0" y="172" width="1725" height="4" fill="url(#r43)"/>
<rect x="0" y="176" width="1725" height="4" fill="url(#r44)"/>
<rect x="0" y="180" width="1725" height="4" fill="url(#r45)"/>
<rect x="0" y="184" width="1725" height="4" fill="url(#r46)"/>
<rect x="0" y="188" width="1725" height="4" fill="url(#r47)"/>
<rect x="0" y="192" width="1725" height="4" fill="url(#r48)"/>
<rect x="0" y="196" width="1725" height="4" fill="url(#r49)"/>
<rect x="0" y="200" width="1725" height="4" fill="url(#r50)"/>
<rect x="0" y="204" width="1725" height="4" fill="url(#r51)"/>
<rect x="0" y="208" width="1725" height="4" fill="url(#r52)"/>
<rect x="0" y="212" width="1725" height="4" fill="url(#r53)"/>
<rect x="0" y="216" width="1725" height="4" fill="url(#r54)"/>
<rect x="0" y="220" width="1725" height="4" fill="url(#r55)"/>
<rect x="0" y="224" width="1725" height="4" fill="url(#r56)"/>
<rect x="0" y="228" width="1725" height="4" fill="url(#r57)"/>
<rect x="0" y="232" width="1725" height="4" fill="url(#r58)"/>
<rect x="0" y="236" width="1725" height="4" fill="url(#r59)"/>
<rect x="0" y="240" width="1725" height="4" fill="url(#r60)"/>
<rect x="0" y="244" width="1725" height="4" fill="url(#r61)"/>
<rect x="0" y="248" width="1725" height="4" fill="url(#r62)"/>
<rect x="0" y="252" width="1725" height="4" fill="url(#r63)"/>
<rect x="0" y="256" width="1725" height="4" fill="url(#r64)"/>
<rect x="0" y="260" width="1725" height="4" fill="url(#r65)"/>
<rect x="0" y="264" width="1725" height="4" fill="url(#r66)"/>
<rect x="0" y="268" width="1725" height="4" fill="url(#r67)"/>
<rect x="0" y="272" width="1725" height="4" fill="url(#r68)"/>
<rect x="0" y="276" width="1725" height="4" fill="url(#r69)"/>
<rect x="0" y="280" width="1725" height="4" fill="url(#r70)"/>
<rect x="0" y="284" width="1725" height="4" fill="url(#r71)"/>
<rect x="0" y="288" width="1725" height="4" fill="url(#r72)"/>
<rect x="0" y="292" width="1725" height="4" fill="url(#r73)"/>
<rect x="0" y="296" width="1725" height="4" fill="url(#r74)"/>
<rect x="0" y="300" width="1725" height="4" fill="url(#r75)"/>
<rect x="0" y="304" width="1725" height="4" fill="url(#r76)"/>
<rect x="0" y="308" width="1725" height="4" fill="url(#r77)"/>
<rect x="0" y="312" width="1725" height="4" fill="url(#r78)"/>
<rect x="0" y="316" width="1725" height="4" fill="url(#r79)"/>
<rect x="0" y="320" width="1725" height="4" fill="url(#r80)"/>
<rect x="0" y="324" width="1725" height="4" fill="url(#r81)"/>
<rect x="0" y="328" width="1725" height="4" fill="url(#r82)"/>
<rect x="0" y="332" width="1725" height="4" fill="url(#r83)"/>
<rect x="0" y="336" width="1725" height="4" fill="url(#r84)"/>
<rect x="0" y="340" width="1725" height="4" fill="url(#r85)"/>
<rect x="0" y="344" width="1725" height="4" fill="url(#r86)"/>
<rect x="0" y="348" width="1725" height="4" fill="url(#r87)"/>
<rect x="0" y="352" width="1725" height="4" fill="url(#r88)"/>
<rect x="0" y="356" width="1725" height="4" fill="url(#r89)"/>
<rect x="0" y="360" width="1725" height="4" fill="url(#r90)"/>
<rect x="0" y="364" width="1725" height="4" fill="url(#r91)"/>
<rect x="0" y="368" width="1725" height="4" fill="url(#r92)"/>
<rect x="0" y="372" width="1725" height="4" fill="url(#r93)"/>
<rect x="0" y="376" width="1725" height="4" fill="url(#r94)"/>
<rect x="0" y="380" width="1725" height="4" fill="url(#r95)"/>
<rect x="0" y="384" width="1725" height="4" fill="url(#r96)"/>
<rect x="0" y="388" width="1725" height="4" fill="url(#r97)"/>
<rect x="0" y="392" width="1725" height="4" fill="url(#r98)"/>
<rect x="0" y="396" width="1725" height="4" fill="url(#r99)"/>
<rect x="0" y="400" width="1725" height="4" fill="url(#r100)"/>
<rect x="0" y="404" width="1725" height="4" fill="url(#r101)"/>
<rect x="0" y="408" width="1725" height="4" fill="url(#r102)"/>
<rect x="0" y="412" width="1725" height="4" fill="url(#r103)"/>
<rect x="0" y="416" width="1725" height="4" fill="url(#r104)"/>
<rect x="0" y="420" width="1725" height="4" fill="url(#r105)"/>
<rect x="0" y="424" width="1725" height="4" fill="url(#r106)"/>
<rect x="0" y="428" width="1725" height="4" fill="url(#r107)"/>
<rect x="0" y="432" width="1725" height="4" fill="url(#r108)"/>
<rect x="0" y="436" width="1725" height="4" fill="url(#r109)"/>
<rect x="0" y="440" width="1725" height="4" fill="url(#r110)"/>
<rect x="0" y="444" width="1725" height="4" fill="url(#r111)"/>
<rect x="0" y="448" width="1725" height="4" fill="url(#r112)"/>
<rect x="0" y="452" width="1725" height="4" fill="url(#r113)"/>
<rect x="0" y="456" width="1725" height="4" fill="url(#r114)"/>
<rect x="0" y="460" width="1725" height="4" fill="url(#r115)"/>
<rect x="0" y="464" width="1725" height="4" fill="url(#r116)"/>
<rect x="0" y="468" width="1725" height="4" fill="url(#r117)"/>
<rect x="0" y="472" width="1725" height="4" fill="url(#r118)"/>
<rect x="0" y="476" width="1725" height="4" fill="url(#r119)"/>
<rect x="0" y="480" width="1725" height="4" fill="url(#r120)"/>
<rect x="0" y="484" width="1725" height="4" fill="url(#r121)"/>
<rect x="0" y="488" width="1725" height="4" fill="url(#r122)"/>
<rect x="0" y="492" width="1725" height="4" fill="url(#r123)"/>
<rect x="0" y="496" width="1725" height="4" fill="url(#r124)"/>
<rect x="0" y="500" width="1725" height="4" fill="url(#r125)"/>
<rect x="0" y="504" width="1725" height="4" fill="url(#r126)"/>
<rect x="0" y="508" width="1725" height="4" fill="url(#r127)"/>
<rect x="0" y="512" width="1725" height="4" fill="url(#r128)"/>
<rect x="0" y="516" width="1725" height="4" fill="url(#r129)"/>
<rect x="0" y="520" width="1725" height="4" fill="url(#r130)"/>
<rect x="0" y="524" width="1725" height="4" fill="url(#r131)"/>
<rect x="0" y="528" width="1725" height="4" fill="url(#r132)"/>
<rect x="0" y="532" width="1725" height="4" fill="url(#r133)"/>
<rect x="0" y="536" width="1725" height="4" fill="url(#r134)"/>
<rect x="0" y="540" width="1725" height="4" fill="url(#r135)"/>
<rect x="0" y="544" width="1725" height="4" fill="url(#r136)"/>
<rect x="0" y="548" width="1725" height="4" fill="url(#r137)"/>
<rect x="0" y="552" width="1725" height="4" fill="url(#r138)"/>
<rect x="0" y="556" width="1725" height="4" fill="url(#r139)"/>
<rect x="0" y="560" width="1725" height="4" fill="url(#r140)"/>
<rect x="0" y="564" width="1725" height="4" fill="url(#r141)"/>
<rect x="0" y="568" width="1725" height="4" fill="url(#r142)"/>
<rect x="0" y="572" width="1725" height="4" fill="url(#r143)"/>
<rect x="0" y="576" width="1725" height="4" fill="url(#r144)"/>
<rect x="0" y="580" width="1725" height="4" fill="url(#r145)"/>
<rect x="0" y="584" width="1725" height="4" fill="url(#r146)"/>
<rect x="0" y="588" width="1725" height="4" fill="url(#r147)"/>
<rect x="0" y="592" width="1725" height="4" fill="url(#r148)"/>
<rect x="0" y="596" width="1725" height="4" fill="url(#r149)"/>
<rect x="0" y="600" width="1725" height="4" fill="url(#r150)"/>
<rect x="0" y="604" width="1725" height="4" fill="url(#r151)"/>
<rect x="0" y="608" width="1725" height="4" fill="url(#r152)"/>
<rect x="0" y="612" width="1725" height="4" fill="url(#r153)"/>
<rect x="0" y="616" width="1725" height="4" fill="url(#r154)"/>
<rect x="0" y="620" width="1725" height="4" fill="url(#r155)"/>
<rect x="0" y="624" width="1725" height="4" fill="url(#r156)"/>
<rect x="0" y="628" width="1725" height="4" fill="url(#r157)"/>
<rect x="0" y="632" width="1725" height="4" fill="url(#r158)"/>
<rect x="0" y="636" width="1725" height="4" fill="url(#r159)"/>
<rect x="0" y="640" width="1725" height="4" fill="url(#r160)"/>
<rect x="0" y="644" width="1725" height="4" fill="url(#r161)"/>
<rect x="0" y="648" width="1725" height="4" fill="url(#r162)"/>
<rect x="0" y="652" width="1725" height="4" fill="url(#r163)"/>
<rect x="0" y="656" width="1725" height="4" fill="url(#r164)"/>
<rect x="0" y="660" width="1725" height="4" fill="url(#r165)"/>
<rect x="0" y="664" width="1725" height="4" fill="url(#r166)"/>
<rect x="0" y="668" width="1725" height="4" fill="url(#r167)"/>
<rect x="0" y="672" width="1725" height="4" fill="url(#r168)"/>
<rect x="0" y="676" width="1725" height="4" fill="url(#r169)"/>
<rect x="0" y="680" width="1725" height="4" fill="url(#r170)"/>
<rect x="0" y="684" width="1725" height="4" fill="url(#r171)"/>
<rect x="0" y="688" width="1725" height="4" fill="url(#r172)"/>
<rect x="0" y="692" width="1725" height="4" fill="url(#r173)"/>
<rect x="0" y="696" width="1725" height="4" fill="url(#r174)"/>
<rect x="0" y="700" width="1725" height="4" fill="url(#r175)"/>
<rect x="0" y="704" width="1725" height="4" fill="url(#r176)"/>
<rect x="0" y="708" width="1725" height="4" fill="url(#r177)"/>
<rect x="0" y="712" width="1725" height="4" fill="url(#r178)"/>
<rect x="0" y="716" width="1725" height="4" fill="url(#r179)"/>
<rect x="0" y="720" width="1725" height="4" fill="url(#r180)"/>
<rect x="0" y="724" width="1725" height="4" fill="url(#r181)"/>
<rect x="0" y="728" width="1725" height="4" fill="url(#r182)"/>
<rect x="0" y="732" width="1725" height="4" fill="url(#r183)"/>
<rect x="0" y="736" width="1725" height="4" fill="url(#r184)"/>
<rect x="0" y="740" width="1725" height="4" fill="url(#r185)"/>
<rect x="0" y="744" width="1725" height="4" fill="url(#r186)"/>
<rect x="0" y="748" width="1725" height="4" fill="url(#r187)"/>
<rect x="0" y="752" width="1725" height="4" fill="url(#r188)"/>
<rect x="0" y="756" width="1725" height="4" fill="url(#r189)"/>
<rect x="0" y="760" width="1725" height="4" fill="url(#r190)"/>
<rect x="0" y="764" width="1725" height="4" fill="url(#r191)"/>
<rect x="0" y="768" width="1725" height="4" fill="url(#r192)"/>
<rect x="0" y="772" width="1725" height="4" fill="url(#r193)"/>
<rect x="0" y="776" width="1725" height="4" fill="url(#r194)"/>
<rect x="0" y="780" width="1725" height="4" fill="url(#r195)"/>
<rect x="0" y="784" width="1725" height="4" fill="url(#r196)"/>
<rect x="0" y="788" width="1725" height="4" fill="url(#r197)"/>
<rect x="0" y="792" width="1725" height="4" fill="url(#r198)"/>
<rect x="0" y="796" width="1725" height="4" fill="url(#r199)"/>
<rect x="0" y="800" width="1725" height="4" fill="url(#r200)"/>
<rect x="0" y="804" width="1725" height="4" fill="url(#r201)"/>
<rect x="0" y="808" width="1725" height="4" fill="url(#r202)"/>
<rect x="0" y="812" width="1725" height="4" fill="url(#r203)"/>
<rect x="0" y="816" width="1725" height="4" fill="url(#r204)"/>
<rect x="0" y="820" width="1725" height="4" fill="url(#r205)"/>
<rect x="0" y="824" width="1725" height="4" fill="url(#r206)"/>
<rect x="0" y="828" width="1725" height="4" fill="url(#r207)"/>
<rect x="0" y="832" width="1725" height="4" fill="url(#r208)"/>
<rect x="0" y="836" width="1725" height="4" fill="url(#r209)"/>
<rect x="0" y="840" width="1725" height="4" fill="url(#r210)"/>
<rect x="0" y="844" width="1725" height="4" fill="url(#r211)"/>
<rect x="0" y="848" width="1725" height="4" fill="url(#r212)"/>
<rect x="0" y="852" width="1725" height="4" fill="url(#r213)"/>
<rect x="0" y="856" width="1725" height="4" fill="url(#r214)"/>
<rect x="0" y="860" width="1725" height="4" fill="url(#r215)"/>
<rect x="0" y="864" width="1725" height="4" fill="url(#r216)"/>
<rect x="0" y="868" width="1725" height="4" fill="url(#r217)"/>
<rect x="0" y="872" width="1725" height="4" fill="url(#r218)"/>
<rect x="0" y="876" width="1725" height="4" fill="url(#r219)"/>
<rect x="0" y="880" width="1725" height="4" fill="url(#r220)"/>
<rect x="0" y="884" width="1725" height="4" fill="url(#r221)"/>
<rect x="0" y="888" width="1725" height="4" fill="url(#r222)"/>
<rect x="0" y="892" width="1725" height="4" fill="url(#r223)"/>
<rect x="0" y="896" width="1725" height="4" fill="url(#r224)"/>
<rect x="0" y="900" width="1725" height="4" fill="url(#r225)"/>
<rect x="0" y="904" width="1725" height="4" fill="url(#r226)"/>
<rect x="0" y="908" width="1725" height="4" fill="url(#r227)"/>
<rect x="0" y="912" width="1725" height="4" fill="url(#r228)"/>
<rect x="0" y="916" width="1725" height="4" fill="url(#r229)"/>
<rect x="0" y="920" width="1725" height="4" fill="url(#r230)"/>
<rect x="0" y="924" width="1725" height="4" fill="url(#r231)"/>
<rect x="0" y="928" width="1725" height="4" fill="url(#r232)"/>
<rect x="0" y="932" width="1725" height="4" fill="url(#r233)"/>
<rect x="0" y="936" width="1725" height="4" fill="url(#r234)"/>
<rect x="0" y="940" width="1725" height="4" fill="url(#r235)"/>
<rect x="0" y="944" width="1725" height="4" fill="url(#r236)"/>
<rect x="0" y="948" width="1725" height="4" fill="url(#r237)"/>
<rect x="0" y="952" width="1725" height="4" fill="url(#r238)"/>
</g>
<rect x="0" y="0" width="1725" height="3" fill="#bfbfbf"/>
<rect x="1722" y="0" width="3" height="956" fill="#bdbdbd"/>
<g fill="#c6c6c6"><rect x="1725" y="34" width="3" height="2"/><rect x="1725" y="92" width="3" height="2"/><rect x="1725" y="150" width="3" height="2"/><rect x="1725" y="208" width="3" height="2"/><rect x="1725" y="266" width="3" height="2"/><rect x="1725" y="324" width="3" height="2"/><rect x="1725" y="382" width="3" height="2"/><rect x="1725" y="440" width="3" height="2"/><rect x="1725" y="498" width="3" height="2"/><rect x="1725" y="556" width="3" height="2"/><rect x="1725" y="614" width="3" height="2"/><rect x="1725" y="672" width="3" height="2"/><rect x="1725" y="730" width="3" height="2"/><rect x="1725" y="788" width="3" height="2"/><rect x="1725" y="846" width="3" height="2"/><rect x="1725" y="904" width="3" height="2"/></g>

<g font-size="61" font-weight="bold" fill="#404040">
<text x="371.31" y="90" textLength="216.64" lengthAdjust="spacingAndGlyphs">Největší</text>
<text x="613.50" y="90" textLength="142.60" lengthAdjust="spacingAndGlyphs">výzvy</text>
<text x="773.46" y="90" textLength="93.13" lengthAdjust="spacingAndGlyphs">pro</text>
<text x="881.80" y="90" textLength="49.66" lengthAdjust="spacingAndGlyphs">IT</text>
<text x="946.86" y="90" textLength="403.25" lengthAdjust="spacingAndGlyphs">administrátory</text>
</g>

<g filter="url(#ringShadow)">
<path fill="#3674C0" d="M581.00 207.50 A329.5 329.5 0 0 1 682.82 850.37 L631.83 693.45 A164.5 164.5 0 0 0 581.00 372.50 Z"/>
<path fill="#F17A38" d="M682.82 850.37 A329.5 329.5 0 0 1 314.43 343.32 L447.92 440.31 A164.5 164.5 0 0 0 631.83 693.45 Z"/>
<path fill="#A5A5A5" d="M314.43 343.32 A329.5 329.5 0 0 1 479.18 223.63 L530.17 380.55 A164.5 164.5 0 0 0 447.92 440.31 Z"/>
<path fill="#FEBB2F" d="M479.18 223.63 A329.5 329.5 0 0 1 581.00 207.50 L581.00 372.50 A164.5 164.5 0 0 0 530.17 380.55 Z"/>
</g>

<g filter="url(#lblShadow)">
<rect x="783" y="471" width="86" height="55" fill="url(#dots)"/>
<rect x="338" y="655" width="86" height="55.5" fill="url(#dots)"/>
<rect x="393" y="309" width="86" height="55.5" fill="url(#dots)"/>
<rect x="509" y="265" width="67" height="55.5" fill="url(#dots)"/>
</g>
<g font-weight="bold" font-size="36.5" fill="#ffffff" stroke="#ffffff" stroke-width="0.7">
<text x="792" y="511" textLength="66.5" lengthAdjust="spacingAndGlyphs">45%</text>
<text x="348.3" y="695.5" textLength="66.5" lengthAdjust="spacingAndGlyphs">40%</text>
<text x="401.5" y="350" textLength="68" lengthAdjust="spacingAndGlyphs">10%</text>
<text x="518" y="305" textLength="47.5" lengthAdjust="spacingAndGlyphs">5%</text>
</g>

<rect x="1164" y="299" width="537" height="477" fill="#f0f0f0" fill-opacity="0.45"/>
<rect x="1184" y="323" width="22" height="22" fill="#3674C0"/>
<rect x="1184" y="442" width="22" height="22" fill="#F17A38"/>
<rect x="1184" y="562" width="22" height="22" fill="#A5A5A5"/>
<rect x="1184" y="681" width="22" height="22" fill="#FEBB2F"/>
<g font-size="38" fill="#404040">
<text x="1215.20" y="345" textLength="125.45" lengthAdjust="spacingAndGlyphs">Udržení</text>
<text x="1351.20" y="345" textLength="92.96" lengthAdjust="spacingAndGlyphs">kroku</text>
<text x="1452.80" y="345" textLength="15.40" lengthAdjust="spacingAndGlyphs">s</text>
<text x="1478.60" y="345" textLength="207.88" lengthAdjust="spacingAndGlyphs">nejnovějšími</text>
<text x="1216.00" y="393" textLength="233.01" lengthAdjust="spacingAndGlyphs">technologiemi</text>
<text x="1215.60" y="464" textLength="136.77" lengthAdjust="spacingAndGlyphs">Ochrana</text>
<text x="1362.80" y="464" textLength="74.03" lengthAdjust="spacingAndGlyphs">před</text>
<text x="1447.10" y="464" textLength="90.98" lengthAdjust="spacingAndGlyphs">kyber</text>
<text x="1548.40" y="464" textLength="92.76" lengthAdjust="spacingAndGlyphs">útoky</text>
<text x="1214.60" y="582" textLength="183.82" lengthAdjust="spacingAndGlyphs">Dodržovaní</text>
<text x="1411.30" y="582" textLength="77.27" lengthAdjust="spacingAndGlyphs">stále</text>
<text x="1496.60" y="582" textLength="177.72" lengthAdjust="spacingAndGlyphs">složitějších</text>
<text x="1214.60" y="631" textLength="143.19" lengthAdjust="spacingAndGlyphs">předpisů</text>
<text x="1215.00" y="702" textLength="136.04" lengthAdjust="spacingAndGlyphs">Zvládání</text>
<text x="1360.60" y="702" textLength="175.85" lengthAdjust="spacingAndGlyphs">rostoucího</text>
<text x="1544.70" y="702" textLength="95.47" lengthAdjust="spacingAndGlyphs">počtu</text>
<text x="1215.00" y="752" textLength="125.12" lengthAdjust="spacingAndGlyphs">zařízení</text>
</g>

<g font-size="36" font-style="italic" fill="#000000">
<text x="1216.40" y="912" textLength="93.20" lengthAdjust="spacingAndGlyphs">Zdroj:</text>
<text x="1319.60" y="912" textLength="103.81" lengthAdjust="spacingAndGlyphs">ZEBRA</text>
<text x="1432.80" y="912" textLength="149.39" lengthAdjust="spacingAndGlyphs">SYSTEMS</text>
</g>
</svg>
</body>
</html>
